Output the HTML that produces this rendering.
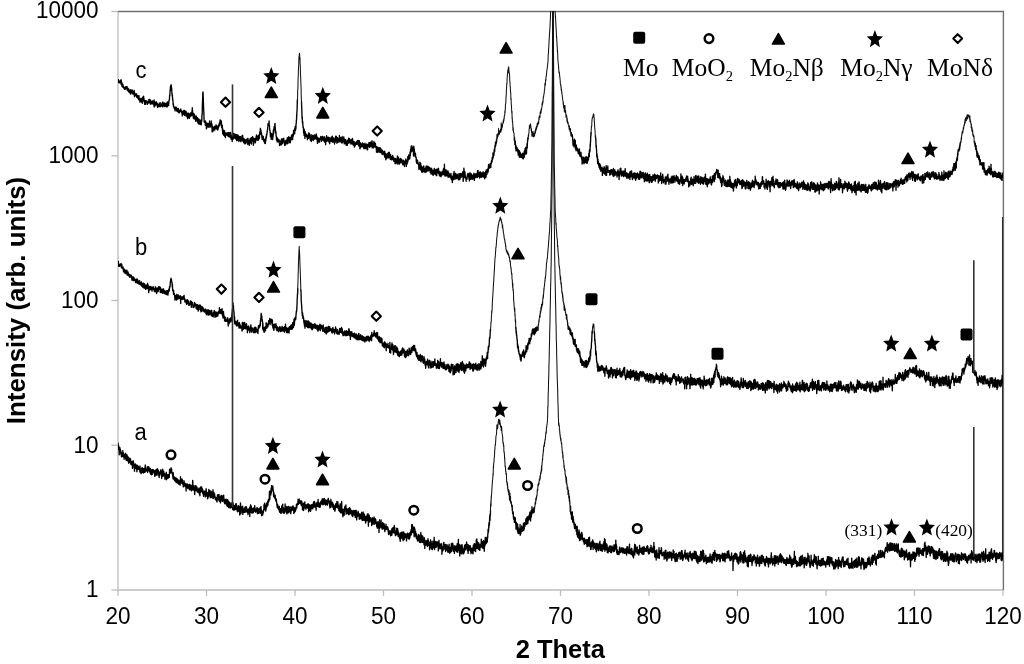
<!DOCTYPE html>
<html><head><meta charset="utf-8"><title>XRD</title>
<style>html,body{margin:0;padding:0;background:#fff;width:1024px;height:664px;overflow:hidden}svg{display:block;will-change:transform;filter:blur(0.3px)}</style>
</head><body>
<svg width="1024" height="664" viewBox="0 0 1024 664">
<rect width="1024" height="664" fill="#fff"/>
<defs><clipPath id="pa"><rect x="118" y="11" width="885" height="579"/></clipPath></defs>
<g stroke="#bdbdbd" stroke-width="1.3" fill="none"><line x1="111.5" y1="11.5" x2="118" y2="11.5"/><line x1="111.5" y1="155.8" x2="118" y2="155.8"/><line x1="111.5" y1="300.5" x2="118" y2="300.5"/><line x1="111.5" y1="445.2" x2="118" y2="445.2"/><line x1="111.5" y1="590.0" x2="118" y2="590.0"/><line x1="118.0" y1="590" x2="118.0" y2="595.8"/><line x1="206.5" y1="590" x2="206.5" y2="595.8"/><line x1="295.0" y1="590" x2="295.0" y2="595.8"/><line x1="383.5" y1="590" x2="383.5" y2="595.8"/><line x1="472.0" y1="590" x2="472.0" y2="595.8"/><line x1="560.5" y1="590" x2="560.5" y2="595.8"/><line x1="649.0" y1="590" x2="649.0" y2="595.8"/><line x1="737.5" y1="590" x2="737.5" y2="595.8"/><line x1="826.0" y1="590" x2="826.0" y2="595.8"/><line x1="914.5" y1="590" x2="914.5" y2="595.8"/><line x1="1003.0" y1="590" x2="1003.0" y2="595.8"/>
<path d="M118 11.5V590H1003.4"/></g>
<path d="M118 11.5H1003.4V590" fill="none" stroke="#707070" stroke-width="1.4"/>
<g clip-path="url(#pa)" fill="none" stroke="#000" stroke-width="1.35" stroke-linejoin="round">
<path d="M118.0 80.9 118.1 81.6 118.3 81.3 118.4 79.7 118.5 82.4 118.7 82.2 118.8 81.3 118.9 82.8 119.1 82.7 119.2 82.6 119.3 82.3 119.5 82.7 119.6 81.1 119.7 81.6 119.9 81.1 120.0 82.3 120.1 81.7 120.3 81.4 120.4 80.5 120.5 81.7 120.7 82.2 120.8 82.1 120.9 84.0 121.1 83.9 121.2 79.8 121.3 80.9 121.5 82.9 121.6 82.8 121.7 83.6 121.8 83.8 122.0 86.2 122.1 82.8 122.2 84.0 122.4 87.0 122.5 85.8 122.6 86.3 122.8 85.3 122.9 84.4 123.0 86.9 123.2 87.1 123.3 85.9 123.4 86.8 123.6 87.7 123.7 86.9 123.8 88.0 124.0 88.4 124.1 88.4 124.2 87.8 124.4 89.1 124.5 89.4 124.6 88.7 124.8 87.4 124.9 89.1 125.0 87.7 125.2 89.3 125.3 87.0 125.4 89.2 125.6 88.1 125.7 86.7 125.8 87.7 126.0 88.1 126.1 88.3 126.2 86.8 126.4 86.7 126.5 88.2 126.6 87.5 126.8 88.4 126.9 89.1 127.0 86.5 127.2 88.8 127.3 90.1 127.4 88.5 127.6 88.1 127.7 90.1 127.8 89.8 128.0 90.8 128.1 89.6 128.2 88.5 128.4 90.3 128.5 90.1 128.6 91.7 128.8 91.1 128.9 89.1 129.0 89.6 129.2 92.1 129.3 92.0 129.4 90.6 129.5 91.5 129.7 92.1 129.8 92.3 129.9 92.9 130.1 92.4 130.2 92.0 130.3 91.9 130.5 94.1 130.6 89.6 130.7 91.8 130.9 92.0 131.0 90.1 131.1 92.0 131.3 90.7 131.4 92.4 131.5 91.2 131.7 92.1 131.8 92.8 131.9 92.0 132.1 90.6 132.2 89.9 132.3 93.9 132.5 91.8 132.6 91.2 132.7 92.2 132.9 91.9 133.0 93.2 133.1 92.3 133.3 92.4 133.4 91.6 133.5 93.1 133.7 91.4 133.8 93.5 133.9 94.7 134.1 91.2 134.2 90.3 134.3 94.5 134.5 96.7 134.6 92.7 134.7 92.7 134.9 95.1 135.0 93.6 135.1 94.2 135.3 94.5 135.4 95.7 135.5 94.6 135.7 95.5 135.8 94.9 135.9 94.1 136.1 94.7 136.2 93.9 136.3 95.1 136.5 93.8 136.6 94.0 136.7 97.3 136.9 95.7 137.0 95.9 137.1 96.8 137.2 95.9 137.4 96.3 137.5 97.2 137.6 97.1 137.8 95.4 137.9 98.4 138.0 96.3 138.2 95.9 138.3 96.2 138.4 97.0 138.6 99.6 138.7 96.4 138.8 98.3 139.0 95.7 139.1 98.6 139.2 99.9 139.4 98.8 139.5 98.5 139.6 99.8 139.8 100.5 139.9 100.6 140.0 102.3 140.2 100.2 140.3 99.3 140.4 99.9 140.6 100.0 140.7 100.3 140.8 100.2 141.0 100.5 141.1 98.3 141.2 101.5 141.4 99.9 141.5 99.2 141.6 101.4 141.8 102.1 141.9 101.0 142.0 100.4 142.2 98.9 142.3 103.3 142.4 100.6 142.6 97.3 142.7 98.2 142.8 99.1 143.0 97.0 143.1 99.1 143.2 98.4 143.4 100.6 143.5 100.4 143.6 96.1 143.8 99.8 143.9 98.1 144.0 101.8 144.2 101.0 144.3 101.8 144.4 100.1 144.6 103.9 144.7 104.4 144.8 100.7 144.9 102.6 145.1 101.3 145.2 102.0 145.3 100.4 145.5 104.2 145.6 100.6 145.7 101.4 145.9 102.3 146.0 100.9 146.1 101.5 146.3 101.2 146.4 101.9 146.5 100.8 146.7 101.9 146.8 102.5 146.9 102.6 147.1 103.3 147.2 103.0 147.3 104.4 147.5 103.1 147.6 103.3 147.7 102.5 147.9 102.5 148.0 101.3 148.1 103.3 148.3 101.0 148.4 101.3 148.5 102.5 148.7 102.5 148.8 101.5 148.9 99.5 149.1 102.5 149.2 102.3 149.3 99.3 149.5 102.8 149.6 100.9 149.7 100.3 149.9 101.8 150.0 101.5 150.1 102.0 150.3 99.8 150.4 104.2 150.5 101.3 150.7 100.2 150.8 103.0 150.9 101.8 151.1 102.8 151.2 102.1 151.3 102.6 151.5 103.1 151.6 101.6 151.7 103.9 151.9 102.6 152.0 102.0 152.1 103.2 152.2 103.8 152.4 102.6 152.5 101.8 152.6 103.7 152.8 100.8 152.9 101.9 153.0 103.4 153.2 101.8 153.3 103.6 153.4 103.5 153.6 104.6 153.7 102.2 153.8 102.5 154.0 103.6 154.1 100.0 154.2 107.0 154.4 102.4 154.5 102.6 154.6 104.9 154.8 104.1 154.9 102.2 155.0 105.4 155.2 105.8 155.3 104.1 155.4 104.3 155.6 105.0 155.7 103.1 155.8 104.5 156.0 104.0 156.1 102.7 156.2 101.7 156.4 103.1 156.5 102.3 156.6 104.8 156.8 104.0 156.9 104.9 157.0 104.4 157.2 104.9 157.3 103.3 157.4 105.9 157.6 107.4 157.7 104.9 157.8 104.5 158.0 105.0 158.1 104.2 158.2 104.1 158.4 105.0 158.5 104.4 158.6 106.5 158.8 104.7 158.9 105.1 159.0 105.9 159.2 104.3 159.3 106.5 159.4 103.8 159.6 103.5 159.7 104.0 159.8 104.3 159.9 102.8 160.1 104.6 160.2 102.7 160.3 106.7 160.5 105.0 160.6 104.5 160.7 104.3 160.9 105.0 161.0 105.2 161.1 104.1 161.3 104.2 161.4 104.9 161.5 104.4 161.7 106.0 161.8 106.2 161.9 104.7 162.1 105.2 162.2 103.0 162.3 105.5 162.5 104.7 162.6 105.4 162.7 106.9 162.9 102.0 163.0 105.1 163.1 103.4 163.3 105.8 163.4 103.0 163.5 104.0 163.7 104.9 163.8 105.9 163.9 104.9 164.1 103.9 164.2 104.3 164.3 106.2 164.5 105.1 164.6 102.9 164.7 106.1 164.9 105.5 165.0 106.6 165.1 104.4 165.3 105.8 165.4 103.4 165.5 105.4 165.7 104.0 165.8 105.4 165.9 105.8 166.1 103.5 166.2 104.4 166.3 104.6 166.5 106.8 166.6 105.5 166.7 103.0 166.9 105.0 167.0 105.3 167.1 106.9 167.3 101.9 167.4 103.2 167.5 106.3 167.6 102.1 167.8 102.3 167.9 104.6 168.0 105.2 168.2 103.2 168.3 104.6 168.4 104.0 168.6 105.5 168.7 103.2 168.8 103.8 169.0 100.2 169.1 100.8 169.2 99.9 169.4 100.2 169.5 98.3 169.6 95.4 169.8 95.7 169.9 94.5 170.0 92.2 170.2 90.7 170.3 89.6 170.4 86.8 170.6 88.0 170.7 87.3 170.8 85.5 171.0 87.1 171.1 84.7 171.2 86.0 171.4 86.8 171.5 90.5 171.6 87.6 171.8 91.3 171.9 93.2 172.0 93.9 172.2 96.3 172.3 95.0 172.4 94.8 172.6 99.7 172.7 98.5 172.8 100.7 173.0 100.6 173.1 104.3 173.2 104.9 173.4 103.7 173.5 106.5 173.6 106.1 173.8 106.3 173.9 107.1 174.0 107.0 174.2 108.4 174.3 108.2 174.4 107.5 174.6 109.3 174.7 107.3 174.8 108.4 174.9 108.6 175.1 110.9 175.2 107.3 175.3 110.2 175.5 108.2 175.6 107.8 175.7 107.3 175.9 109.0 176.0 108.5 176.1 107.1 176.3 107.3 176.4 108.2 176.5 108.2 176.7 110.6 176.8 111.0 176.9 110.9 177.1 109.6 177.2 108.5 177.3 109.0 177.5 110.0 177.6 111.6 177.7 110.0 177.9 108.6 178.0 109.2 178.1 108.4 178.3 108.6 178.4 109.6 178.5 110.3 178.7 112.6 178.8 110.5 178.9 112.3 179.1 112.9 179.2 110.8 179.3 112.8 179.5 111.7 179.6 110.2 179.7 111.1 179.9 110.7 180.0 110.4 180.1 110.4 180.3 110.8 180.4 111.3 180.5 109.6 180.7 110.9 180.8 109.0 180.9 111.5 181.1 112.1 181.2 111.6 181.3 111.9 181.5 112.4 181.6 110.9 181.7 111.7 181.9 112.8 182.0 113.6 182.1 113.0 182.3 115.9 182.4 112.5 182.5 114.0 182.6 114.3 182.8 112.4 182.9 111.5 183.0 111.1 183.2 112.9 183.3 114.3 183.4 113.3 183.6 113.2 183.7 112.6 183.8 113.8 184.0 110.2 184.1 113.2 184.2 112.8 184.4 110.8 184.5 115.4 184.6 110.6 184.8 110.9 184.9 110.8 185.0 113.9 185.2 110.8 185.3 113.6 185.4 114.1 185.6 113.5 185.7 111.7 185.8 112.8 186.0 116.0 186.1 111.4 186.2 113.0 186.4 113.9 186.5 115.4 186.6 114.7 186.8 115.5 186.9 113.3 187.0 116.1 187.2 115.8 187.3 113.1 187.4 117.5 187.6 118.6 187.7 114.7 187.8 115.9 188.0 117.8 188.1 113.9 188.2 113.2 188.4 114.1 188.5 115.0 188.6 115.0 188.8 116.6 188.9 116.1 189.0 113.3 189.2 116.6 189.3 118.4 189.4 117.6 189.6 117.3 189.7 115.9 189.8 117.0 190.0 114.2 190.1 116.2 190.2 114.8 190.3 116.2 190.5 115.1 190.6 112.9 190.7 114.5 190.9 116.0 191.0 112.9 191.1 113.8 191.3 113.6 191.4 112.6 191.5 115.7 191.7 115.6 191.8 114.6 191.9 112.0 192.1 110.2 192.2 109.4 192.3 107.7 192.5 110.3 192.6 111.9 192.7 113.3 192.9 112.8 193.0 114.6 193.1 114.9 193.3 118.0 193.4 116.0 193.5 113.4 193.7 116.6 193.8 118.7 193.9 117.2 194.1 117.6 194.2 116.7 194.3 114.1 194.5 114.5 194.6 115.4 194.7 117.2 194.9 118.2 195.0 119.2 195.1 117.7 195.3 119.8 195.4 118.5 195.5 118.2 195.7 121.3 195.8 118.6 195.9 116.3 196.1 118.7 196.2 120.4 196.3 116.0 196.5 119.7 196.6 119.7 196.7 118.0 196.9 117.8 197.0 119.1 197.1 118.9 197.3 121.4 197.4 120.2 197.5 117.6 197.7 118.8 197.8 121.1 197.9 122.9 198.0 121.0 198.2 121.0 198.3 123.3 198.4 120.7 198.6 120.4 198.7 119.0 198.8 120.4 199.0 124.3 199.1 119.5 199.2 121.7 199.4 120.0 199.5 122.3 199.6 123.4 199.8 121.9 199.9 123.2 200.0 123.1 200.2 122.6 200.3 124.3 200.4 122.9 200.6 121.3 200.7 120.2 200.8 120.3 201.0 122.3 201.1 120.7 201.2 124.8 201.4 123.3 201.5 119.9 201.6 119.4 201.8 121.3 201.9 115.2 202.0 115.2 202.2 114.4 202.3 108.3 202.4 104.6 202.6 100.1 202.7 97.3 202.8 92.9 203.0 92.0 203.1 93.5 203.2 96.2 203.4 102.0 203.5 104.6 203.6 108.1 203.8 111.5 203.9 114.6 204.0 118.3 204.2 122.0 204.3 121.9 204.4 121.5 204.6 121.2 204.7 122.2 204.8 122.5 205.0 122.4 205.1 121.4 205.2 122.9 205.3 125.2 205.5 121.0 205.6 124.1 205.7 121.8 205.9 125.5 206.0 124.5 206.1 123.0 206.3 126.3 206.4 128.9 206.5 126.6 206.7 128.0 206.8 126.1 206.9 122.9 207.1 126.5 207.2 124.7 207.3 123.4 207.5 126.5 207.6 125.9 207.7 124.4 207.9 126.9 208.0 124.5 208.1 126.6 208.3 124.3 208.4 126.3 208.5 123.7 208.7 127.2 208.8 125.2 208.9 126.7 209.1 123.4 209.2 123.9 209.3 125.9 209.5 121.0 209.6 123.6 209.7 126.8 209.9 126.2 210.0 127.1 210.1 125.4 210.3 126.7 210.4 124.8 210.5 123.9 210.7 123.4 210.8 125.0 210.9 125.0 211.1 124.6 211.2 120.9 211.3 123.3 211.5 125.6 211.6 126.9 211.7 125.9 211.9 125.7 212.0 123.9 212.1 131.9 212.3 126.2 212.4 131.7 212.5 130.7 212.7 129.1 212.8 128.0 212.9 129.2 213.0 127.4 213.2 129.4 213.3 129.0 213.4 129.6 213.6 130.0 213.7 130.9 213.8 127.6 214.0 129.5 214.1 126.7 214.2 126.4 214.4 126.8 214.5 126.3 214.6 129.9 214.8 129.3 214.9 129.9 215.0 128.0 215.2 128.5 215.3 127.2 215.4 126.2 215.6 128.3 215.7 127.9 215.8 125.8 216.0 128.2 216.1 124.8 216.2 127.0 216.4 126.4 216.5 126.6 216.6 125.9 216.8 128.9 216.9 128.4 217.0 129.4 217.2 128.0 217.3 126.1 217.4 127.6 217.6 126.5 217.7 128.9 217.8 130.0 218.0 128.6 218.1 127.1 218.2 127.3 218.4 127.9 218.5 125.2 218.6 127.3 218.8 126.9 218.9 125.5 219.0 125.2 219.2 125.6 219.3 123.8 219.4 122.7 219.6 125.0 219.7 123.8 219.8 125.4 220.0 121.3 220.1 119.9 220.2 123.5 220.4 123.5 220.5 121.2 220.6 120.3 220.7 122.6 220.9 120.5 221.0 122.9 221.1 120.7 221.3 123.8 221.4 121.6 221.5 124.7 221.7 127.6 221.8 125.6 221.9 127.7 222.1 125.8 222.2 126.6 222.3 125.2 222.5 130.6 222.6 129.6 222.7 133.7 222.9 129.0 223.0 130.8 223.1 131.6 223.3 133.9 223.4 134.8 223.5 131.5 223.7 131.1 223.8 130.6 223.9 135.4 224.1 133.6 224.2 133.0 224.3 134.2 224.5 130.7 224.6 132.1 224.7 136.2 224.9 135.5 225.0 135.2 225.1 133.5 225.3 135.8 225.4 137.5 225.5 133.0 225.7 134.8 225.8 134.2 225.9 135.3 226.1 134.8 226.2 134.5 226.3 133.3 226.5 134.4 226.6 133.4 226.7 134.0 226.9 134.0 227.0 135.0 227.1 132.7 227.3 133.6 227.4 135.8 227.5 133.9 227.7 133.9 227.8 135.6 227.9 134.8 228.0 134.5 228.2 134.7 228.3 132.6 228.4 135.2 228.6 136.6 228.7 135.5 228.8 132.4 229.0 135.2 229.1 133.4 229.2 134.4 229.4 134.9 229.5 132.8 229.6 136.5 229.8 134.3 229.9 135.6 230.0 135.4 230.2 137.6 230.3 136.6 230.4 132.8 230.6 135.3 230.7 132.4 230.8 135.1 231.0 137.1 231.1 137.6 231.2 139.2 231.4 135.9 231.5 136.9 231.6 136.5 231.8 138.1 231.9 138.5 232.0 135.1 232.2 141.5 232.3 135.7 232.4 135.1 232.6 136.5 232.7 136.8 232.8 136.6 233.0 134.9 233.1 139.2 233.2 136.1 233.4 138.4 233.5 138.3 233.6 133.3 233.8 134.7 233.9 134.7 234.0 136.5 234.2 136.2 234.3 136.4 234.4 134.8 234.6 136.6 234.7 138.1 234.8 133.9 235.0 135.7 235.1 136.3 235.2 135.6 235.4 135.5 235.5 138.4 235.6 137.6 235.7 136.9 235.9 134.5 236.0 139.2 236.1 136.6 236.3 135.5 236.4 136.2 236.5 136.4 236.7 140.7 236.8 138.0 236.9 137.9 237.1 134.6 237.2 139.0 237.3 135.4 237.5 136.0 237.6 138.6 237.7 136.3 237.9 138.9 238.0 140.3 238.1 135.2 238.3 137.9 238.4 135.9 238.5 138.4 238.7 140.0 238.8 136.6 238.9 141.5 239.1 138.4 239.2 137.0 239.3 138.6 239.5 140.6 239.6 136.6 239.7 138.7 239.9 136.5 240.0 140.3 240.1 138.7 240.3 137.8 240.4 140.1 240.5 136.7 240.7 138.2 240.8 141.7 240.9 138.9 241.1 141.2 241.2 139.6 241.3 138.2 241.5 139.0 241.6 139.4 241.7 138.6 241.9 137.9 242.0 137.9 242.1 135.7 242.3 139.3 242.4 139.8 242.5 140.5 242.7 135.3 242.8 141.0 242.9 139.9 243.1 138.0 243.2 140.6 243.3 141.8 243.4 141.5 243.6 142.6 243.7 142.6 243.8 142.8 244.0 141.6 244.1 138.6 244.2 140.7 244.4 142.4 244.5 141.1 244.6 142.7 244.8 142.7 244.9 141.3 245.0 144.0 245.2 139.6 245.3 142.6 245.4 140.5 245.6 140.2 245.7 142.5 245.8 140.8 246.0 143.2 246.1 140.1 246.2 141.9 246.4 140.4 246.5 141.2 246.6 140.8 246.8 139.4 246.9 142.0 247.0 138.9 247.2 139.2 247.3 142.1 247.4 142.3 247.6 141.9 247.7 141.5 247.8 144.6 248.0 138.3 248.1 140.1 248.2 139.8 248.4 142.7 248.5 142.0 248.6 143.1 248.8 142.9 248.9 141.1 249.0 140.4 249.2 140.3 249.3 145.4 249.4 143.7 249.6 143.3 249.7 141.9 249.8 142.1 250.0 141.9 250.1 141.8 250.2 138.4 250.4 141.9 250.5 141.3 250.6 142.2 250.8 142.1 250.9 143.1 251.0 141.8 251.1 143.0 251.3 137.8 251.4 139.9 251.5 144.0 251.7 139.2 251.8 140.3 251.9 141.5 252.1 138.7 252.2 140.9 252.3 137.5 252.5 136.6 252.6 137.5 252.7 136.9 252.9 139.5 253.0 139.0 253.1 139.9 253.3 137.8 253.4 145.2 253.5 139.1 253.7 139.2 253.8 140.0 253.9 138.9 254.1 138.4 254.2 139.6 254.3 141.0 254.5 140.7 254.6 141.2 254.7 139.0 254.9 138.7 255.0 143.0 255.1 139.7 255.3 140.8 255.4 141.3 255.5 142.5 255.7 138.3 255.8 139.7 255.9 139.7 256.1 139.8 256.2 136.3 256.3 139.6 256.5 135.0 256.6 139.6 256.7 139.7 256.9 139.6 257.0 136.7 257.1 140.0 257.3 137.2 257.4 136.7 257.5 137.2 257.7 137.5 257.8 139.2 257.9 140.2 258.1 135.8 258.2 138.1 258.3 140.2 258.4 139.0 258.6 139.5 258.7 135.7 258.8 139.0 259.0 134.7 259.1 136.9 259.2 138.0 259.4 138.2 259.5 135.4 259.6 135.2 259.8 132.2 259.9 131.7 260.0 133.4 260.2 131.0 260.3 130.4 260.4 128.3 260.6 130.6 260.7 131.5 260.8 129.8 261.0 130.8 261.1 134.5 261.2 133.2 261.4 133.2 261.5 132.6 261.6 134.0 261.8 135.1 261.9 138.0 262.0 135.5 262.2 139.5 262.3 135.7 262.4 136.9 262.6 139.0 262.7 137.5 262.8 136.9 263.0 138.2 263.1 139.3 263.2 136.3 263.4 138.8 263.5 139.3 263.6 138.9 263.8 141.3 263.9 139.1 264.0 140.0 264.2 140.8 264.3 141.9 264.4 140.5 264.6 143.1 264.7 139.4 264.8 142.8 265.0 139.5 265.1 140.5 265.2 141.1 265.4 143.5 265.5 141.4 265.6 138.9 265.8 141.0 265.9 138.1 266.0 136.6 266.1 137.8 266.3 136.6 266.4 138.0 266.5 134.5 266.7 135.2 266.8 134.9 266.9 133.7 267.1 132.5 267.2 130.7 267.3 132.0 267.5 129.9 267.6 129.3 267.7 127.0 267.9 126.4 268.0 123.9 268.1 124.6 268.3 124.9 268.4 123.5 268.5 124.4 268.7 123.6 268.8 125.4 268.9 123.6 269.1 121.0 269.2 125.8 269.3 125.8 269.5 125.5 269.6 128.9 269.7 129.4 269.9 130.9 270.0 130.6 270.1 132.7 270.3 133.7 270.4 136.8 270.5 133.2 270.7 135.2 270.8 136.1 270.9 133.2 271.1 133.6 271.2 139.4 271.3 133.6 271.5 137.3 271.6 135.4 271.7 135.7 271.9 134.0 272.0 135.8 272.1 138.4 272.3 134.1 272.4 138.0 272.5 137.3 272.7 139.5 272.8 135.2 272.9 137.2 273.1 135.9 273.2 133.4 273.3 130.5 273.5 134.4 273.6 129.3 273.7 129.7 273.8 130.8 274.0 130.4 274.1 126.8 274.2 127.3 274.4 126.5 274.5 129.1 274.6 130.1 274.8 124.0 274.9 128.3 275.0 123.4 275.2 128.2 275.3 127.4 275.4 132.8 275.6 131.2 275.7 130.9 275.8 132.2 276.0 133.1 276.1 135.3 276.2 135.7 276.4 137.8 276.5 140.0 276.6 139.5 276.8 137.2 276.9 137.2 277.0 138.9 277.2 142.0 277.3 140.1 277.4 139.7 277.6 140.9 277.7 138.5 277.8 138.9 278.0 141.4 278.1 140.1 278.2 139.5 278.4 141.1 278.5 139.8 278.6 139.8 278.8 140.3 278.9 142.2 279.0 141.6 279.2 139.9 279.3 141.6 279.4 143.3 279.6 145.5 279.7 141.0 279.8 143.4 280.0 142.6 280.1 144.2 280.2 143.5 280.4 144.8 280.5 143.1 280.6 141.1 280.8 140.8 280.9 142.0 281.0 141.8 281.1 144.8 281.3 144.9 281.4 139.2 281.5 141.7 281.7 139.2 281.8 138.8 281.9 143.2 282.1 142.3 282.2 139.7 282.3 143.7 282.5 139.4 282.6 138.9 282.7 141.5 282.9 140.7 283.0 140.0 283.1 140.2 283.3 140.9 283.4 140.5 283.5 140.7 283.7 138.2 283.8 139.3 283.9 142.4 284.1 140.5 284.2 142.5 284.3 143.7 284.5 141.3 284.6 142.5 284.7 145.4 284.9 143.5 285.0 145.4 285.1 145.2 285.3 144.7 285.4 142.9 285.5 141.8 285.7 140.5 285.8 143.6 285.9 143.2 286.1 141.9 286.2 143.0 286.3 140.3 286.5 142.6 286.6 140.6 286.7 140.3 286.9 140.2 287.0 139.9 287.1 144.0 287.3 137.8 287.4 140.6 287.5 142.4 287.7 141.7 287.8 140.2 287.9 143.4 288.1 139.1 288.2 137.7 288.3 141.5 288.5 138.3 288.6 136.8 288.7 141.7 288.8 141.5 289.0 141.4 289.1 139.4 289.2 140.4 289.4 138.6 289.5 142.7 289.6 141.3 289.8 141.2 289.9 137.1 290.0 141.3 290.2 142.3 290.3 142.7 290.4 141.5 290.6 139.4 290.7 138.5 290.8 139.6 291.0 138.9 291.1 138.3 291.2 137.1 291.4 139.8 291.5 135.3 291.6 136.8 291.8 135.8 291.9 138.1 292.0 138.6 292.2 138.3 292.3 137.5 292.4 134.3 292.6 139.6 292.7 137.2 292.8 136.2 293.0 136.3 293.1 135.5 293.2 136.3 293.4 135.6 293.5 134.1 293.6 130.3 293.8 133.5 293.9 133.8 294.0 133.5 294.2 132.1 294.3 132.8 294.4 133.4 294.6 131.1 294.7 133.7 294.8 128.5 295.0 129.2 295.1 129.3 295.2 126.5 295.4 128.0 295.5 130.5 295.6 129.7 295.8 127.1 295.9 128.4 296.0 125.2 296.2 122.9 296.3 122.5 296.4 120.4 296.5 119.9 296.7 114.9 296.8 116.1 296.9 111.6 297.1 110.6 297.2 104.4 297.3 102.4 297.5 99.4 M301.5 101.4 301.6 105.3 301.7 107.3 301.9 112.4 302.0 116.5 302.1 118.6 302.3 117.1 302.4 122.9 302.5 121.6 302.7 121.3 302.8 123.5 302.9 125.0 303.1 127.4 303.2 126.8 303.3 126.8 303.5 129.3 303.6 133.0 303.7 129.6 303.9 131.6 304.0 131.4 304.1 135.4 304.2 129.1 304.4 133.8 304.5 130.7 304.6 132.1 304.8 133.2 304.9 138.4 305.0 133.0 305.2 131.6 305.3 136.6 305.4 132.9 305.6 134.6 305.7 135.0 305.8 135.2 306.0 134.8 306.1 135.5 306.2 135.8 306.4 136.6 306.5 134.8 306.6 134.5 306.8 134.3 306.9 137.0 307.0 136.3 307.2 137.5 307.3 137.7 307.4 139.7 307.6 137.6 307.7 138.6 307.8 135.8 308.0 136.1 308.1 137.2 308.2 135.7 308.4 138.4 308.5 135.1 308.6 136.9 308.8 132.8 308.9 134.6 309.0 135.6 309.2 135.6 309.3 133.3 309.4 136.4 309.6 137.9 309.7 137.7 309.8 136.0 310.0 136.4 310.1 135.8 310.2 138.8 310.4 140.2 310.5 137.4 310.6 135.8 310.8 138.8 310.9 139.6 311.0 134.4 311.2 138.6 311.3 141.5 311.4 139.4 311.5 138.8 311.7 138.5 311.8 139.5 311.9 136.5 312.1 136.7 312.2 138.7 312.3 137.1 312.5 138.6 312.6 135.3 312.7 139.9 312.9 139.5 313.0 138.2 313.1 138.3 313.3 140.5 313.4 136.3 313.5 136.5 313.7 136.1 313.8 136.9 313.9 135.8 314.1 137.3 314.2 136.2 314.3 135.0 314.5 134.9 314.6 139.2 314.7 137.4 314.9 137.2 315.0 137.7 315.1 137.6 315.3 138.8 315.4 138.4 315.5 136.5 315.7 135.9 315.8 135.4 315.9 135.0 316.1 139.0 316.2 135.6 316.3 134.0 316.5 136.0 316.6 136.3 316.7 138.3 316.9 136.7 317.0 139.1 317.1 139.2 317.3 140.7 317.4 142.3 317.5 143.4 317.7 141.2 317.8 137.4 317.9 138.2 318.1 139.7 318.2 142.2 318.3 140.6 318.5 140.9 318.6 138.9 318.7 140.1 318.9 140.5 319.0 138.5 319.1 140.9 319.2 141.4 319.4 139.6 319.5 141.3 319.6 142.1 319.8 139.5 319.9 139.2 320.0 138.5 320.2 137.9 320.3 138.9 320.4 138.0 320.6 138.2 320.7 137.6 320.8 136.5 321.0 137.6 321.1 139.6 321.2 137.3 321.4 138.0 321.5 141.3 321.6 140.3 321.8 137.2 321.9 138.9 322.0 136.7 322.2 140.0 322.3 136.5 322.4 137.5 322.6 139.6 322.7 136.5 322.8 140.0 323.0 137.1 323.1 139.1 323.2 138.6 323.4 139.2 323.5 139.8 323.6 139.6 323.8 138.2 323.9 141.1 324.0 140.8 324.2 141.6 324.3 141.8 324.4 136.6 324.6 141.7 324.7 141.8 324.8 139.1 325.0 141.6 325.1 142.4 325.2 139.4 325.4 138.2 325.5 139.9 325.6 144.7 325.8 140.8 325.9 138.6 326.0 140.0 326.2 138.7 326.3 139.4 326.4 140.0 326.6 135.7 326.7 139.9 326.8 141.4 326.9 138.9 327.1 138.6 327.2 141.0 327.3 137.5 327.5 137.6 327.6 137.4 327.7 139.3 327.9 140.0 328.0 139.1 328.1 140.0 328.3 140.3 328.4 139.7 328.5 137.2 328.7 138.7 328.8 142.1 328.9 137.8 329.1 139.1 329.2 139.0 329.3 139.5 329.5 138.2 329.6 137.8 329.7 143.7 329.9 141.2 330.0 138.7 330.1 139.6 330.3 141.3 330.4 139.3 330.5 140.9 330.7 139.2 330.8 139.8 330.9 140.4 331.1 140.0 331.2 137.1 331.3 140.9 331.5 141.5 331.6 141.5 331.7 139.1 331.9 140.9 332.0 140.4 332.1 137.1 332.3 136.2 332.4 140.1 332.5 137.7 332.7 140.6 332.8 142.3 332.9 138.2 333.1 138.2 333.2 139.4 333.3 140.6 333.5 138.0 333.6 141.8 333.7 141.5 333.9 141.2 334.0 139.4 334.1 141.8 334.2 141.9 334.4 138.9 334.5 144.1 334.6 140.6 334.8 141.6 334.9 140.2 335.0 141.4 335.2 142.3 335.3 139.0 335.4 137.3 335.6 138.8 335.7 136.1 335.8 137.7 336.0 138.4 336.1 138.5 336.2 140.6 336.4 136.3 336.5 139.4 336.6 138.2 336.8 141.3 336.9 143.3 337.0 140.1 337.2 142.4 337.3 139.2 337.4 137.7 337.6 138.4 337.7 138.0 337.8 139.1 338.0 140.2 338.1 142.3 338.2 141.5 338.4 141.1 338.5 139.7 338.6 138.6 338.8 140.3 338.9 140.4 339.0 140.5 339.2 140.7 339.3 139.9 339.4 135.5 339.6 138.1 339.7 138.4 339.8 142.1 340.0 138.7 340.1 140.3 340.2 141.4 340.4 139.6 340.5 138.4 340.6 138.6 340.8 137.5 340.9 139.6 341.0 141.0 341.2 140.3 341.3 141.4 341.4 140.8 341.6 142.9 341.7 139.0 341.8 140.3 341.9 141.2 342.1 143.0 342.2 136.5 342.3 139.5 342.5 140.1 342.6 138.1 342.7 142.0 342.9 141.1 343.0 140.3 343.1 138.4 343.3 138.8 343.4 139.2 343.5 141.5 343.7 138.4 343.8 136.9 343.9 137.7 344.1 138.9 344.2 142.5 344.3 143.9 344.5 139.6 344.6 142.1 344.7 143.2 344.9 143.4 345.0 141.5 345.1 140.0 345.3 141.4 345.4 139.5 345.5 142.8 345.7 143.7 345.8 139.7 345.9 142.6 346.1 143.3 346.2 144.9 346.3 145.3 346.5 144.5 346.6 142.3 346.7 142.7 346.9 145.1 347.0 141.7 347.1 142.9 347.3 145.2 347.4 142.8 347.5 140.3 347.7 141.8 347.8 143.1 347.9 141.6 348.1 143.4 348.2 143.2 348.3 139.9 348.5 139.7 348.6 140.0 348.7 138.1 348.9 140.4 349.0 139.4 349.1 140.9 349.3 138.8 349.4 138.5 349.5 142.8 349.6 138.8 349.8 139.4 349.9 139.4 350.0 140.3 350.2 139.7 350.3 141.3 350.4 140.7 350.6 141.6 350.7 143.2 350.8 144.0 351.0 143.9 351.1 142.2 351.2 143.9 351.4 143.0 351.5 142.7 351.6 139.8 351.8 143.1 351.9 141.4 352.0 143.8 352.2 141.8 352.3 138.9 352.4 138.4 352.6 143.3 352.7 139.5 352.8 142.2 353.0 141.0 353.1 145.1 353.2 142.3 353.4 144.8 353.5 144.7 353.6 142.1 353.8 142.4 353.9 145.3 354.0 143.0 354.2 141.7 354.3 144.9 354.4 147.1 354.6 143.0 354.7 146.5 354.8 143.0 355.0 145.5 355.1 143.1 355.2 145.7 355.4 144.6 355.5 143.6 355.6 144.3 355.8 143.1 355.9 142.1 356.0 142.2 356.2 143.6 356.3 141.9 356.4 144.4 356.6 143.9 356.7 143.6 356.8 141.9 357.0 142.5 357.1 142.2 357.2 144.2 357.3 140.7 357.5 141.3 357.6 141.5 357.7 141.6 357.9 140.7 358.0 140.5 358.1 143.6 358.3 141.2 358.4 143.8 358.5 145.8 358.7 144.9 358.8 140.4 358.9 144.7 359.1 144.6 359.2 145.0 359.3 140.6 359.5 145.8 359.6 143.0 359.7 146.9 359.9 146.6 360.0 148.9 360.1 144.4 360.3 142.7 360.4 146.8 360.5 146.6 360.7 144.7 360.8 147.6 360.9 147.2 361.1 143.5 361.2 144.9 361.3 144.7 361.5 145.1 361.6 145.5 361.7 144.1 361.9 145.0 362.0 146.3 362.1 145.4 362.3 145.2 362.4 145.3 362.5 145.7 362.7 142.9 362.8 146.2 362.9 144.3 363.1 146.0 363.2 143.6 363.3 147.4 363.5 146.4 363.6 143.9 363.7 146.5 363.9 144.9 364.0 148.8 364.1 146.5 364.3 144.3 364.4 145.7 364.5 145.1 364.6 146.9 364.8 145.5 364.9 146.2 365.0 143.2 365.2 146.4 365.3 148.6 365.4 146.5 365.6 145.7 365.7 146.3 365.8 144.8 366.0 146.9 366.1 145.2 366.2 147.2 366.4 146.7 366.5 146.1 366.6 148.3 366.8 144.0 366.9 147.3 367.0 145.1 367.2 149.9 367.3 149.9 367.4 148.0 367.6 149.4 367.7 147.2 367.8 147.0 368.0 145.4 368.1 144.5 368.2 146.0 368.4 144.9 368.5 144.9 368.6 146.6 368.8 145.0 368.9 142.6 369.0 144.5 369.2 143.5 369.3 144.1 369.4 142.8 369.6 146.4 369.7 147.5 369.8 142.7 370.0 146.0 370.1 145.3 370.2 142.6 370.4 144.3 370.5 146.2 370.6 145.2 370.8 146.4 370.9 141.9 371.0 142.6 371.2 144.3 371.3 144.6 371.4 144.2 371.6 143.8 371.7 143.9 371.8 143.8 372.0 145.7 372.1 140.8 372.2 147.9 372.3 144.7 372.5 143.4 372.6 146.7 372.7 143.8 372.9 146.7 373.0 145.4 373.1 147.0 373.3 147.8 373.4 147.8 373.5 144.7 373.7 144.8 373.8 145.0 373.9 141.5 374.1 145.6 374.2 144.8 374.3 142.4 374.5 146.4 374.6 146.8 374.7 142.6 374.9 145.8 375.0 147.0 375.1 146.6 375.3 143.9 375.4 143.5 375.5 145.8 375.7 145.5 375.8 146.6 375.9 146.7 376.1 147.9 376.2 146.4 376.3 147.1 376.5 152.2 376.6 147.3 376.7 148.8 376.9 148.3 377.0 148.4 377.1 146.8 377.3 149.3 377.4 148.6 377.5 150.2 377.7 152.3 377.8 149.4 377.9 150.4 378.1 147.5 378.2 149.3 378.3 151.6 378.5 149.0 378.6 148.1 378.7 149.4 378.9 148.8 379.0 148.7 379.1 148.4 379.3 152.3 379.4 147.7 379.5 148.5 379.7 148.3 379.8 151.4 379.9 149.1 380.0 151.9 380.2 150.2 380.3 150.1 380.4 148.0 380.6 152.5 380.7 151.6 380.8 151.5 381.0 150.8 381.1 150.5 381.2 149.2 381.4 153.0 381.5 152.0 381.6 151.0 381.8 150.7 381.9 151.9 382.0 151.7 382.2 154.5 382.3 153.2 382.4 151.0 382.6 150.3 382.7 151.9 382.8 151.0 383.0 152.8 383.1 153.5 383.2 154.1 383.4 153.8 383.5 152.9 383.6 154.3 383.8 151.9 383.9 153.3 384.0 154.9 384.2 154.2 384.3 151.7 384.4 152.0 384.6 151.3 384.7 157.1 384.8 151.6 385.0 154.0 385.1 157.4 385.2 156.2 385.4 156.7 385.5 153.7 385.6 155.8 385.8 159.8 385.9 154.8 386.0 155.8 386.2 154.8 386.3 155.6 386.4 156.6 386.6 158.5 386.7 154.8 386.8 154.0 387.0 156.2 387.1 156.2 387.2 157.9 387.3 156.4 387.5 153.8 387.6 155.6 387.7 156.4 387.9 155.1 388.0 154.3 388.1 156.3 388.3 154.8 388.4 152.5 388.5 157.9 388.7 153.4 388.8 154.9 388.9 154.7 389.1 154.4 389.2 154.4 389.3 152.3 389.5 156.1 389.6 154.9 389.7 155.1 389.9 157.1 390.0 157.5 390.1 158.2 390.3 159.4 390.4 157.4 390.5 154.4 390.7 157.6 390.8 157.6 390.9 157.9 391.1 157.0 391.2 156.6 391.3 159.6 391.5 159.9 391.6 156.5 391.7 159.3 391.9 158.1 392.0 157.8 392.1 159.7 392.3 158.5 392.4 157.8 392.5 158.9 392.7 155.5 392.8 158.0 392.9 158.3 393.1 156.8 393.2 159.5 393.3 159.7 393.5 158.3 393.6 159.1 393.7 160.6 393.9 161.3 394.0 158.2 394.1 160.1 394.3 161.3 394.4 159.6 394.5 158.4 394.7 158.4 394.8 159.0 394.9 158.2 395.0 163.5 395.2 158.7 395.3 161.0 395.4 160.8 395.6 161.7 395.7 160.1 395.8 158.7 396.0 163.8 396.1 160.9 396.2 161.3 396.4 161.3 396.5 162.9 396.6 161.7 396.8 162.1 396.9 161.2 397.0 159.8 397.2 159.8 397.3 158.0 397.4 155.9 397.6 158.9 397.7 157.6 397.8 164.0 398.0 162.4 398.1 161.8 398.2 159.0 398.4 163.5 398.5 157.2 398.6 158.1 398.8 158.9 398.9 158.7 399.0 160.7 399.2 161.0 399.3 164.1 399.4 162.7 399.6 163.3 399.7 162.1 399.8 161.3 400.0 160.5 400.1 159.1 400.2 160.2 400.4 160.9 400.5 162.8 400.6 158.4 400.8 158.9 400.9 161.6 401.0 159.4 401.2 161.9 401.3 160.7 401.4 160.3 401.6 159.5 401.7 161.9 401.8 161.1 402.0 161.5 402.1 161.8 402.2 163.4 402.4 163.6 402.5 160.4 402.6 163.1 402.7 163.9 402.9 164.8 403.0 164.1 403.1 162.8 403.3 160.2 403.4 160.7 403.5 163.6 403.7 160.9 403.8 164.1 403.9 164.7 404.1 160.9 404.2 163.6 404.3 162.8 404.5 166.5 404.6 164.5 404.7 162.1 404.9 163.6 405.0 161.2 405.1 162.4 405.3 162.9 405.4 162.7 405.5 162.8 405.7 160.6 405.8 159.0 405.9 161.3 406.1 160.8 406.2 161.3 406.3 166.4 406.5 164.8 406.6 162.6 406.7 160.4 406.9 160.5 407.0 163.1 407.1 164.0 407.3 161.3 407.4 161.5 407.5 161.3 407.7 162.2 407.8 156.7 407.9 159.7 408.1 159.7 408.2 160.3 408.3 159.0 408.5 156.2 408.6 156.8 408.7 155.0 408.9 157.8 409.0 157.7 409.1 158.1 409.3 155.4 409.4 154.9 409.5 159.1 409.7 156.6 409.8 158.6 409.9 155.9 410.1 152.1 410.2 155.3 410.3 155.4 410.4 152.1 410.6 149.2 410.7 153.0 410.8 151.3 411.0 151.9 411.1 146.6 411.2 151.4 411.4 145.9 411.5 148.6 411.6 151.1 411.8 146.3 411.9 145.9 412.0 147.9 412.2 151.1 412.3 150.9 412.4 147.3 412.6 149.9 412.7 149.3 412.8 149.2 413.0 149.3 413.1 147.8 413.2 150.4 413.4 151.0 413.5 156.1 413.6 151.3 413.8 146.1 413.9 148.5 414.0 151.4 414.2 151.5 414.3 148.8 414.4 152.0 414.6 151.8 414.7 153.0 414.8 153.3 415.0 155.4 415.1 156.8 415.2 156.0 415.4 153.5 415.5 154.5 415.6 155.5 415.8 157.2 415.9 157.2 416.0 158.0 416.2 157.6 416.3 161.4 416.4 161.7 416.6 163.1 416.7 160.8 416.8 162.0 417.0 159.8 417.1 159.8 417.2 160.8 417.4 163.4 417.5 161.8 417.6 160.5 417.7 162.9 417.9 163.9 418.0 163.8 418.1 162.7 418.3 164.4 418.4 163.9 418.5 164.4 418.7 165.2 418.8 167.0 418.9 169.2 419.1 169.0 419.2 167.6 419.3 166.0 419.5 166.3 419.6 166.4 419.7 169.0 419.9 162.1 420.0 167.6 420.1 163.7 420.3 167.3 420.4 169.7 420.5 165.7 420.7 163.3 420.8 169.7 420.9 170.1 421.1 168.4 421.2 170.0 421.3 165.8 421.5 170.3 421.6 171.5 421.7 169.8 421.9 169.3 422.0 172.4 422.1 171.0 422.3 167.0 422.4 171.6 422.5 170.6 422.7 169.7 422.8 171.9 422.9 171.3 423.1 171.1 423.2 168.9 423.3 171.4 423.5 168.1 423.6 170.0 423.7 165.9 423.9 167.6 424.0 171.6 424.1 170.8 424.3 171.1 424.4 172.0 424.5 171.5 424.7 169.0 424.8 170.6 424.9 170.1 425.1 169.1 425.2 169.6 425.3 168.9 425.4 168.2 425.6 168.2 425.7 169.4 425.8 172.6 426.0 166.6 426.1 169.7 426.2 166.2 426.4 171.8 426.5 168.4 426.6 169.2 426.8 171.2 426.9 170.6 427.0 165.9 427.2 169.4 427.3 167.8 427.4 169.2 427.6 168.4 427.7 169.5 427.8 168.9 428.0 168.4 428.1 171.0 428.2 166.4 428.4 168.7 428.5 168.0 428.6 169.7 428.8 169.4 428.9 170.0 429.0 169.4 429.2 169.4 429.3 167.1 429.4 169.8 429.6 170.2 429.7 168.4 429.8 168.1 430.0 168.0 430.1 172.3 430.2 169.7 430.4 170.4 430.5 169.5 430.6 169.5 430.8 169.2 430.9 173.9 431.0 168.2 431.2 171.9 431.3 171.3 431.4 170.9 431.6 168.5 431.7 169.2 431.8 173.4 432.0 170.6 432.1 173.7 432.2 174.2 432.4 173.6 432.5 174.0 432.6 170.5 432.8 171.3 432.9 173.8 433.0 170.1 433.1 175.4 433.3 171.3 433.4 172.2 433.5 170.5 433.7 173.0 433.8 170.9 433.9 171.7 434.1 169.8 434.2 173.9 434.3 168.5 434.5 172.1 434.6 171.6 434.7 171.9 434.9 169.3 435.0 173.4 435.1 174.4 435.3 172.5 435.4 173.2 435.5 172.7 435.7 174.6 435.8 172.2 435.9 174.9 436.1 174.8 436.2 171.5 436.3 169.2 436.5 173.7 436.6 173.4 436.7 175.7 436.9 173.2 437.0 171.8 437.1 169.8 437.3 171.7 437.4 170.4 437.5 169.2 437.7 170.8 437.8 172.9 437.9 171.1 438.1 169.0 438.2 171.6 438.3 169.0 438.5 168.3 438.6 172.2 438.7 170.5 438.9 173.9 439.0 172.8 439.1 171.1 439.3 173.4 439.4 175.8 439.5 173.4 439.7 172.1 439.8 173.0 439.9 172.8 440.1 172.1 440.2 171.9 440.3 174.9 440.4 176.1 440.6 173.2 440.7 175.2 440.8 175.3 441.0 176.7 441.1 173.2 441.2 172.5 441.4 174.2 441.5 173.5 441.6 173.8 441.8 175.6 441.9 172.4 442.0 173.6 442.2 171.4 442.3 172.9 442.4 171.9 442.6 171.7 442.7 172.7 442.8 172.2 443.0 173.6 443.1 174.3 443.2 170.0 443.4 174.6 443.5 168.6 443.6 173.2 443.8 174.1 443.9 171.6 444.0 172.5 444.2 171.5 444.3 174.7 444.4 164.2 444.6 171.2 444.7 169.4 444.8 173.3 445.0 175.4 445.1 176.2 445.2 174.1 445.4 173.2 445.5 171.2 445.6 174.8 445.8 173.5 445.9 169.8 446.0 169.7 446.2 170.9 446.3 174.2 446.4 175.8 446.6 175.6 446.7 171.4 446.8 172.5 447.0 175.9 447.1 173.9 447.2 175.7 447.4 171.2 447.5 173.0 447.6 173.6 447.8 173.1 447.9 172.7 448.0 171.0 448.1 177.3 448.3 174.8 448.4 172.1 448.5 177.0 448.7 175.4 448.8 176.8 448.9 175.2 449.1 174.2 449.2 173.5 449.3 176.1 449.5 176.8 449.6 176.1 449.7 176.2 449.9 177.1 450.0 175.4 450.1 176.8 450.3 177.2 450.4 175.9 450.5 175.5 450.7 175.1 450.8 173.9 450.9 173.4 451.1 178.9 451.2 176.5 451.3 175.6 451.5 179.6 451.6 178.5 451.7 176.9 451.9 178.8 452.0 176.7 452.1 177.9 452.3 182.5 452.4 179.5 452.5 177.0 452.7 178.7 452.8 179.4 452.9 176.6 453.1 175.7 453.2 179.6 453.3 175.3 453.5 173.2 453.6 175.8 453.7 179.8 453.9 176.7 454.0 177.4 454.1 171.5 454.3 174.5 454.4 177.7 454.5 174.7 454.7 177.9 454.8 176.5 454.9 176.5 455.1 179.1 455.2 175.2 455.3 175.4 455.5 176.6 455.6 176.9 455.7 173.3 455.8 178.7 456.0 176.8 456.1 176.0 456.2 177.4 456.4 175.6 456.5 178.6 456.6 176.5 456.8 177.8 456.9 174.7 457.0 175.8 457.2 176.9 457.3 174.3 457.4 174.8 457.6 175.9 457.7 178.1 457.8 177.5 458.0 178.0 458.1 177.0 458.2 178.4 458.4 179.8 458.5 177.6 458.6 178.0 458.8 178.4 458.9 173.6 459.0 177.1 459.2 178.0 459.3 178.6 459.4 176.4 459.6 179.7 459.7 175.4 459.8 176.1 460.0 179.4 460.1 173.6 460.2 176.0 460.4 175.8 460.5 176.0 460.6 175.2 460.8 177.5 460.9 173.4 461.0 173.9 461.2 177.2 461.3 173.9 461.4 176.8 461.6 176.0 461.7 174.6 461.8 175.2 462.0 175.6 462.1 176.5 462.2 174.5 462.4 175.2 462.5 172.8 462.6 174.9 462.8 171.8 462.9 175.3 463.0 174.6 463.2 181.4 463.3 177.9 463.4 175.2 463.5 177.2 463.7 175.8 463.8 172.9 463.9 168.1 464.1 177.8 464.2 175.2 464.3 170.7 464.5 175.6 464.6 176.1 464.7 173.3 464.9 176.3 465.0 171.9 465.1 175.1 465.3 176.1 465.4 178.0 465.5 177.8 465.7 178.0 465.8 179.0 465.9 177.1 466.1 181.3 466.2 177.9 466.3 180.0 466.5 178.3 466.6 177.5 466.7 178.6 466.9 177.9 467.0 179.2 467.1 178.3 467.3 174.9 467.4 176.7 467.5 175.8 467.7 174.1 467.8 173.5 467.9 176.1 468.1 174.8 468.2 173.3 468.3 175.9 468.5 176.7 468.6 176.6 468.7 174.3 468.9 175.6 469.0 179.3 469.1 175.2 469.3 176.0 469.4 180.9 469.5 177.2 469.7 175.6 469.8 173.0 469.9 177.3 470.1 174.1 470.2 176.7 470.3 175.0 470.5 173.2 470.6 179.2 470.7 175.5 470.8 177.1 471.0 176.5 471.1 173.6 471.2 175.1 471.4 174.3 471.5 177.0 471.6 176.3 471.8 175.2 471.9 179.3 472.0 177.5 472.2 177.8 472.3 175.8 472.4 178.4 472.6 175.2 472.7 179.1 472.8 176.7 473.0 178.8 473.1 177.9 473.2 178.6 473.4 178.5 473.5 177.4 473.6 177.0 473.8 174.1 473.9 173.2 474.0 179.0 474.2 177.8 474.3 174.0 474.4 180.4 474.6 175.5 474.7 177.8 474.8 177.6 475.0 177.1 475.1 177.8 475.2 173.9 475.4 176.3 475.5 175.7 475.6 176.2 475.8 175.4 475.9 174.6 476.0 174.3 476.2 177.3 476.3 174.0 476.4 176.2 476.6 176.1 476.7 175.1 476.8 175.9 477.0 175.9 477.1 173.2 477.2 175.3 477.4 177.5 477.5 170.6 477.6 172.7 477.8 171.7 477.9 176.7 478.0 170.4 478.2 173.2 478.3 175.2 478.4 172.2 478.5 173.8 478.7 173.3 478.8 172.5 478.9 175.1 479.1 176.4 479.2 175.0 479.3 176.2 479.5 177.2 479.6 178.1 479.7 173.5 479.9 176.8 480.0 174.3 480.1 171.7 480.3 173.5 480.4 175.9 480.5 175.0 480.7 172.3 480.8 177.2 480.9 175.0 481.1 174.2 481.2 173.4 481.3 175.4 481.5 174.2 481.6 177.3 481.7 176.0 481.9 176.8 482.0 175.2 482.1 173.0 482.3 176.6 482.4 173.6 482.5 175.0 482.7 174.9 482.8 173.3 482.9 176.2 483.1 171.8 483.2 177.1 483.3 173.3 483.5 176.3 483.6 177.0 483.7 173.3 483.9 173.7 484.0 177.1 484.1 175.9 484.3 176.0 484.4 172.6 484.5 173.1 484.7 177.2 484.8 178.9 484.9 174.9 485.1 174.6 485.2 176.4 485.3 176.7 485.5 176.7 485.6 174.6 485.7 171.5 485.9 177.4 486.0 173.4 486.1 176.3 486.2 170.0 486.4 174.0 486.5 172.0 486.6 170.7 486.8 174.2 486.9 174.5 487.0 171.0 487.2 173.1 487.3 169.8 487.4 170.5 487.6 171.0 487.7 170.6 487.8 172.6 488.0 168.3 488.1 171.7 488.2 171.3 488.4 168.8 488.5 165.7 488.6 164.4 488.8 168.4 488.9 167.1 489.0 168.4 489.2 166.1 489.3 167.7 489.4 167.3 489.6 167.1 489.7 167.2 489.8 166.9 490.0 167.8 490.1 163.8 490.2 166.9 490.4 165.8 490.5 164.6 490.6 163.4 490.8 167.4 490.9 165.0 491.0 163.3 491.2 164.0 491.3 163.4 491.4 162.1 491.6 160.2 491.7 162.3 491.8 161.2 492.0 160.5 492.1 162.0 492.2 157.5 492.4 157.5 492.5 158.8 492.6 159.4 492.8 158.5 492.9 158.3 493.0 153.0 493.2 157.0 493.3 156.5 493.4 156.4 493.5 153.7 493.7 155.0 493.8 155.2 493.9 155.4 494.1 152.5 494.2 149.2 494.3 150.6 494.5 150.9 494.6 150.0 494.7 151.5 494.9 147.5 495.0 145.6 495.1 145.5 495.3 146.9 495.4 144.0 495.5 142.2 495.7 142.8 495.8 145.5 495.9 143.5 496.1 142.2 496.2 143.5 496.3 142.7 496.5 139.5 496.6 141.7 M514.4 140.8 514.5 137.7 514.7 140.5 514.8 140.5 514.9 144.4 515.1 142.2 515.2 142.1 515.3 141.2 515.5 145.7 515.6 145.5 515.7 148.4 515.9 145.4 516.0 150.9 516.1 146.1 516.3 148.5 516.4 148.7 516.5 150.2 516.6 148.4 516.8 147.4 516.9 147.4 517.0 150.5 517.2 149.7 517.3 150.2 517.4 148.6 517.6 150.5 517.7 151.1 517.8 152.2 518.0 149.2 518.1 150.7 518.2 155.1 518.4 151.8 518.5 152.5 518.6 151.8 518.8 150.4 518.9 151.3 519.0 153.9 519.2 152.3 519.3 157.1 519.4 151.5 519.6 151.1 519.7 154.0 519.8 152.9 520.0 157.4 520.1 154.5 520.2 156.6 520.4 152.8 520.5 156.2 520.6 156.0 520.8 156.9 520.9 155.2 521.0 155.7 521.2 155.2 521.3 157.3 521.4 154.4 521.6 156.1 521.7 154.4 521.8 156.6 522.0 155.0 522.1 154.5 522.2 154.5 522.4 158.2 522.5 153.2 522.6 153.4 522.8 156.8 522.9 154.0 523.0 154.7 523.2 154.5 523.3 158.9 523.4 153.8 523.6 153.7 523.7 154.1 523.8 155.1 523.9 155.4 524.1 152.0 524.2 154.9 524.3 157.2 524.5 150.7 524.6 154.3 524.7 155.0 524.9 153.1 525.0 152.2 525.1 148.5 525.3 154.1 525.4 151.1 525.5 151.3 525.7 153.4 525.8 147.3 525.9 150.7 526.1 151.5 526.2 151.2 526.3 151.0 526.5 153.9 526.6 148.7 526.7 149.2 526.9 148.6 527.0 143.6 527.1 143.9 527.3 147.6 527.4 143.0 527.5 142.4 527.7 139.6 527.8 140.2 527.9 137.8 528.1 138.0 528.2 138.7 M571.7 134.5 571.9 136.1 572.0 136.5 572.1 134.8 572.3 134.7 572.4 136.4 572.5 136.4 572.7 139.7 572.8 139.9 572.9 142.5 573.1 145.4 573.2 140.9 573.3 141.9 573.5 143.9 573.6 144.0 573.7 142.8 573.9 140.6 574.0 147.0 574.1 143.1 574.3 141.0 574.4 139.1 574.5 145.1 574.7 143.5 574.8 143.2 574.9 141.8 575.1 143.6 575.2 143.5 575.3 140.5 575.5 149.1 575.6 146.0 575.7 145.2 575.9 144.6 576.0 145.6 576.1 150.8 576.3 147.8 576.4 145.3 576.5 149.2 576.7 148.8 576.8 149.2 576.9 148.5 577.0 148.8 577.2 149.8 577.3 149.5 577.4 148.1 577.6 149.2 577.7 151.2 577.8 149.0 578.0 151.7 578.1 151.6 578.2 153.5 578.4 152.6 578.5 151.9 578.6 151.9 578.8 153.1 578.9 153.9 579.0 150.6 579.2 149.9 579.3 151.4 579.4 148.9 579.6 151.7 579.7 154.6 579.8 155.1 580.0 156.2 580.1 153.9 580.2 154.3 580.4 153.2 580.5 153.6 580.6 155.2 580.8 156.6 580.9 156.1 581.0 152.3 581.2 157.0 581.3 156.5 581.4 155.9 581.6 157.5 581.7 159.2 581.8 158.2 582.0 156.9 582.1 164.1 582.2 157.4 582.4 159.3 582.5 160.8 582.6 157.2 582.8 159.8 582.9 157.5 583.0 158.7 583.2 158.1 583.3 162.8 583.4 157.6 583.6 161.2 583.7 160.6 583.8 157.2 584.0 163.8 584.1 159.9 584.2 160.4 584.4 161.1 584.5 159.0 584.6 158.5 584.7 160.3 584.9 158.0 585.0 160.5 585.1 162.6 585.3 158.7 585.4 157.8 585.5 160.4 585.7 161.4 585.8 161.9 585.9 158.7 586.1 156.5 586.2 162.0 586.3 161.7 586.5 163.1 586.6 158.8 586.7 161.5 586.9 162.3 587.0 157.4 587.1 162.4 587.3 163.0 587.4 161.5 587.5 161.3 587.7 161.5 587.8 159.5 587.9 157.2 588.1 157.8 588.2 158.8 588.3 157.2 588.5 159.9 588.6 156.9 588.7 156.8 588.9 153.3 589.0 156.3 589.1 153.7 589.3 156.6 589.4 150.3 589.5 152.8 589.7 150.5 589.8 149.4 589.9 151.4 590.1 148.7 590.2 144.2 590.3 146.1 590.5 141.1 590.6 141.6 590.7 135.8 590.9 136.1 591.0 134.3 591.1 132.3 M595.4 135.6 595.5 137.4 595.6 137.3 595.8 139.4 595.9 141.5 596.0 144.5 596.2 147.8 596.3 145.3 596.4 148.8 596.6 150.4 596.7 156.2 596.8 153.5 597.0 154.2 597.1 157.5 597.2 155.5 597.4 159.2 597.5 156.4 597.6 163.5 597.8 160.6 597.9 160.5 598.0 159.5 598.2 161.9 598.3 162.7 598.4 161.6 598.6 165.3 598.7 163.0 598.8 164.1 599.0 164.9 599.1 167.2 599.2 164.2 599.4 165.8 599.5 166.7 599.6 167.6 599.7 163.7 599.9 169.3 600.0 167.4 600.1 166.6 600.3 168.1 600.4 164.9 600.5 167.2 600.7 169.0 600.8 171.2 600.9 168.6 601.1 169.5 601.2 168.2 601.3 170.2 601.5 167.9 601.6 169.5 601.7 168.1 601.9 167.1 602.0 167.3 602.1 168.1 602.3 171.6 602.4 175.4 602.5 169.4 602.7 168.5 602.8 170.8 602.9 170.7 603.1 168.8 603.2 173.2 603.3 171.2 603.5 171.3 603.6 169.6 603.7 169.7 603.9 171.2 604.0 166.9 604.1 168.0 604.3 169.7 604.4 166.9 604.5 174.1 604.7 168.6 604.8 169.0 604.9 170.5 605.1 172.8 605.2 170.1 605.3 168.9 605.5 168.8 605.6 171.2 605.7 169.9 605.9 175.4 606.0 173.5 606.1 165.6 606.3 169.7 606.4 171.9 606.5 175.4 606.7 167.3 606.8 169.9 606.9 172.6 607.1 168.8 607.2 169.9 607.3 168.7 607.4 170.8 607.6 167.6 607.7 169.7 607.8 165.9 608.0 172.0 608.1 171.6 608.2 170.7 608.4 171.1 608.5 171.3 608.6 170.7 608.8 171.8 608.9 172.2 609.0 171.5 609.2 170.5 609.3 170.9 609.4 170.8 609.6 172.4 609.7 171.9 609.8 175.2 610.0 171.2 610.1 171.7 610.2 170.5 610.4 171.8 610.5 170.9 610.6 170.1 610.8 171.9 610.9 174.4 611.0 169.7 611.2 169.9 611.3 170.8 611.4 171.2 611.6 173.1 611.7 169.7 611.8 170.7 612.0 169.9 612.1 170.1 612.2 171.1 612.4 170.2 612.5 173.4 612.6 174.7 612.8 172.0 612.9 171.8 613.0 175.7 613.2 173.0 613.3 176.3 613.4 168.5 613.6 173.6 613.7 172.2 613.8 173.1 614.0 175.6 614.1 176.0 614.2 173.5 614.4 175.3 614.5 171.3 614.6 173.7 614.8 172.8 614.9 169.8 615.0 175.4 615.1 171.7 615.3 173.7 615.4 171.5 615.5 173.2 615.7 174.0 615.8 172.8 615.9 171.9 616.1 173.9 616.2 173.3 616.3 172.3 616.5 173.3 616.6 173.3 616.7 173.0 616.9 175.4 617.0 177.0 617.1 172.8 617.3 173.3 617.4 171.8 617.5 170.9 617.7 175.4 617.8 172.1 617.9 174.0 618.1 169.8 618.2 172.7 618.3 175.1 618.5 175.4 618.6 175.2 618.7 175.8 618.9 175.5 619.0 176.8 619.1 179.5 619.3 175.5 619.4 173.8 619.5 171.7 619.7 172.1 619.8 171.9 619.9 174.6 620.1 168.7 620.2 169.7 620.3 169.2 620.5 172.7 620.6 170.0 620.7 168.2 620.9 168.3 621.0 173.5 621.1 170.2 621.3 175.7 621.4 176.1 621.5 172.5 621.7 174.3 621.8 175.2 621.9 172.5 622.1 173.0 622.2 174.1 622.3 175.0 622.5 175.5 622.6 171.3 622.7 175.0 622.8 174.1 623.0 173.6 623.1 173.1 623.2 175.7 623.4 176.6 623.5 172.9 623.6 173.5 623.8 171.0 623.9 173.3 624.0 175.5 624.2 174.2 624.3 175.2 624.4 174.5 624.6 175.0 624.7 176.0 624.8 176.1 625.0 170.9 625.1 173.7 625.2 168.6 625.4 173.8 625.5 172.5 625.6 172.2 625.8 176.1 625.9 173.9 626.0 175.4 626.2 174.5 626.3 176.6 626.4 173.0 626.6 173.1 626.7 173.4 626.8 178.2 627.0 172.9 627.1 173.8 627.2 176.5 627.4 175.8 627.5 173.5 627.6 177.9 627.8 175.8 627.9 177.8 628.0 176.4 628.2 176.8 628.3 174.1 628.4 178.1 628.6 174.2 628.7 175.7 628.8 177.4 629.0 174.8 629.1 175.7 629.2 175.5 629.4 175.8 629.5 176.7 629.6 173.0 629.8 174.8 629.9 179.6 630.0 172.0 630.1 174.2 630.3 176.5 630.4 171.3 630.5 172.8 630.7 172.7 630.8 176.9 630.9 172.3 631.1 175.1 631.2 172.4 631.3 174.4 631.5 172.6 631.6 170.9 631.7 174.6 631.9 173.3 632.0 175.9 632.1 176.8 632.3 177.5 632.4 179.6 632.5 179.2 632.7 174.3 632.8 174.6 632.9 178.7 633.1 175.1 633.2 174.2 633.3 176.6 633.5 173.2 633.6 176.0 633.7 173.7 633.9 176.7 634.0 174.1 634.1 176.0 634.3 176.6 634.4 177.8 634.5 173.6 634.7 174.6 634.8 173.0 634.9 172.8 635.1 175.4 635.2 176.9 635.3 179.1 635.5 176.0 635.6 180.3 635.7 176.9 635.9 178.0 636.0 175.6 636.1 173.6 636.3 178.7 636.4 174.8 636.5 177.6 636.7 174.8 636.8 176.6 636.9 175.2 637.1 174.8 637.2 175.1 637.3 176.6 637.5 173.0 637.6 173.5 637.7 177.2 637.8 174.2 638.0 176.2 638.1 173.8 638.2 176.3 638.4 179.1 638.5 177.5 638.6 178.0 638.8 177.0 638.9 178.0 639.0 174.3 639.2 174.5 639.3 178.2 639.4 173.9 639.6 179.4 639.7 178.3 639.8 174.1 640.0 171.9 640.1 171.2 640.2 176.0 640.4 174.9 640.5 177.4 640.6 175.6 640.8 177.5 640.9 176.2 641.0 171.8 641.2 174.2 641.3 173.0 641.4 174.2 641.6 174.0 641.7 174.7 641.8 177.8 642.0 174.3 642.1 173.0 642.2 173.8 642.4 173.8 642.5 173.3 642.6 173.8 642.8 173.1 642.9 175.9 643.0 175.5 643.2 172.5 643.3 176.0 643.4 178.5 643.6 175.1 643.7 174.0 643.8 177.4 644.0 176.5 644.1 177.8 644.2 175.5 644.4 181.7 644.5 177.4 644.6 178.8 644.8 176.6 644.9 177.9 645.0 173.2 645.2 175.0 645.3 172.8 645.4 179.5 645.5 175.2 645.7 175.2 645.8 180.5 645.9 177.8 646.1 178.5 646.2 180.9 646.3 179.7 646.5 179.1 646.6 179.4 646.7 174.2 646.9 180.0 647.0 181.1 647.1 180.7 647.3 173.2 647.4 175.6 647.5 176.2 647.7 180.6 647.8 178.5 647.9 180.8 648.1 178.4 648.2 176.4 648.3 175.2 648.5 176.7 648.6 180.5 648.7 176.4 648.9 174.8 649.0 178.7 649.1 180.8 649.3 182.7 649.4 181.6 649.5 179.8 649.7 174.5 649.8 177.2 649.9 177.2 650.1 178.3 650.2 176.5 650.3 179.9 650.5 180.9 650.6 178.8 650.7 178.1 650.9 179.0 651.0 179.2 651.1 180.7 651.3 176.7 651.4 182.4 651.5 178.3 651.7 177.8 651.8 179.4 651.9 176.8 652.1 179.7 652.2 182.0 652.3 178.7 652.5 178.1 652.6 176.8 652.7 180.5 652.8 179.8 653.0 174.8 653.1 179.6 653.2 176.0 653.4 175.7 653.5 177.8 653.6 176.7 653.8 180.1 653.9 175.4 654.0 175.2 654.2 175.8 654.3 177.2 654.4 178.5 654.6 174.2 654.7 175.9 654.8 174.3 655.0 176.8 655.1 175.2 655.2 181.2 655.4 180.7 655.5 175.2 655.6 177.2 655.8 177.7 655.9 175.8 656.0 176.0 656.2 177.9 656.3 176.1 656.4 175.9 656.6 176.3 656.7 178.5 656.8 175.5 657.0 176.6 657.1 176.4 657.2 177.1 657.4 175.4 657.5 175.1 657.6 175.0 657.8 177.2 657.9 177.5 658.0 177.2 658.2 178.6 658.3 183.0 658.4 180.4 658.6 175.6 658.7 181.6 658.8 179.3 659.0 177.0 659.1 181.2 659.2 178.2 659.4 180.0 659.5 176.7 659.6 179.7 659.8 177.1 659.9 180.3 660.0 179.2 660.2 175.5 660.3 178.5 660.4 178.8 660.5 177.9 660.7 172.9 660.8 178.9 660.9 177.5 661.1 180.5 661.2 176.3 661.3 180.3 661.5 178.8 661.6 183.5 661.7 176.7 661.9 180.4 662.0 177.4 662.1 176.3 662.3 179.9 662.4 178.7 662.5 179.4 662.7 174.3 662.8 175.2 662.9 179.0 663.1 176.8 663.2 181.5 663.3 182.8 663.5 179.9 663.6 180.6 663.7 180.9 663.9 180.4 664.0 180.8 664.1 180.4 664.3 181.5 664.4 179.9 664.5 179.4 664.7 179.8 664.8 179.1 664.9 180.0 665.1 181.2 665.2 184.0 665.3 177.0 665.5 177.5 665.6 180.1 665.7 180.4 665.9 180.3 666.0 184.0 666.1 177.0 666.3 180.1 666.4 177.8 666.5 179.5 666.7 180.9 666.8 177.0 666.9 181.5 667.1 177.7 667.2 177.1 667.3 175.7 667.5 177.4 667.6 176.5 667.7 180.9 667.9 174.1 668.0 179.0 668.1 180.3 668.2 178.4 668.4 180.6 668.5 178.0 668.6 180.4 668.8 179.2 668.9 184.2 669.0 179.7 669.2 179.7 669.3 181.5 669.4 179.4 669.6 180.0 669.7 180.9 669.8 181.9 670.0 178.9 670.1 180.1 670.2 179.5 670.4 181.1 670.5 181.3 670.6 180.5 670.8 180.2 670.9 183.2 671.0 178.1 671.2 182.9 671.3 180.9 671.4 177.0 671.6 180.2 671.7 177.3 671.8 179.8 672.0 176.2 672.1 181.4 672.2 178.4 672.4 182.9 672.5 178.1 672.6 179.3 672.8 176.3 672.9 178.4 673.0 178.5 673.2 179.6 673.3 182.6 673.4 180.9 673.6 179.1 673.7 176.8 673.8 176.8 674.0 176.7 674.1 175.7 674.2 178.8 674.4 177.6 674.5 179.0 674.6 177.8 674.8 179.3 674.9 182.2 675.0 179.7 675.2 180.8 675.3 177.4 675.4 178.6 675.6 178.0 675.7 179.5 675.8 179.0 675.9 177.0 676.1 178.9 676.2 178.5 676.3 175.3 676.5 178.3 676.6 180.8 676.7 177.0 676.9 181.0 677.0 180.5 677.1 179.6 677.3 180.3 677.4 177.9 677.5 181.6 677.7 176.7 677.8 177.3 677.9 180.4 678.1 177.3 678.2 183.3 678.3 180.2 678.5 181.5 678.6 181.8 678.7 179.5 678.9 180.5 679.0 181.7 679.1 181.0 679.3 184.3 679.4 183.4 679.5 182.0 679.7 184.0 679.8 181.8 679.9 182.9 680.1 181.5 680.2 180.4 680.3 178.9 680.5 179.1 680.6 180.4 680.7 181.0 680.9 174.0 681.0 179.2 681.1 181.1 681.3 179.7 681.4 177.9 681.5 178.0 681.7 183.2 681.8 176.9 681.9 179.3 682.1 181.6 682.2 176.2 682.3 181.4 682.5 177.1 682.6 182.1 682.7 185.5 682.9 178.1 683.0 180.7 683.1 181.8 683.2 180.3 683.4 182.8 683.5 180.7 683.6 181.2 683.8 180.8 683.9 182.3 684.0 183.2 684.2 183.9 684.3 181.6 684.4 179.4 684.6 180.1 684.7 179.7 684.8 179.6 685.0 181.3 685.1 179.7 685.2 180.1 685.4 180.0 685.5 179.8 685.6 179.0 685.8 181.3 685.9 179.6 686.0 179.3 686.2 177.2 686.3 177.8 686.4 177.9 686.6 180.8 686.7 175.9 686.8 180.8 687.0 179.9 687.1 178.5 687.2 178.3 687.4 181.5 687.5 180.5 687.6 176.3 687.8 178.8 687.9 178.5 688.0 180.4 688.2 179.7 688.3 182.3 688.4 181.1 688.6 182.2 688.7 186.9 688.8 183.2 689.0 183.3 689.1 184.7 689.2 182.3 689.4 181.8 689.5 184.7 689.6 183.4 689.8 181.5 689.9 185.7 690.0 184.8 690.2 183.5 690.3 181.6 690.4 181.8 690.6 180.6 690.7 183.0 690.8 178.2 690.9 181.2 691.1 180.5 691.2 177.2 691.3 181.7 691.5 179.6 691.6 184.4 691.7 183.3 691.9 181.2 692.0 180.8 692.1 180.3 692.3 180.4 692.4 182.5 692.5 179.2 692.7 183.8 692.8 183.3 692.9 181.5 693.1 183.1 693.2 185.8 693.3 181.8 693.5 184.3 693.6 180.2 693.7 179.4 693.9 182.3 694.0 176.6 694.1 182.1 694.3 180.4 694.4 179.5 694.5 180.8 694.7 181.0 694.8 183.3 694.9 182.6 695.1 181.4 695.2 180.5 695.3 179.0 695.5 181.1 695.6 175.6 695.7 183.2 695.9 180.3 696.0 175.4 696.1 181.3 696.3 178.5 696.4 179.3 696.5 176.8 696.7 178.8 696.8 180.7 696.9 180.2 697.1 181.2 697.2 179.4 697.3 182.0 697.5 178.2 697.6 179.5 697.7 176.1 697.9 180.6 698.0 179.6 698.1 180.8 698.3 182.1 698.4 183.3 698.5 178.1 698.6 179.6 698.8 176.0 698.9 183.0 699.0 181.8 699.2 180.1 699.3 181.6 699.4 181.1 699.6 178.4 699.7 181.2 699.8 182.2 700.0 181.5 700.1 179.7 700.2 179.1 700.4 184.3 700.5 180.1 700.6 180.5 700.8 176.6 700.9 180.6 701.0 179.9 701.2 177.9 701.3 182.3 701.4 180.1 701.6 181.5 701.7 181.4 701.8 178.6 702.0 181.2 702.1 183.4 702.2 177.5 702.4 178.8 702.5 179.1 702.6 182.4 702.8 179.8 702.9 181.8 703.0 183.6 703.2 179.2 703.3 184.2 703.4 181.2 703.6 180.6 703.7 183.6 703.8 181.2 704.0 177.4 704.1 179.5 704.2 178.0 704.4 179.9 704.5 178.5 704.6 178.8 704.8 181.6 704.9 176.7 705.0 180.8 705.2 180.1 705.3 181.4 705.4 174.1 705.6 179.2 705.7 180.3 705.8 184.3 705.9 178.7 706.1 179.0 706.2 180.9 706.3 182.0 706.5 180.3 706.6 181.8 706.7 178.5 706.9 185.0 707.0 181.1 707.1 181.9 707.3 186.8 707.4 180.3 707.5 178.8 707.7 179.1 707.8 184.0 707.9 180.3 708.1 179.1 708.2 180.5 708.3 180.7 708.5 183.9 708.6 182.6 708.7 182.6 708.9 182.6 709.0 180.3 709.1 179.5 709.3 182.7 709.4 182.8 709.5 182.0 709.7 182.0 709.8 182.5 709.9 178.8 710.1 180.2 710.2 179.0 710.3 176.9 710.5 181.5 710.6 180.0 710.7 181.4 710.9 182.6 711.0 179.3 711.1 184.2 711.3 182.1 711.4 184.5 711.5 184.9 711.7 180.6 711.8 180.1 711.9 181.3 712.1 182.7 712.2 182.5 712.3 176.2 712.5 182.5 712.6 178.7 712.7 180.3 712.9 176.7 713.0 177.4 713.1 179.6 713.3 175.4 713.4 180.2 713.5 177.4 713.6 178.8 713.8 178.4 713.9 176.8 714.0 180.1 714.2 181.7 714.3 178.2 714.4 173.4 714.6 176.5 714.7 175.6 714.8 177.4 715.0 175.6 715.1 179.2 715.2 176.2 715.4 175.8 715.5 173.7 715.6 172.4 715.8 173.5 715.9 173.7 716.0 174.2 716.2 172.9 716.3 171.6 716.4 171.8 716.6 170.6 716.7 169.3 716.8 169.3 717.0 171.6 717.1 172.0 717.2 170.3 717.4 170.6 717.5 172.0 717.6 171.1 717.8 177.5 717.9 172.5 718.0 172.0 718.2 170.2 718.3 174.5 718.4 177.4 718.6 174.9 718.7 177.7 718.8 174.5 719.0 175.6 719.1 175.7 719.2 174.8 719.4 173.7 719.5 175.0 719.6 173.5 719.8 178.8 719.9 177.3 720.0 177.7 720.2 177.1 720.3 180.2 720.4 177.0 720.6 182.1 720.7 181.3 720.8 178.2 721.0 179.5 721.1 182.2 721.2 183.2 721.3 179.6 721.5 180.5 721.6 186.6 721.7 183.7 721.9 183.7 722.0 185.6 722.1 182.5 722.3 180.5 722.4 177.7 722.5 182.3 722.7 178.0 722.8 181.1 722.9 175.7 723.1 178.4 723.2 179.3 723.3 177.0 723.5 178.7 723.6 178.4 723.7 180.7 723.9 178.4 724.0 180.7 724.1 184.1 724.3 184.4 724.4 185.5 724.5 182.7 724.7 181.2 724.8 182.6 724.9 183.4 725.1 182.6 725.2 185.0 725.3 181.2 725.5 182.4 725.6 180.2 725.7 182.8 725.9 186.3 726.0 184.3 726.1 185.9 726.3 185.3 726.4 186.4 726.5 182.8 726.7 185.8 726.8 185.5 726.9 186.3 727.1 186.6 727.2 182.8 727.3 181.0 727.5 182.5 727.6 186.4 727.7 181.9 727.9 179.9 728.0 181.5 728.1 181.5 728.3 185.4 728.4 182.5 728.5 182.7 728.7 186.1 728.8 185.5 728.9 185.3 729.0 181.9 729.2 179.9 729.3 183.8 729.4 186.4 729.6 182.1 729.7 182.2 729.8 176.3 730.0 185.9 730.1 181.9 730.2 179.1 730.4 182.4 730.5 181.5 730.6 184.0 730.8 187.1 730.9 181.6 731.0 183.7 731.2 182.9 731.3 182.6 731.4 185.1 731.6 187.5 731.7 185.6 731.8 184.1 732.0 186.1 732.1 185.6 732.2 186.8 732.4 183.5 732.5 185.3 732.6 188.2 732.8 185.0 732.9 186.8 733.0 185.0 733.2 185.3 733.3 183.8 733.4 191.0 733.6 187.9 733.7 188.0 733.8 187.9 734.0 183.6 734.1 184.0 734.2 184.8 734.4 181.9 734.5 183.1 734.6 186.2 734.8 180.1 734.9 182.2 735.0 183.5 735.2 183.4 735.3 183.5 735.4 182.1 735.6 185.6 735.7 179.4 735.8 185.0 736.0 181.5 736.1 183.2 736.2 184.7 736.3 188.0 736.5 183.2 736.6 182.1 736.7 186.8 736.9 184.4 737.0 184.4 737.1 185.1 737.3 185.5 737.4 183.3 737.5 178.4 737.7 181.6 737.8 181.7 737.9 179.2 738.1 179.4 738.2 182.6 738.3 181.9 738.5 179.7 738.6 182.6 738.7 181.8 738.9 179.1 739.0 181.2 739.1 179.4 739.3 180.5 739.4 183.1 739.5 180.5 739.7 180.7 739.8 184.5 739.9 181.6 740.1 183.1 740.2 183.1 740.3 183.2 740.5 184.1 740.6 182.2 740.7 181.3 740.9 181.6 741.0 184.6 741.1 183.9 741.3 181.9 741.4 184.5 741.5 183.6 741.7 180.4 741.8 185.7 741.9 188.5 742.1 184.0 742.2 180.3 742.3 188.0 742.5 184.8 742.6 183.5 742.7 179.7 742.9 183.6 743.0 183.3 743.1 183.4 743.3 183.3 743.4 186.2 743.5 183.7 743.7 185.5 743.8 181.0 743.9 181.8 744.0 184.7 744.2 182.8 744.3 184.5 744.4 184.3 744.6 184.7 744.7 183.8 744.8 185.9 745.0 182.2 745.1 184.5 745.2 188.6 745.4 185.0 745.5 189.0 745.6 186.7 745.8 185.5 745.9 185.9 746.0 188.5 746.2 184.3 746.3 182.3 746.4 185.1 746.6 185.2 746.7 185.2 746.8 180.4 747.0 184.1 747.1 183.6 747.2 183.1 747.4 182.8 747.5 184.8 747.6 184.0 747.8 184.2 747.9 188.3 748.0 184.6 748.2 182.3 748.3 182.8 748.4 183.2 748.6 181.6 748.7 187.0 748.8 188.7 749.0 184.0 749.1 187.2 749.2 184.2 749.4 184.4 749.5 182.4 749.6 185.8 749.8 188.2 749.9 188.1 750.0 186.5 750.2 184.8 750.3 188.7 750.4 190.2 750.6 183.5 750.7 185.6 750.8 185.1 751.0 184.1 751.1 183.2 751.2 184.0 751.4 185.9 751.5 186.2 751.6 185.8 751.7 187.8 751.9 183.6 752.0 182.0 752.1 181.8 752.3 184.5 752.4 182.4 752.5 180.1 752.7 185.2 752.8 186.3 752.9 184.1 753.1 185.2 753.2 181.5 753.3 181.6 753.5 184.9 753.6 185.1 753.7 184.3 753.9 184.3 754.0 183.6 754.1 187.6 754.3 182.8 754.4 183.9 754.5 185.7 754.7 181.1 754.8 182.8 754.9 181.7 755.1 182.6 755.2 176.2 755.3 180.2 755.5 179.0 755.6 182.7 755.7 180.5 755.9 179.7 756.0 182.8 756.1 182.6 756.3 184.6 756.4 184.1 756.5 183.8 756.7 181.5 756.8 183.6 756.9 183.9 757.1 184.4 757.2 184.6 757.3 184.3 757.5 183.5 757.6 184.2 757.7 182.6 757.9 182.8 758.0 186.1 758.1 184.3 758.3 185.3 758.4 184.3 758.5 182.4 758.7 185.0 758.8 189.1 758.9 185.9 759.0 185.0 759.2 187.8 759.3 185.7 759.4 185.7 759.6 184.1 759.7 183.9 759.8 188.2 760.0 187.7 760.1 187.4 760.2 188.5 760.4 185.9 760.5 186.4 760.6 183.3 760.8 183.7 760.9 183.4 761.0 186.3 761.2 185.5 761.3 181.9 761.4 182.8 761.6 183.8 761.7 181.9 761.8 184.6 762.0 181.4 762.1 182.0 762.2 181.6 762.4 176.6 762.5 176.6 762.6 179.9 762.8 183.9 762.9 182.9 763.0 182.9 763.2 181.1 763.3 181.8 763.4 183.1 763.6 183.9 763.7 180.8 763.8 182.7 764.0 182.9 764.1 187.2 764.2 183.9 764.4 183.5 764.5 186.9 764.6 184.6 764.8 187.3 764.9 183.6 765.0 189.0 765.2 184.9 765.3 185.0 765.4 183.9 765.6 183.9 765.7 183.7 765.8 182.9 766.0 185.9 766.1 179.2 766.2 181.4 766.4 183.4 766.5 184.2 766.6 187.5 766.7 186.0 766.9 185.0 767.0 183.4 767.1 188.7 767.3 186.3 767.4 189.4 767.5 181.2 767.7 187.3 767.8 183.6 767.9 181.9 768.1 183.8 768.2 183.7 768.3 182.9 768.5 180.8 768.6 183.1 768.7 181.5 768.9 184.4 769.0 181.8 769.1 185.1 769.3 184.0 769.4 186.7 769.5 183.2 769.7 181.9 769.8 181.7 769.9 184.7 770.1 191.7 770.2 181.2 770.3 182.5 770.5 186.6 770.6 184.9 770.7 186.1 770.9 184.5 771.0 185.1 771.1 183.9 771.3 181.6 771.4 184.2 771.5 181.7 771.7 184.6 771.8 177.8 771.9 178.7 772.1 182.0 772.2 182.1 772.3 185.1 772.5 179.6 772.6 182.2 772.7 177.4 772.9 185.7 773.0 176.3 773.1 184.8 773.3 181.7 773.4 179.5 773.5 182.6 773.7 186.1 773.8 184.4 773.9 183.8 774.1 186.1 774.2 185.9 774.3 187.7 774.4 187.1 774.6 184.5 774.7 183.5 774.8 184.7 775.0 183.9 775.1 184.4 775.2 181.3 775.4 183.3 775.5 181.1 775.6 183.6 775.8 182.8 775.9 181.7 776.0 179.0 776.2 184.2 776.3 180.3 776.4 181.1 776.6 181.9 776.7 183.0 776.8 181.2 777.0 181.4 777.1 179.9 777.2 184.9 777.4 182.2 777.5 182.5 777.6 179.7 777.8 183.0 777.9 186.2 778.0 186.8 778.2 183.0 778.3 185.3 778.4 186.6 778.6 182.7 778.7 184.9 778.8 187.0 779.0 187.7 779.1 182.7 779.2 183.2 779.4 187.5 779.5 184.2 779.6 185.5 779.8 182.4 779.9 186.8 780.0 185.3 780.2 187.4 780.3 182.9 780.4 183.9 780.6 182.9 780.7 183.0 780.8 182.9 781.0 185.8 781.1 183.5 781.2 185.0 781.4 183.4 781.5 185.1 781.6 185.8 781.8 185.6 781.9 185.7 782.0 183.8 782.1 185.6 782.3 184.0 782.4 183.2 782.5 182.7 782.7 185.3 782.8 186.1 782.9 188.9 783.1 184.7 783.2 188.4 783.3 182.1 783.5 184.4 783.6 189.0 783.7 183.4 783.9 182.0 784.0 181.6 784.1 188.0 784.3 186.2 784.4 183.0 784.5 183.6 784.7 180.1 784.8 185.1 784.9 189.0 785.1 182.7 785.2 189.0 785.3 188.3 785.5 190.3 785.6 186.0 785.7 187.6 785.9 189.2 786.0 187.2 786.1 187.2 786.3 184.8 786.4 184.7 786.5 183.7 786.7 184.8 786.8 184.5 786.9 183.4 787.1 179.9 787.2 181.1 787.3 183.6 787.5 185.9 787.6 181.7 787.7 182.3 787.9 183.2 788.0 185.2 788.1 186.5 788.3 183.8 788.4 183.3 788.5 181.7 788.7 184.0 788.8 182.6 788.9 183.4 789.1 181.3 789.2 185.3 789.3 182.4 789.4 180.3 789.6 183.3 789.7 181.3 789.8 184.6 790.0 186.3 790.1 184.9 790.2 183.6 790.4 182.4 790.5 183.3 790.6 188.6 790.8 186.7 790.9 182.7 791.0 182.9 791.2 185.4 791.3 184.7 791.4 184.4 791.6 185.1 791.7 181.5 791.8 180.9 792.0 185.0 792.1 183.5 792.2 182.3 792.4 182.6 792.5 184.0 792.6 183.4 792.8 181.5 792.9 180.6 793.0 184.6 793.2 180.8 793.3 187.5 793.4 181.5 793.6 182.2 793.7 186.4 793.8 187.4 794.0 184.8 794.1 179.5 794.2 184.5 794.4 180.6 794.5 183.7 794.6 186.3 794.8 186.1 794.9 184.7 795.0 184.9 795.2 185.7 795.3 183.7 795.4 183.4 795.6 186.9 795.7 186.0 795.8 187.0 796.0 185.5 796.1 185.8 796.2 186.3 796.4 186.1 796.5 188.1 796.6 185.9 796.8 183.9 796.9 184.1 797.0 183.2 797.1 185.8 797.3 184.1 797.4 181.8 797.5 187.1 797.7 188.8 797.8 182.7 797.9 187.8 798.1 186.4 798.2 184.0 798.3 184.7 798.5 185.7 798.6 190.7 798.7 186.6 798.9 189.2 799.0 184.8 799.1 188.0 799.3 187.5 799.4 184.5 799.5 184.7 799.7 186.9 799.8 182.9 799.9 186.1 800.1 183.7 800.2 186.3 800.3 187.1 800.5 187.7 800.6 187.0 800.7 185.8 800.9 185.0 801.0 184.2 801.1 184.6 801.3 184.9 801.4 184.6 801.5 185.9 801.7 184.1 801.8 182.3 801.9 186.7 802.1 183.9 802.2 182.2 802.3 183.7 802.5 184.9 802.6 185.2 802.7 186.0 802.9 189.4 803.0 183.0 803.1 188.7 803.3 185.8 803.4 184.8 803.5 180.8 803.7 184.7 803.8 186.5 803.9 183.1 804.1 182.3 804.2 182.8 804.3 186.0 804.5 185.9 804.6 189.3 804.7 185.4 804.8 188.1 805.0 184.3 805.1 186.4 805.2 189.1 805.4 186.4 805.5 188.0 805.6 184.5 805.8 185.2 805.9 186.0 806.0 184.9 806.2 186.1 806.3 189.9 806.4 186.4 806.6 187.2 806.7 189.7 806.8 186.5 807.0 186.0 807.1 185.3 807.2 188.4 807.4 188.9 807.5 190.2 807.6 190.2 807.8 183.0 807.9 187.4 808.0 190.0 808.2 186.4 808.3 186.1 808.4 183.7 808.6 188.5 808.7 184.5 808.8 187.2 809.0 186.6 809.1 188.4 809.2 186.9 809.4 187.0 809.5 190.0 809.6 188.0 809.8 189.9 809.9 186.8 810.0 191.1 810.2 189.2 810.3 190.6 810.4 189.6 810.6 184.7 810.7 182.5 810.8 189.5 811.0 186.1 811.1 186.0 811.2 184.8 811.4 185.2 811.5 187.0 811.6 187.8 811.8 185.5 811.9 181.8 812.0 187.4 812.1 187.0 812.3 185.4 812.4 184.1 812.5 184.2 812.7 189.4 812.8 185.6 812.9 189.2 813.1 186.2 813.2 188.3 813.3 184.6 813.5 183.8 813.6 185.8 813.7 182.8 813.9 183.6 814.0 187.3 814.1 189.5 814.3 186.9 814.4 183.4 814.5 184.8 814.7 187.3 814.8 186.8 814.9 192.0 815.1 191.2 815.2 187.0 815.3 192.0 815.5 185.1 815.6 186.2 815.7 190.9 815.9 184.8 816.0 186.7 816.1 190.8 816.3 186.7 816.4 190.2 816.5 188.8 816.7 186.6 816.8 188.8 816.9 191.0 817.1 189.4 817.2 186.0 817.3 189.6 817.5 182.9 817.6 186.9 817.7 187.5 817.9 189.2 818.0 190.0 818.1 184.5 818.3 186.1 818.4 187.0 818.5 186.4 818.7 188.6 818.8 188.9 818.9 189.1 819.1 187.0 819.2 194.1 819.3 185.2 819.5 186.9 819.6 190.1 819.7 188.3 819.8 187.9 820.0 188.6 820.1 185.4 820.2 185.9 820.4 187.8 820.5 188.8 820.6 181.8 820.8 184.3 820.9 186.1 821.0 188.2 821.2 184.1 821.3 188.7 821.4 185.5 821.6 188.4 821.7 187.6 821.8 189.7 822.0 184.5 822.1 187.6 822.2 185.9 822.4 185.1 822.5 188.4 822.6 184.7 822.8 189.0 822.9 184.7 823.0 184.4 823.2 188.0 823.3 190.8 823.4 187.2 823.6 184.2 823.7 186.6 823.8 184.9 824.0 184.4 824.1 186.3 824.2 187.0 824.4 187.8 824.5 184.3 824.6 189.8 824.8 186.0 824.9 183.4 825.0 184.9 825.2 186.6 825.3 184.5 825.4 186.3 825.6 183.9 825.7 187.5 825.8 185.7 826.0 184.5 826.1 187.3 826.2 183.5 826.4 185.1 826.5 186.7 826.6 186.3 826.8 185.7 826.9 187.4 827.0 184.8 827.2 185.9 827.3 184.4 827.4 186.3 827.5 183.2 827.7 184.6 827.8 187.0 827.9 185.1 828.1 188.7 828.2 189.0 828.3 187.9 828.5 187.8 828.6 186.8 828.7 182.2 828.9 181.4 829.0 184.9 829.1 181.8 829.3 182.6 829.4 184.0 829.5 185.1 829.7 181.8 829.8 185.4 829.9 187.5 830.1 186.9 830.2 189.3 830.3 185.4 830.5 190.0 830.6 192.5 830.7 187.3 830.9 187.6 831.0 187.4 831.1 178.7 831.3 183.7 831.4 187.2 831.5 182.6 831.7 185.8 831.8 186.5 831.9 188.1 832.1 185.4 832.2 187.6 832.3 185.9 832.5 190.7 832.6 184.7 832.7 184.9 832.9 186.7 833.0 189.2 833.1 186.6 833.3 185.9 833.4 184.8 833.5 188.3 833.7 185.1 833.8 186.3 833.9 186.4 834.1 190.3 834.2 185.3 834.3 185.2 834.5 187.1 834.6 186.5 834.7 183.2 834.9 184.2 835.0 184.5 835.1 185.8 835.2 184.0 835.4 189.5 835.5 186.1 835.6 187.9 835.8 186.0 835.9 185.7 836.0 186.6 836.2 184.3 836.3 181.4 836.4 185.9 836.6 183.7 836.7 188.1 836.8 184.0 837.0 186.4 837.1 186.5 837.2 185.6 837.4 186.1 837.5 186.6 837.6 187.3 837.8 187.4 837.9 187.0 838.0 186.8 838.2 182.3 838.3 189.4 838.4 188.0 838.6 184.1 838.7 185.0 838.8 182.4 839.0 177.8 839.1 185.8 839.2 190.0 839.4 187.1 839.5 187.2 839.6 186.9 839.8 187.9 839.9 186.5 840.0 184.7 840.2 184.9 840.3 187.1 840.4 184.7 840.6 179.5 840.7 186.0 840.8 185.3 841.0 187.5 841.1 185.1 841.2 185.1 841.4 185.0 841.5 183.8 841.6 186.1 841.8 184.6 841.9 183.7 842.0 185.6 842.2 186.1 842.3 186.8 842.4 187.5 842.5 192.8 842.7 185.8 842.8 190.4 842.9 186.5 843.1 186.7 843.2 188.1 843.3 184.9 843.5 186.5 843.6 188.1 843.7 183.9 843.9 184.9 844.0 185.8 844.1 186.6 844.3 188.0 844.4 183.6 844.5 188.7 844.7 187.0 844.8 186.5 844.9 181.2 845.1 185.5 845.2 183.2 845.3 187.0 845.5 184.7 845.6 184.2 845.7 183.5 845.9 185.2 846.0 187.3 846.1 183.0 846.3 185.0 846.4 186.3 846.5 186.6 846.7 186.3 846.8 187.8 846.9 187.8 847.1 183.6 847.2 189.9 847.3 185.0 847.5 191.2 847.6 189.1 847.7 183.8 847.9 187.3 848.0 189.3 848.1 189.0 848.3 186.2 848.4 183.9 848.5 188.8 848.7 182.0 848.8 181.9 848.9 186.5 849.1 182.7 849.2 186.4 849.3 183.4 849.5 184.5 849.6 188.3 849.7 186.0 849.9 187.6 850.0 186.1 850.1 185.7 850.2 184.6 850.4 184.9 850.5 187.5 850.6 187.6 850.8 189.9 850.9 187.2 851.0 186.1 851.2 188.2 851.3 189.7 851.4 184.0 851.6 190.4 851.7 185.6 851.8 185.8 852.0 192.7 852.1 189.9 852.2 186.8 852.4 189.8 852.5 190.9 852.6 190.3 852.8 190.5 852.9 189.0 853.0 189.3 853.2 186.0 853.3 186.3 853.4 188.8 853.6 185.8 853.7 189.8 853.8 188.3 854.0 190.8 854.1 190.0 854.2 187.1 854.4 182.1 854.5 184.2 854.6 186.7 854.8 192.4 854.9 186.2 855.0 187.3 855.2 186.2 855.3 181.3 855.4 188.3 855.6 187.1 855.7 185.2 855.8 190.0 856.0 188.8 856.1 194.9 856.2 184.7 856.4 187.4 856.5 188.9 856.6 187.9 856.8 189.8 856.9 190.2 857.0 189.3 857.2 188.4 857.3 186.8 857.4 188.5 857.6 189.7 857.7 187.9 857.8 183.2 857.9 190.4 858.1 185.8 858.2 188.4 858.3 185.6 858.5 188.7 858.6 186.1 858.7 189.9 858.9 189.8 859.0 186.1 859.1 181.8 859.3 188.5 859.4 185.9 859.5 189.9 859.7 188.7 859.8 187.2 859.9 186.0 860.1 186.2 860.2 190.9 860.3 189.9 860.5 187.7 860.6 188.9 860.7 190.2 860.9 188.1 861.0 185.0 861.1 191.9 861.3 187.9 861.4 187.1 861.5 188.2 861.7 186.1 861.8 184.5 861.9 187.9 862.1 185.8 862.2 187.8 862.3 187.5 862.5 190.3 862.6 185.6 862.7 186.1 862.9 184.7 863.0 188.2 863.1 186.9 863.3 186.9 863.4 190.3 863.5 187.5 863.7 187.8 863.8 185.0 863.9 184.5 864.1 187.3 864.2 188.8 864.3 186.6 864.5 186.9 864.6 190.4 864.7 187.6 864.9 186.9 865.0 187.7 865.1 186.0 865.2 189.8 865.4 192.3 865.5 190.1 865.6 191.2 865.8 184.3 865.9 190.3 866.0 188.4 866.2 191.5 866.3 187.6 866.4 190.5 866.6 192.3 866.7 190.6 866.8 188.9 867.0 188.4 867.1 189.9 867.2 188.7 867.4 187.0 867.5 190.9 867.6 193.2 867.8 190.8 867.9 192.2 868.0 192.3 868.2 189.7 868.3 189.0 868.4 186.9 868.6 188.4 868.7 188.3 868.8 185.0 869.0 185.9 869.1 188.4 869.2 184.8 869.4 187.7 869.5 187.0 869.6 185.8 869.8 188.3 869.9 187.8 870.0 186.5 870.2 186.8 870.3 187.4 870.4 187.7 870.6 188.1 870.7 188.3 870.8 186.1 871.0 190.3 871.1 187.5 871.2 187.6 871.4 190.9 871.5 190.4 871.6 184.8 871.8 188.4 871.9 189.8 872.0 189.2 872.2 184.5 872.3 186.2 872.4 185.8 872.6 188.3 872.7 188.7 872.8 187.6 872.9 186.8 873.1 185.2 873.2 189.0 873.3 182.6 873.5 188.1 873.6 188.2 873.7 187.5 873.9 186.9 874.0 187.1 874.1 188.2 874.3 185.6 874.4 188.4 874.5 187.1 874.7 187.4 874.8 181.9 874.9 184.6 875.1 186.7 875.2 185.7 875.3 188.7 875.5 183.6 875.6 188.8 875.7 187.7 875.9 186.3 876.0 184.8 876.1 182.3 876.3 183.3 876.4 184.5 876.5 186.1 876.7 187.8 876.8 188.3 876.9 189.4 877.1 189.6 877.2 185.7 877.3 186.8 877.5 190.0 877.6 186.3 877.7 189.8 877.9 187.8 878.0 184.8 878.1 188.4 878.3 187.8 878.4 185.7 878.5 180.1 878.7 187.7 878.8 188.0 878.9 188.8 879.1 188.1 879.2 185.9 879.3 184.0 879.5 187.1 879.6 189.3 879.7 187.1 879.9 184.8 880.0 183.8 880.1 181.7 880.3 187.2 880.4 187.7 880.5 180.5 880.6 185.9 880.8 190.2 880.9 183.6 881.0 191.3 881.2 191.1 881.3 191.0 881.4 190.6 881.6 190.8 881.7 191.0 881.8 192.8 882.0 187.0 882.1 185.1 882.2 183.9 882.4 187.5 882.5 188.3 882.6 184.1 882.8 185.7 882.9 184.9 883.0 186.5 883.2 185.6 883.3 185.1 883.4 183.1 883.6 183.9 883.7 186.8 883.8 185.7 884.0 188.3 884.1 184.7 884.2 188.1 884.4 186.0 884.5 187.4 884.6 181.6 884.8 188.1 884.9 185.1 885.0 189.3 885.2 188.6 885.3 185.6 885.4 189.6 885.6 189.4 885.7 189.6 885.8 188.3 886.0 184.9 886.1 188.4 886.2 183.0 886.4 185.0 886.5 186.5 886.6 182.9 886.8 189.9 886.9 187.7 887.0 186.4 887.2 182.6 887.3 185.6 887.4 188.5 887.6 188.2 887.7 185.1 887.8 184.2 888.0 186.7 888.1 184.2 888.2 183.2 888.3 189.2 888.5 186.4 888.6 187.2 888.7 186.1 888.9 188.6 889.0 188.7 889.1 186.4 889.3 185.8 889.4 185.7 889.5 188.0 889.7 186.3 889.8 183.4 889.9 188.1 890.1 185.2 890.2 185.9 890.3 187.4 890.5 185.4 890.6 185.7 890.7 183.8 890.9 185.0 891.0 185.6 891.1 184.7 891.3 184.0 891.4 184.0 891.5 184.2 891.7 185.5 891.8 184.3 891.9 186.5 892.1 184.6 892.2 187.5 892.3 185.8 892.5 184.2 892.6 186.7 892.7 183.1 892.9 190.9 893.0 183.5 893.1 184.3 893.3 187.1 893.4 182.5 893.5 182.1 893.7 181.8 893.8 185.8 893.9 181.4 894.1 186.9 894.2 184.9 894.3 183.5 894.5 186.0 894.6 183.8 894.7 183.3 894.9 181.3 895.0 180.9 895.1 184.2 895.3 179.7 895.4 180.6 895.5 180.5 895.6 183.3 895.8 180.6 895.9 182.6 896.0 190.3 896.2 182.8 896.3 186.0 896.4 182.7 896.6 180.2 896.7 181.3 896.8 181.2 897.0 183.4 897.1 184.0 897.2 183.2 897.4 182.1 897.5 181.3 897.6 182.0 897.8 180.9 897.9 180.9 898.0 187.2 898.2 184.0 898.3 180.3 898.4 182.5 898.6 183.6 898.7 182.7 898.8 181.8 899.0 184.0 899.1 183.7 899.2 184.5 899.4 185.7 899.5 182.4 899.6 183.7 899.8 182.1 899.9 181.1 900.0 181.4 900.2 182.6 900.3 180.6 900.4 179.6 900.6 179.8 900.7 181.3 900.8 183.8 901.0 183.6 901.1 178.2 901.2 180.9 901.4 182.8 901.5 181.1 901.6 181.8 901.8 180.5 901.9 182.6 902.0 182.1 902.2 180.7 902.3 183.4 902.4 184.3 902.6 183.1 902.7 179.9 902.8 182.5 903.0 184.1 903.1 183.9 903.2 184.1 903.3 183.7 903.5 181.6 903.6 182.9 903.7 183.3 903.9 182.0 904.0 182.2 904.1 179.3 904.3 181.5 904.4 179.7 904.5 180.0 904.7 183.4 904.8 180.5 904.9 180.7 905.1 178.9 905.2 177.4 905.3 177.9 905.5 179.2 905.6 179.6 905.7 176.4 905.9 177.6 906.0 179.2 906.1 176.5 906.3 177.8 906.4 178.4 906.5 180.2 906.7 178.4 906.8 181.9 906.9 175.0 907.1 180.0 907.2 177.1 907.3 180.0 907.5 180.6 907.6 178.4 907.7 177.0 907.9 180.3 908.0 174.8 908.1 177.4 908.3 176.1 908.4 176.1 908.5 173.7 908.7 176.0 908.8 176.1 908.9 175.4 909.1 176.1 909.2 173.0 909.3 177.3 909.5 175.2 909.6 176.2 909.7 174.6 909.9 175.2 910.0 174.7 910.1 179.4 910.3 174.4 910.4 174.4 910.5 175.4 910.7 173.2 910.8 173.4 910.9 175.4 911.0 175.3 911.2 176.0 911.3 175.4 911.4 173.1 911.6 172.9 911.7 177.0 911.8 171.4 912.0 176.0 912.1 177.3 912.2 178.5 912.4 179.1 912.5 178.7 912.6 180.3 912.8 173.5 912.9 176.1 913.0 177.0 913.2 172.0 913.3 174.4 913.4 177.6 913.6 174.0 913.7 176.9 913.8 176.2 914.0 177.3 914.1 176.8 914.2 176.5 914.4 177.1 914.5 174.5 914.6 181.0 914.8 175.9 914.9 175.3 915.0 177.7 915.2 174.4 915.3 180.8 915.4 181.4 915.6 179.2 915.7 175.2 915.8 177.7 916.0 177.3 916.1 175.8 916.2 176.3 916.4 178.2 916.5 176.1 916.6 177.1 916.8 177.4 916.9 174.9 917.0 176.6 917.2 176.3 917.3 179.9 917.4 177.0 917.6 177.4 917.7 177.1 917.8 176.8 918.0 177.1 918.1 177.0 918.2 173.7 918.3 178.1 918.5 177.2 918.6 178.1 918.7 176.3 918.9 177.3 919.0 179.1 919.1 178.3 919.3 179.2 919.4 179.5 919.5 179.0 919.7 179.2 919.8 177.4 919.9 178.6 920.1 180.3 920.2 178.8 920.3 180.2 920.5 179.2 920.6 180.8 920.7 176.7 920.9 178.7 921.0 179.4 921.1 176.0 921.3 177.5 921.4 177.8 921.5 176.9 921.7 179.0 921.8 178.0 921.9 177.1 922.1 179.3 922.2 179.0 922.3 183.2 922.5 175.0 922.6 178.3 922.7 177.9 922.9 178.1 923.0 174.5 923.1 178.7 923.3 177.8 923.4 181.2 923.5 177.4 923.7 182.9 923.8 179.7 923.9 179.0 924.1 180.4 924.2 176.9 924.3 177.3 924.5 180.0 924.6 177.6 924.7 178.3 924.9 173.4 925.0 174.6 925.1 173.6 925.3 179.4 925.4 175.7 925.5 178.1 925.7 175.1 925.8 177.5 925.9 174.6 926.0 175.0 926.2 175.8 926.3 176.5 926.4 172.7 926.6 176.4 926.7 174.5 926.8 174.7 927.0 174.7 927.1 174.3 927.2 174.4 927.4 176.1 927.5 175.9 927.6 176.9 927.8 171.8 927.9 173.6 928.0 173.6 928.2 173.6 928.3 175.9 928.4 176.5 928.6 175.1 928.7 175.7 928.8 177.7 929.0 174.9 929.1 177.0 929.2 174.7 929.4 175.2 929.5 179.2 929.6 173.0 929.8 174.6 929.9 176.3 930.0 174.4 930.2 176.9 930.3 179.4 930.4 177.6 930.6 175.2 930.7 174.1 930.8 176.1 931.0 174.8 931.1 174.5 931.2 177.1 931.4 176.8 931.5 172.3 931.6 174.1 931.8 172.9 931.9 175.7 932.0 174.9 932.2 175.7 932.3 173.9 932.4 174.9 932.6 175.3 932.7 174.1 932.8 176.1 933.0 171.5 933.1 177.0 933.2 173.0 933.4 175.2 933.5 176.5 933.6 176.5 933.7 173.8 933.9 176.4 934.0 172.3 934.1 175.8 934.3 175.3 934.4 178.9 934.5 175.6 934.7 174.7 934.8 174.8 934.9 174.5 935.1 175.9 935.2 176.2 935.3 178.6 935.5 173.1 935.6 176.3 935.7 172.6 935.9 174.5 936.0 177.2 936.1 177.5 936.3 177.0 936.4 174.7 936.5 177.9 936.7 179.2 936.8 174.3 936.9 176.1 937.1 177.6 937.2 178.1 937.3 178.5 937.5 177.6 937.6 176.8 937.7 178.9 937.9 176.4 938.0 177.2 938.1 178.0 938.3 177.5 938.4 178.7 938.5 177.5 938.7 176.7 938.8 177.9 938.9 172.4 939.1 175.1 939.2 175.1 939.3 174.4 939.5 175.0 939.6 176.0 939.7 175.1 939.9 179.9 940.0 180.2 940.1 176.0 940.3 179.1 940.4 179.0 940.5 178.1 940.7 177.4 940.8 178.8 940.9 178.3 941.1 177.0 941.2 179.6 941.3 178.3 941.4 180.0 941.6 175.5 941.7 176.4 941.8 172.2 942.0 177.3 942.1 176.0 942.2 179.4 942.4 180.2 942.5 178.5 942.6 179.8 942.8 176.6 942.9 175.2 943.0 179.6 943.2 178.5 943.3 177.7 943.4 175.4 943.6 177.8 943.7 176.9 943.8 180.6 944.0 170.8 944.1 173.5 944.2 177.3 944.4 177.1 944.5 176.4 944.6 175.4 944.8 174.5 944.9 178.7 945.0 177.7 945.2 176.2 945.3 176.3 945.4 178.6 945.6 172.6 945.7 173.1 945.8 174.9 946.0 172.3 946.1 176.8 946.2 176.7 946.4 177.0 946.5 175.5 946.6 175.2 946.8 177.4 946.9 173.1 947.0 174.3 947.2 175.5 947.3 174.8 947.4 177.3 947.6 175.1 947.7 178.2 947.8 176.6 948.0 173.5 948.1 171.8 948.2 179.4 948.4 176.3 948.5 176.2 948.6 174.2 948.7 173.0 948.9 176.9 949.0 170.9 949.1 173.2 949.3 173.8 949.4 172.1 949.5 172.7 949.7 172.8 949.8 173.0 949.9 176.8 950.1 174.1 950.2 175.9 950.3 172.5 950.5 173.1 950.6 173.0 950.7 171.2 950.9 174.0 951.0 171.3 951.1 171.6 951.3 173.5 951.4 173.8 951.5 171.6 951.7 173.0 951.8 174.5 951.9 174.6 952.1 173.3 952.2 170.7 952.3 173.1 952.5 169.9 952.6 169.5 952.7 171.3 952.9 169.9 953.0 169.7 953.1 166.9 953.3 167.6 953.4 168.3 953.5 168.4 953.7 168.2 953.8 163.7 953.9 170.6 954.1 167.8 954.2 164.7 954.3 168.1 954.5 165.7 954.6 165.2 954.7 168.6 954.9 163.7 955.0 163.6 955.1 163.6 955.3 163.9 955.4 170.2 955.5 163.2 955.7 162.4 955.8 164.3 955.9 165.1 956.1 165.8 956.2 161.1 956.3 167.9 956.4 162.6 956.6 160.0 956.7 159.3 956.8 160.6 957.0 158.8 957.1 157.1 957.2 157.2 957.4 160.1 957.5 157.8 957.6 153.9 957.8 153.0 957.9 155.3 958.0 151.5 958.2 149.8 958.3 150.9 958.4 150.0 958.6 149.4 958.7 151.1 958.8 149.8 959.0 150.1 959.1 150.8 959.2 148.9 959.4 146.9 959.5 147.2 959.6 149.4 959.8 145.5 959.9 144.7 960.0 146.4 960.2 143.5 960.3 142.7 960.4 143.9 M974.6 141.6 974.8 143.9 974.9 144.0 975.0 146.3 975.2 144.4 975.3 143.5 975.4 145.4 975.6 147.7 975.7 145.9 975.8 149.4 976.0 145.4 976.1 147.0 976.2 148.6 976.4 148.9 976.5 151.4 976.6 151.3 976.8 152.6 976.9 155.9 977.0 151.0 977.2 153.0 977.3 157.3 977.4 153.8 977.6 152.9 977.7 153.5 977.8 153.2 978.0 155.1 978.1 156.0 978.2 156.4 978.4 157.4 978.5 156.3 978.6 158.3 978.8 159.3 978.9 155.4 979.0 156.5 979.1 159.4 979.3 157.0 979.4 161.2 979.5 158.7 979.7 159.0 979.8 160.7 979.9 164.9 980.1 159.4 980.2 161.7 980.3 160.2 980.5 163.6 980.6 162.6 980.7 163.0 980.9 164.1 981.0 163.0 981.1 163.6 981.3 164.6 981.4 163.8 981.5 163.6 981.7 162.8 981.8 165.3 981.9 165.1 982.1 164.8 982.2 164.2 982.3 164.6 982.5 163.8 982.6 168.8 982.7 166.8 982.9 169.2 983.0 162.6 983.1 162.9 983.3 166.3 983.4 165.6 983.5 165.4 983.7 165.5 983.8 166.4 983.9 162.6 984.1 172.0 984.2 167.3 984.3 167.7 984.5 170.1 984.6 168.4 984.7 169.7 984.9 170.8 985.0 171.5 985.1 171.6 985.3 174.3 985.4 173.9 985.5 172.7 985.7 173.8 985.8 172.2 985.9 174.8 986.1 171.0 986.2 170.7 986.3 170.9 986.5 173.6 986.6 171.2 986.7 171.3 986.8 173.8 987.0 174.3 987.1 175.1 987.2 173.2 987.4 172.5 987.5 172.3 987.6 169.4 987.8 171.9 987.9 171.1 988.0 173.1 988.2 172.0 988.3 169.0 988.4 169.9 988.6 171.2 988.7 170.3 988.8 168.7 989.0 172.2 989.1 166.3 989.2 171.0 989.4 168.7 989.5 167.9 989.6 170.5 989.8 173.7 989.9 169.3 990.0 172.3 990.2 172.9 990.3 171.8 990.4 172.2 990.6 172.5 990.7 172.8 990.8 174.8 991.0 164.3 991.1 172.2 991.2 173.3 991.4 168.5 991.5 173.0 991.6 173.9 991.8 171.7 991.9 173.3 992.0 172.1 992.2 171.4 992.3 173.0 992.4 173.1 992.6 176.4 992.7 173.7 992.8 176.2 993.0 176.6 993.1 177.0 993.2 174.8 993.4 175.4 993.5 172.8 993.6 172.1 993.8 176.7 993.9 175.6 994.0 171.5 994.2 171.7 994.3 176.4 994.4 173.7 994.5 175.3 994.7 175.9 994.8 173.0 994.9 175.0 995.1 171.3 995.2 173.6 995.3 175.3 995.5 176.6 995.6 174.4 995.7 175.6 995.9 173.3 996.0 176.7 996.1 172.8 996.3 174.8 996.4 175.3 996.5 173.2 996.7 174.7 996.8 175.2 996.9 177.5 997.1 176.9 997.2 176.2 997.3 176.2 997.5 176.2 997.6 173.7 997.7 174.8 997.9 175.0 998.0 177.4 998.1 176.0 998.3 175.9 998.4 172.4 998.5 177.3 998.7 172.9 998.8 172.1 998.9 174.0 999.1 174.7 999.2 173.7 999.3 177.0 999.5 173.6 999.6 174.1 999.7 172.9 999.9 178.1 1000.0 175.3 1000.1 175.5 1000.3 173.0 1000.4 174.9 1000.5 175.6 1000.7 177.3 1000.8 178.4 1000.9 178.8 1001.1 175.4 1001.2 177.2 1001.3 179.6 1001.5 177.8 1001.6 178.0 1001.7 178.6 1001.8 177.0 1002.0 176.0 1002.1 180.4 1002.2 172.9 1002.4 176.1 1002.5 177.0 1002.6 176.1 1002.8 176.1 1002.9 175.5"/>
<path d="M118.0 263.1 118.1 262.7 118.3 263.1 118.4 261.3 118.5 266.2 118.7 265.8 118.8 264.5 118.9 265.9 119.1 265.5 119.2 264.7 119.3 266.4 119.5 265.1 119.6 265.1 119.7 264.5 119.9 265.8 120.0 265.1 120.1 265.7 120.3 264.3 120.4 265.0 120.5 263.8 120.7 265.7 120.8 265.1 120.9 265.2 121.1 265.4 121.2 264.0 121.3 266.2 121.5 267.8 121.6 264.0 121.7 264.2 121.8 264.7 122.0 267.4 122.1 266.8 122.2 268.0 122.4 267.7 122.5 267.3 122.6 267.6 122.8 267.3 122.9 268.7 123.0 266.9 123.2 268.0 123.3 269.2 123.4 271.3 123.6 268.9 123.7 268.9 123.8 269.9 124.0 271.8 124.1 270.7 124.2 272.6 124.4 269.1 124.5 272.4 124.6 272.2 124.8 269.4 124.9 271.0 125.0 272.2 125.2 270.9 125.3 272.0 125.4 273.6 125.6 271.4 125.7 271.0 125.8 270.6 126.0 272.3 126.1 271.5 126.2 271.7 126.4 271.9 126.5 273.0 126.6 270.6 126.8 270.9 126.9 270.1 127.0 274.4 127.2 273.3 127.3 275.1 127.4 273.5 127.6 272.7 127.7 274.0 127.8 273.4 128.0 272.0 128.1 272.4 128.2 275.5 128.4 274.0 128.5 274.4 128.6 273.9 128.8 273.8 128.9 276.0 129.0 275.2 129.2 274.7 129.3 275.5 129.4 274.3 129.5 276.1 129.7 277.1 129.8 274.8 129.9 277.4 130.1 275.0 130.2 275.9 130.3 274.9 130.5 275.8 130.6 276.3 130.7 275.9 130.9 275.8 131.0 275.9 131.1 275.9 131.3 275.1 131.4 276.6 131.5 277.6 131.7 278.0 131.8 277.8 131.9 280.1 132.1 277.8 132.2 277.1 132.3 280.1 132.5 277.0 132.6 279.6 132.7 277.6 132.9 279.3 133.0 276.7 133.1 280.6 133.3 278.8 133.4 277.6 133.5 280.6 133.7 279.3 133.8 278.3 133.9 277.4 134.1 278.3 134.2 278.4 134.3 279.7 134.5 280.2 134.6 278.9 134.7 279.4 134.9 279.8 135.0 279.1 135.1 280.1 135.3 280.8 135.4 281.7 135.5 282.4 135.7 279.8 135.8 281.2 135.9 279.9 136.1 282.8 136.2 280.2 136.3 280.8 136.5 279.1 136.6 279.3 136.7 280.6 136.9 280.0 137.0 281.1 137.1 278.9 137.2 281.8 137.4 279.5 137.5 283.3 137.6 281.0 137.8 282.8 137.9 280.0 138.0 282.3 138.2 280.9 138.3 281.5 138.4 282.3 138.6 282.1 138.7 283.0 138.8 283.8 139.0 284.2 139.1 283.0 139.2 281.5 139.4 282.2 139.5 282.9 139.6 280.6 139.8 284.0 139.9 282.8 140.0 282.9 140.2 284.4 140.3 284.2 140.4 283.8 140.6 282.4 140.7 284.1 140.8 284.3 141.0 282.9 141.1 285.4 141.2 284.8 141.4 282.0 141.5 284.7 141.6 283.2 141.8 286.2 141.9 286.0 142.0 283.8 142.2 284.1 142.3 285.3 142.4 285.0 142.6 287.1 142.7 286.2 142.8 285.0 143.0 286.1 143.1 282.9 143.2 285.8 143.4 286.5 143.5 285.3 143.6 284.7 143.8 286.3 143.9 288.0 144.0 285.9 144.2 284.4 144.3 287.6 144.4 283.6 144.6 286.7 144.7 285.5 144.8 287.6 144.9 285.6 145.1 288.5 145.2 287.6 145.3 285.1 145.5 285.0 145.6 287.2 145.7 289.4 145.9 288.0 146.0 288.0 146.1 287.5 146.3 288.6 146.4 287.9 146.5 287.5 146.7 285.1 146.8 288.0 146.9 287.9 147.1 284.4 147.2 288.6 147.3 286.5 147.5 285.0 147.6 283.3 147.7 286.7 147.9 286.9 148.0 285.9 148.1 284.9 148.3 289.0 148.4 287.5 148.5 288.1 148.7 292.6 148.8 292.0 148.9 290.7 149.1 289.0 149.2 290.3 149.3 286.5 149.5 289.3 149.6 288.1 149.7 287.3 149.9 286.9 150.0 289.4 150.1 288.8 150.3 288.9 150.4 289.7 150.5 287.7 150.7 286.4 150.8 286.5 150.9 288.3 151.1 289.7 151.2 288.6 151.3 289.6 151.5 287.4 151.6 288.2 151.7 287.8 151.9 287.2 152.0 291.1 152.1 289.8 152.2 287.9 152.4 287.9 152.5 288.8 152.6 287.1 152.8 289.4 152.9 287.3 153.0 288.4 153.2 287.6 153.3 288.2 153.4 287.2 153.6 286.9 153.7 287.7 153.8 288.1 154.0 288.7 154.1 289.3 154.2 291.2 154.4 291.0 154.5 289.2 154.6 290.6 154.8 288.9 154.9 291.7 155.0 290.7 155.2 288.4 155.3 291.1 155.4 291.7 155.6 286.8 155.7 289.2 155.8 289.2 156.0 287.7 156.1 288.7 156.2 288.9 156.4 290.7 156.5 290.6 156.6 293.6 156.8 290.0 156.9 292.0 157.0 290.8 157.2 291.1 157.3 289.2 157.4 288.2 157.6 289.4 157.7 291.0 157.8 291.7 158.0 290.1 158.1 289.6 158.2 287.6 158.4 291.3 158.5 289.8 158.6 286.9 158.8 287.7 158.9 286.4 159.0 289.4 159.2 288.1 159.3 287.6 159.4 288.4 159.6 288.7 159.7 287.6 159.8 287.1 159.9 287.4 160.1 287.1 160.2 290.1 160.3 292.5 160.5 287.7 160.6 290.2 160.7 290.9 160.9 289.0 161.0 290.6 161.1 289.1 161.3 292.2 161.4 290.1 161.5 291.2 161.7 292.1 161.8 290.9 161.9 289.3 162.1 290.9 162.2 293.0 162.3 291.4 162.5 291.7 162.6 289.2 162.7 291.3 162.9 291.9 163.0 290.9 163.1 293.2 163.3 290.5 163.4 289.4 163.5 288.8 163.7 292.4 163.8 290.9 163.9 292.4 164.1 291.8 164.2 293.3 164.3 293.0 164.5 291.0 164.6 292.0 164.7 293.2 164.9 290.5 165.0 294.1 165.1 294.1 165.3 294.0 165.4 292.7 165.5 293.5 165.7 291.8 165.8 293.4 165.9 292.5 166.1 293.3 166.2 292.5 166.3 293.4 166.5 294.5 166.6 291.3 166.7 294.2 166.9 290.6 167.0 290.5 167.1 293.2 167.3 293.6 167.4 294.3 167.5 290.6 167.6 293.7 167.8 293.8 167.9 295.1 168.0 293.1 168.2 293.5 168.3 291.2 168.4 291.8 168.6 290.9 168.7 291.9 168.8 289.2 169.0 288.9 169.1 290.1 169.2 291.0 169.4 288.7 169.5 288.0 169.6 286.5 169.8 287.6 169.9 286.2 170.0 286.8 170.2 284.3 170.3 282.0 170.4 281.6 170.6 280.3 170.7 279.3 170.8 281.7 171.0 280.8 171.1 278.2 171.2 281.9 171.4 280.4 171.5 279.6 171.6 281.9 171.8 282.3 171.9 282.4 172.0 282.1 172.2 285.5 172.3 286.9 172.4 284.4 172.6 289.2 172.7 290.5 172.8 289.5 173.0 290.8 173.1 290.8 173.2 290.6 173.4 291.6 173.5 294.3 173.6 290.3 173.8 293.8 173.9 294.3 174.0 293.6 174.2 294.4 174.3 293.5 174.4 294.4 174.6 295.8 174.7 296.3 174.8 294.9 174.9 300.1 175.1 295.6 175.2 296.7 175.3 296.4 175.5 296.3 175.6 298.7 175.7 296.4 175.9 298.8 176.0 298.5 176.1 295.5 176.3 298.1 176.4 295.8 176.5 300.1 176.7 296.0 176.8 295.4 176.9 294.3 177.1 295.2 177.2 296.4 177.3 296.0 177.5 295.8 177.6 296.6 177.7 297.2 177.9 299.3 178.0 295.1 178.1 296.4 178.3 295.8 178.4 295.0 178.5 295.3 178.7 295.8 178.8 298.0 178.9 297.0 179.1 296.7 179.2 298.3 179.3 297.9 179.5 297.3 179.6 298.0 179.7 296.3 179.9 298.2 180.0 298.2 180.1 296.7 180.3 295.7 180.4 299.4 180.5 297.6 180.7 303.5 180.8 296.8 180.9 298.8 181.1 297.2 181.2 298.1 181.3 298.9 181.5 296.8 181.6 297.7 181.7 298.1 181.9 298.1 182.0 298.8 182.1 299.5 182.3 299.4 182.4 298.7 182.5 297.9 182.6 296.9 182.8 297.4 182.9 297.6 183.0 299.1 183.2 297.7 183.3 296.5 183.4 298.9 183.6 297.1 183.7 297.2 183.8 298.0 184.0 299.0 184.1 295.3 184.2 297.2 184.4 299.2 184.5 298.8 184.6 298.4 184.8 299.1 184.9 301.9 185.0 299.7 185.2 301.5 185.3 301.8 185.4 300.3 185.6 302.0 185.7 300.7 185.8 300.7 186.0 300.2 186.1 303.0 186.2 301.5 186.4 301.3 186.5 300.6 186.6 304.4 186.8 303.0 186.9 301.7 187.0 300.9 187.2 299.8 187.3 302.2 187.4 302.2 187.6 300.0 187.7 303.5 187.8 303.1 188.0 300.9 188.1 301.6 188.2 301.9 188.4 302.9 188.5 302.6 188.6 300.9 188.8 305.3 188.9 303.9 189.0 305.2 189.2 305.3 189.3 303.3 189.4 304.3 189.6 304.6 189.7 304.7 189.8 303.5 190.0 302.9 190.1 303.8 190.2 302.7 190.3 303.0 190.5 301.0 190.6 303.9 190.7 302.3 190.9 302.8 191.0 303.4 191.1 303.9 191.3 307.3 191.4 303.7 191.5 301.5 191.7 303.5 191.8 302.6 191.9 304.0 192.1 302.8 192.2 303.0 192.3 303.6 192.5 303.8 192.6 302.5 192.7 304.4 192.9 305.6 193.0 307.4 193.1 305.4 193.3 305.3 193.4 306.5 193.5 306.3 193.7 307.5 193.8 306.0 193.9 305.1 194.1 306.8 194.2 307.0 194.3 304.2 194.5 305.0 194.6 302.4 194.7 304.1 194.9 303.3 195.0 304.2 195.1 303.8 195.3 304.3 195.4 304.6 195.5 305.9 195.7 305.5 195.8 304.8 195.9 304.1 196.1 307.9 196.2 308.5 196.3 306.1 196.5 307.7 196.6 305.0 196.7 305.0 196.9 306.8 197.0 309.2 197.1 305.8 197.3 306.0 197.4 309.4 197.5 304.6 197.7 308.2 197.8 308.0 197.9 307.1 198.0 307.8 198.2 311.1 198.3 306.0 198.4 307.1 198.6 307.2 198.7 306.6 198.8 305.7 199.0 309.7 199.1 307.8 199.2 305.0 199.4 306.4 199.5 307.9 199.6 307.9 199.8 305.4 199.9 307.2 200.0 307.8 200.2 308.0 200.3 308.1 200.4 305.1 200.6 310.2 200.7 308.0 200.8 310.3 201.0 311.8 201.1 307.7 201.2 306.4 201.4 310.1 201.5 308.2 201.6 307.9 201.8 307.3 201.9 311.2 202.0 308.3 202.2 307.0 202.3 308.3 202.4 307.3 202.6 309.0 202.7 308.1 202.8 307.2 203.0 309.5 203.1 307.9 203.2 309.9 203.4 310.9 203.5 309.0 203.6 308.9 203.8 310.4 203.9 311.6 204.0 310.6 204.2 310.9 204.3 310.7 204.4 311.2 204.6 312.0 204.7 309.6 204.8 309.7 205.0 310.3 205.1 309.2 205.2 310.3 205.3 310.9 205.5 310.2 205.6 309.1 205.7 309.6 205.9 313.4 206.0 312.5 206.1 310.0 206.3 310.7 206.4 314.7 206.5 314.4 206.7 312.6 206.8 314.1 206.9 310.5 207.1 312.6 207.2 313.6 207.3 309.9 207.5 311.4 207.6 313.5 207.7 313.9 207.9 311.3 208.0 312.5 208.1 315.3 208.3 311.2 208.4 309.8 208.5 311.5 208.7 310.9 208.8 313.2 208.9 311.6 209.1 310.3 209.2 314.9 209.3 311.0 209.5 312.7 209.6 313.2 209.7 313.6 209.9 313.0 210.0 313.8 210.1 312.9 210.3 311.0 210.4 312.7 210.5 312.7 210.7 312.7 210.8 313.2 210.9 312.1 211.1 315.0 211.2 315.5 211.3 310.3 211.5 313.7 211.6 312.9 211.7 310.5 211.9 315.0 212.0 313.8 212.1 314.3 212.3 314.0 212.4 316.5 212.5 316.6 212.7 315.2 212.8 315.6 212.9 314.2 213.0 314.4 213.2 312.9 213.3 313.7 213.4 312.4 213.6 313.8 213.7 314.4 213.8 313.6 214.0 314.9 214.1 317.2 214.2 310.5 214.4 313.7 214.5 313.1 214.6 313.4 214.8 311.4 214.9 314.5 215.0 314.3 215.2 314.0 215.3 314.7 215.4 314.4 215.6 312.1 215.7 317.1 215.8 315.2 216.0 314.2 216.1 315.9 216.2 314.4 216.4 312.1 216.5 316.2 216.6 312.4 216.8 314.3 216.9 314.6 217.0 316.2 217.2 315.9 217.3 314.4 217.4 312.9 217.6 313.3 217.7 315.3 217.8 316.0 218.0 314.0 218.1 312.0 218.2 314.1 218.4 311.8 218.5 311.6 218.6 311.5 218.8 312.6 218.9 312.0 219.0 312.9 219.2 313.1 219.3 311.9 219.4 307.7 219.6 308.4 219.7 311.0 219.8 310.5 220.0 313.5 220.1 310.4 220.2 310.3 220.4 312.0 220.5 312.3 220.6 310.6 220.7 311.8 220.9 309.8 221.0 310.2 221.1 313.3 221.3 309.7 221.4 313.1 221.5 313.0 221.7 313.3 221.8 313.8 221.9 313.6 222.1 308.7 222.2 312.2 222.3 313.2 222.5 315.7 222.6 313.0 222.7 313.8 222.9 314.5 223.0 318.0 223.1 312.2 223.3 313.5 223.4 316.7 223.5 311.5 223.7 316.9 223.8 316.1 223.9 314.9 224.1 316.9 224.2 316.4 224.3 318.4 224.5 319.0 224.6 320.9 224.7 319.0 224.9 319.4 225.0 318.6 225.1 319.6 225.3 321.3 225.4 317.1 225.5 321.0 225.7 318.9 225.8 320.2 225.9 320.6 226.1 321.4 226.2 320.5 226.3 319.5 226.5 320.5 226.6 320.0 226.7 319.6 226.9 320.2 227.0 321.1 227.1 320.1 227.3 320.2 227.4 318.2 227.5 320.0 227.7 317.7 227.8 321.8 227.9 319.6 228.0 323.2 228.2 326.0 228.3 321.2 228.4 324.0 228.6 323.0 228.7 321.4 228.8 320.9 229.0 322.8 229.1 323.8 229.2 321.9 229.4 318.8 229.5 319.2 229.6 320.1 229.8 322.2 229.9 320.5 230.0 320.5 230.2 321.9 230.3 319.9 230.4 320.2 230.6 320.2 230.7 317.9 230.8 321.6 231.0 321.1 231.1 321.7 231.2 318.2 231.4 318.3 231.5 320.2 231.6 318.5 231.8 319.0 231.9 313.9 232.0 314.7 232.2 311.9 232.3 311.7 232.4 309.1 232.6 309.0 232.7 308.4 232.8 306.9 233.0 303.0 233.1 307.3 233.2 306.5 233.4 305.4 233.5 306.9 233.6 309.6 233.8 312.0 233.9 312.1 234.0 311.9 234.2 316.0 234.3 317.1 234.4 321.5 234.6 317.0 234.7 323.4 234.8 323.0 235.0 321.5 235.1 324.1 235.2 322.3 235.4 324.0 235.5 321.8 235.6 323.3 235.7 321.9 235.9 321.2 236.0 323.3 236.1 322.9 236.3 324.8 236.4 325.9 236.5 323.8 236.7 324.3 236.8 324.6 236.9 321.9 237.1 325.1 237.2 324.8 237.3 324.8 237.5 322.4 237.6 320.3 237.7 324.0 237.9 324.8 238.0 326.0 238.1 325.4 238.3 325.7 238.4 323.9 238.5 325.1 238.7 323.1 238.8 324.5 238.9 325.2 239.1 328.1 239.2 324.6 239.3 322.5 239.5 326.8 239.6 323.7 239.7 325.0 239.9 324.9 240.0 324.2 240.1 327.9 240.3 327.1 240.4 325.6 240.5 326.9 240.7 326.3 240.8 328.1 240.9 326.7 241.1 326.2 241.2 326.5 241.3 326.9 241.5 328.0 241.6 326.2 241.7 327.5 241.9 328.2 242.0 331.1 242.1 328.7 242.3 322.8 242.4 326.5 242.5 326.6 242.7 328.0 242.8 329.8 242.9 328.6 243.1 322.3 243.2 328.1 243.3 327.7 243.4 328.1 243.6 329.2 243.7 325.1 243.8 328.0 244.0 323.2 244.1 325.4 244.2 325.6 244.4 328.4 244.5 323.8 244.6 322.5 244.8 326.4 244.9 324.7 245.0 328.4 245.2 325.3 245.3 325.2 245.4 328.6 245.6 326.8 245.7 328.1 245.8 324.3 246.0 328.9 246.1 325.3 246.2 327.4 246.4 324.5 246.5 323.7 246.6 325.7 246.8 326.6 246.9 329.0 247.0 327.5 247.2 328.4 247.3 328.6 247.4 332.7 247.6 326.8 247.7 330.0 247.8 327.8 248.0 328.4 248.1 327.1 248.2 329.7 248.4 326.0 248.5 326.0 248.6 328.0 248.8 326.8 248.9 329.9 249.0 330.5 249.2 328.2 249.3 330.8 249.4 328.2 249.6 329.7 249.7 329.8 249.8 332.6 250.0 329.6 250.1 328.0 250.2 327.8 250.4 330.9 250.5 326.2 250.6 328.0 250.8 328.0 250.9 324.8 251.0 327.9 251.1 330.2 251.3 329.1 251.4 327.4 251.5 330.0 251.7 329.8 251.8 332.3 251.9 327.7 252.1 329.1 252.2 330.0 252.3 330.0 252.5 330.6 252.6 330.5 252.7 329.8 252.9 328.5 253.0 330.2 253.1 329.0 253.3 329.6 253.4 330.5 253.5 332.1 253.7 332.7 253.8 329.7 253.9 331.7 254.1 332.4 254.2 330.9 254.3 328.3 254.5 327.4 254.6 332.0 254.7 332.1 254.9 331.0 255.0 328.9 255.1 332.8 255.3 332.4 255.4 330.4 255.5 330.1 255.7 327.3 255.8 331.4 255.9 327.5 256.1 330.9 256.2 330.8 256.3 329.6 256.5 331.9 256.6 328.9 256.7 330.5 256.9 331.0 257.0 330.4 257.1 329.5 257.3 332.3 257.4 331.1 257.5 330.2 257.7 330.2 257.8 330.4 257.9 333.6 258.1 329.9 258.2 329.0 258.3 326.6 258.4 326.9 258.6 325.6 258.7 328.7 258.8 328.1 259.0 326.3 259.1 325.4 259.2 327.0 259.4 326.5 259.5 325.0 259.6 327.2 259.8 326.5 259.9 325.6 260.0 326.2 260.2 323.2 260.3 325.2 260.4 320.5 260.6 321.6 260.7 320.5 260.8 317.9 261.0 317.7 261.1 314.3 261.2 313.3 261.4 314.8 261.5 314.1 261.6 316.5 261.8 316.4 261.9 318.3 262.0 318.9 262.2 319.9 262.3 321.0 262.4 321.5 262.6 322.5 262.7 329.0 262.8 322.8 263.0 326.1 263.1 328.8 263.2 328.7 263.4 330.8 263.5 330.0 263.6 327.6 263.8 329.4 263.9 327.9 264.0 331.6 264.2 332.3 264.3 329.3 264.4 331.1 264.6 329.1 264.7 327.4 264.8 328.8 265.0 327.0 265.1 328.5 265.2 329.6 265.4 330.2 265.5 330.9 265.6 328.0 265.8 328.5 265.9 328.5 266.0 328.3 266.1 322.7 266.3 325.7 266.4 328.1 266.5 325.1 266.7 327.2 266.8 328.2 266.9 324.0 267.1 326.6 267.2 327.2 267.3 326.7 267.5 324.2 267.6 326.8 267.7 325.2 267.9 326.9 268.0 326.0 268.1 324.1 268.3 324.7 268.4 322.9 268.5 322.4 268.7 320.7 268.8 322.3 268.9 323.5 269.1 322.2 269.2 321.7 269.3 320.6 269.5 320.5 269.6 322.1 269.7 318.5 269.9 323.4 270.0 320.1 270.1 324.7 270.3 321.6 270.4 319.3 270.5 321.0 270.7 320.4 270.8 320.8 270.9 321.5 271.1 319.2 271.2 319.9 271.3 320.5 271.5 319.5 271.6 321.5 271.7 322.7 271.9 323.2 272.0 323.6 272.1 323.2 272.3 325.4 272.4 320.0 272.5 324.5 272.7 325.1 272.8 327.4 272.9 327.4 273.1 328.0 273.2 327.2 273.3 328.8 273.5 326.0 273.6 327.8 273.7 324.4 273.8 330.3 274.0 330.1 274.1 326.6 274.2 326.2 274.4 324.2 274.5 325.0 274.6 327.4 274.8 326.8 274.9 324.6 275.0 325.9 275.2 325.4 275.3 327.0 275.4 327.3 275.6 325.9 275.7 326.5 275.8 326.4 276.0 323.6 276.1 327.5 276.2 327.5 276.4 329.6 276.5 325.4 276.6 329.7 276.8 327.6 276.9 329.2 277.0 330.7 277.2 326.6 277.3 326.9 277.4 330.5 277.6 327.2 277.7 327.4 277.8 329.8 278.0 328.5 278.1 329.9 278.2 329.1 278.4 328.4 278.5 329.9 278.6 331.7 278.8 328.0 278.9 330.6 279.0 330.1 279.2 328.5 279.3 329.0 279.4 326.9 279.6 327.4 279.7 328.8 279.8 328.4 280.0 330.7 280.1 326.8 280.2 328.6 280.4 328.3 280.5 329.2 280.6 331.5 280.8 327.9 280.9 331.1 281.0 328.9 281.1 329.2 281.3 331.2 281.4 328.7 281.5 330.4 281.7 329.4 281.8 328.8 281.9 328.5 282.1 326.3 282.2 327.9 282.3 329.3 282.5 329.5 282.6 327.0 282.7 331.1 282.9 330.6 283.0 328.0 283.1 328.6 283.3 331.1 283.4 327.7 283.5 329.2 283.7 330.1 283.8 329.8 283.9 329.7 284.1 330.2 284.2 328.1 284.3 328.4 284.5 332.2 284.6 326.8 284.7 328.1 284.9 328.9 285.0 327.6 285.1 330.4 285.3 328.5 285.4 329.4 285.5 324.1 285.7 330.0 285.8 330.0 285.9 327.3 286.1 330.7 286.2 329.4 286.3 330.8 286.5 332.5 286.6 330.2 286.7 328.0 286.9 330.7 287.0 328.9 287.1 329.8 287.3 329.9 287.4 329.9 287.5 332.7 287.7 332.1 287.8 329.3 287.9 332.4 288.1 328.0 288.2 329.5 288.3 330.4 288.5 332.4 288.6 331.7 288.7 331.2 288.8 332.4 289.0 331.3 289.1 333.0 289.2 328.4 289.4 326.6 289.5 327.8 289.6 329.7 289.8 328.4 289.9 329.1 290.0 328.6 290.2 328.5 290.3 328.5 290.4 326.2 290.6 329.0 290.7 325.8 290.8 327.2 291.0 325.2 291.1 328.1 291.2 324.9 291.4 329.3 291.5 325.0 291.6 327.5 291.8 326.8 291.9 325.7 292.0 328.9 292.2 326.3 292.3 329.0 292.4 325.0 292.6 325.0 292.7 322.7 292.8 326.2 293.0 326.3 293.1 324.9 293.2 324.1 293.4 322.7 293.5 327.5 293.6 325.0 293.8 320.9 293.9 323.0 294.0 319.3 294.2 325.2 294.3 325.3 294.4 324.1 294.6 321.2 294.7 319.8 294.8 318.1 295.0 320.4 295.1 318.0 295.2 318.1 295.4 317.2 295.5 317.3 295.6 318.6 295.8 319.2 295.9 316.4 296.0 315.5 296.2 313.0 296.3 311.8 296.4 310.9 296.5 312.3 296.7 309.9 296.8 309.2 296.9 306.5 297.1 303.2 297.2 298.7 297.3 297.9 297.5 293.4 297.6 294.3 297.7 288.3 M300.8 289.7 300.9 290.5 301.1 293.8 301.2 300.2 301.3 301.3 301.5 304.3 301.6 304.5 301.7 306.6 301.9 309.8 302.0 311.4 302.1 312.5 302.3 315.6 302.4 314.4 302.5 312.7 302.7 314.2 302.8 315.9 302.9 318.4 303.1 315.9 303.2 316.9 303.3 317.9 303.5 317.5 303.6 318.1 303.7 319.7 303.9 322.5 304.0 322.6 304.1 322.3 304.2 324.2 304.4 321.3 304.5 326.3 304.6 326.2 304.8 325.7 304.9 322.8 305.0 328.2 305.2 320.5 305.3 323.1 305.4 323.0 305.6 325.2 305.7 321.6 305.8 324.1 306.0 323.5 306.1 323.2 306.2 325.0 306.4 326.0 306.5 324.5 306.6 323.6 306.8 320.6 306.9 326.4 307.0 323.7 307.2 321.4 307.3 324.4 307.4 327.4 307.6 324.0 307.7 322.4 307.8 327.6 308.0 325.1 308.1 324.7 308.2 325.8 308.4 320.9 308.5 324.1 308.6 323.9 308.8 327.6 308.9 322.8 309.0 323.3 309.2 322.0 309.3 322.9 309.4 323.9 309.6 324.7 309.7 324.0 309.8 327.5 310.0 325.2 310.1 325.6 310.2 326.9 310.4 325.9 310.5 324.3 310.6 323.0 310.8 326.2 310.9 324.7 311.0 328.3 311.2 325.4 311.3 323.5 311.4 327.2 311.5 328.9 311.7 327.0 311.8 327.6 311.9 327.5 312.1 329.8 312.2 327.5 312.3 326.9 312.5 325.9 312.6 324.3 312.7 329.0 312.9 328.6 313.0 325.4 313.1 327.9 313.3 327.4 313.4 326.2 313.5 325.9 313.7 327.7 313.8 324.4 313.9 325.2 314.1 325.6 314.2 325.5 314.3 325.0 314.5 325.5 314.6 326.0 314.7 323.8 314.9 325.5 315.0 324.9 315.1 328.4 315.3 324.2 315.4 326.4 315.5 328.2 315.7 327.0 315.8 327.1 315.9 326.9 316.1 328.2 316.2 325.9 316.3 327.5 316.5 327.4 316.6 325.2 316.7 328.0 316.9 326.9 317.0 328.2 317.1 329.8 317.3 328.6 317.4 325.4 317.5 328.8 317.7 325.9 317.8 327.3 317.9 331.1 318.1 328.4 318.2 330.8 318.3 328.1 318.5 328.3 318.6 325.6 318.7 329.6 318.9 327.7 319.0 328.9 319.1 328.5 319.2 328.6 319.4 328.1 319.5 327.5 319.6 327.5 319.8 326.4 319.9 324.1 320.0 328.1 320.2 330.5 320.3 328.9 320.4 330.7 320.6 327.8 320.7 325.4 320.8 325.3 321.0 327.9 321.1 327.2 321.2 326.4 321.4 327.8 321.5 325.3 321.6 327.5 321.8 326.2 321.9 326.9 322.0 328.6 322.2 326.6 322.3 329.1 322.4 329.3 322.6 326.2 322.7 331.2 322.8 325.9 323.0 327.9 323.1 329.4 323.2 324.9 323.4 331.1 323.5 330.6 323.6 328.8 323.8 329.6 323.9 329.7 324.0 329.2 324.2 331.4 324.3 329.4 324.4 330.1 324.6 331.0 324.7 331.9 324.8 332.4 325.0 328.4 325.1 327.5 325.2 330.4 325.4 330.4 325.5 328.6 325.6 330.6 325.8 330.9 325.9 330.4 326.0 333.6 326.2 327.2 326.3 329.5 326.4 334.0 326.6 330.4 326.7 327.5 326.8 329.5 326.9 331.0 327.1 332.5 327.2 330.4 327.3 331.3 327.5 327.9 327.6 329.4 327.7 331.8 327.9 328.4 328.0 329.7 328.1 326.7 328.3 331.8 328.4 328.9 328.5 329.8 328.7 326.3 328.8 326.5 328.9 331.4 329.1 328.2 329.2 328.0 329.3 329.9 329.5 330.3 329.6 326.6 329.7 328.4 329.9 330.1 330.0 330.2 330.1 330.7 330.3 329.5 330.4 329.8 330.5 330.6 330.7 329.2 330.8 328.4 330.9 329.6 331.1 330.6 331.2 330.6 331.3 330.3 331.5 330.9 331.6 331.5 331.7 332.2 331.9 332.4 332.0 329.7 332.1 333.1 332.3 328.8 332.4 331.8 332.5 329.6 332.7 331.4 332.8 332.0 332.9 327.4 333.1 331.3 333.2 331.2 333.3 329.9 333.5 331.4 333.6 330.2 333.7 331.3 333.9 329.4 334.0 332.3 334.1 332.0 334.2 332.2 334.4 329.9 334.5 333.8 334.6 334.0 334.8 330.6 334.9 330.0 335.0 329.6 335.2 332.0 335.3 331.9 335.4 329.0 335.6 326.9 335.7 330.7 335.8 330.0 336.0 330.4 336.1 331.1 336.2 328.7 336.4 330.8 336.5 330.5 336.6 331.8 336.8 333.4 336.9 331.7 337.0 330.5 337.2 333.9 337.3 333.2 337.4 331.9 337.6 329.5 337.7 331.1 337.8 332.9 338.0 334.1 338.1 332.1 338.2 333.7 338.4 332.1 338.5 332.5 338.6 334.0 338.8 332.7 338.9 333.2 339.0 334.1 339.2 334.3 339.3 331.3 339.4 331.6 339.6 329.7 339.7 328.5 339.8 332.0 340.0 330.7 340.1 328.6 340.2 332.4 340.4 329.5 340.5 331.1 340.6 332.2 340.8 332.2 340.9 331.4 341.0 328.3 341.2 332.2 341.3 330.3 341.4 328.9 341.6 327.5 341.7 333.0 341.8 331.1 341.9 331.0 342.1 331.8 342.2 330.8 342.3 328.8 342.5 332.4 342.6 333.2 342.7 332.8 342.9 334.8 343.0 335.7 343.1 331.6 343.3 332.4 343.4 334.7 343.5 333.7 343.7 333.9 343.8 335.2 343.9 335.0 344.1 333.3 344.2 334.3 344.3 333.1 344.5 333.9 344.6 331.5 344.7 330.9 344.9 333.1 345.0 332.7 345.1 334.9 345.3 335.7 345.4 333.0 345.5 333.5 345.7 331.6 345.8 331.1 345.9 332.0 346.1 332.0 346.2 333.0 346.3 332.9 346.5 335.5 346.6 332.7 346.7 330.6 346.9 333.6 347.0 332.5 347.1 333.9 347.3 335.4 347.4 332.5 347.5 333.3 347.7 334.2 347.8 331.7 347.9 333.5 348.1 333.9 348.2 334.3 348.3 334.7 348.5 333.8 348.6 333.5 348.7 330.6 348.9 328.6 349.0 331.4 349.1 335.3 349.3 333.5 349.4 329.9 349.5 333.1 349.6 334.6 349.8 331.3 349.9 335.8 350.0 332.7 350.2 336.3 350.3 334.6 350.4 339.4 350.6 332.2 350.7 334.7 350.8 331.9 351.0 336.1 351.1 334.5 351.2 335.9 351.4 334.7 351.5 332.8 351.6 333.6 351.8 331.7 351.9 332.9 352.0 334.7 352.2 336.2 352.3 335.8 352.4 335.4 352.6 333.8 352.7 335.7 352.8 333.8 353.0 335.7 353.1 336.9 353.2 335.4 353.4 334.7 353.5 335.2 353.6 336.8 353.8 335.3 353.9 333.4 354.0 334.9 354.2 333.8 354.3 337.9 354.4 335.5 354.6 333.1 354.7 335.8 354.8 336.5 355.0 335.9 355.1 334.6 355.2 335.3 355.4 335.4 355.5 337.4 355.6 335.6 355.8 338.9 355.9 335.1 356.0 338.3 356.2 336.2 356.3 333.9 356.4 335.1 356.6 334.3 356.7 334.7 356.8 339.6 357.0 336.7 357.1 338.8 357.2 336.3 357.3 337.7 357.5 335.8 357.6 338.7 357.7 336.7 357.9 336.1 358.0 336.3 358.1 339.9 358.3 337.2 358.4 337.4 358.5 334.0 358.7 335.0 358.8 336.7 358.9 333.5 359.1 339.0 359.2 337.6 359.3 337.4 359.5 337.3 359.6 337.3 359.7 336.4 359.9 339.8 360.0 338.5 360.1 339.1 360.3 336.4 360.4 335.3 360.5 338.9 360.7 334.7 360.8 335.9 360.9 338.3 361.1 339.3 361.2 335.8 361.3 337.9 361.5 338.7 361.6 338.7 361.7 337.7 361.9 340.3 362.0 338.5 362.1 339.0 362.3 335.8 362.4 339.4 362.5 336.4 362.7 340.6 362.8 340.1 362.9 338.1 363.1 338.8 363.2 338.3 363.3 337.6 363.5 338.2 363.6 337.3 363.7 336.9 363.9 336.7 364.0 341.2 364.1 339.2 364.3 339.4 364.4 341.0 364.5 339.5 364.6 339.6 364.8 341.4 364.9 342.0 365.0 341.4 365.2 337.8 365.3 340.1 365.4 339.9 365.6 340.5 365.7 338.2 365.8 337.7 366.0 339.1 366.1 336.9 366.2 337.2 366.4 338.7 366.5 340.9 366.6 338.7 366.8 340.1 366.9 336.5 367.0 339.1 367.2 337.8 367.3 336.4 367.4 337.1 367.6 336.4 367.7 337.5 367.8 336.7 368.0 340.2 368.1 337.7 368.2 336.2 368.4 338.3 368.5 339.5 368.6 338.4 368.8 340.4 368.9 336.8 369.0 337.6 369.2 341.5 369.3 338.8 369.4 339.5 369.6 339.3 369.7 339.3 369.8 338.4 370.0 337.9 370.1 339.9 370.2 337.3 370.4 338.3 370.5 339.1 370.6 337.4 370.8 335.5 370.9 338.7 371.0 339.7 371.2 338.4 371.3 335.2 371.4 338.8 371.6 340.7 371.7 334.7 371.8 332.5 372.0 336.0 372.1 336.1 372.2 336.9 372.3 336.7 372.5 335.4 372.6 335.9 372.7 335.6 372.9 335.2 373.0 334.9 373.1 334.8 373.3 336.0 373.4 335.4 373.5 333.9 373.7 336.0 373.8 332.9 373.9 333.5 374.1 333.9 374.2 330.7 374.3 333.2 374.5 335.3 374.6 335.6 374.7 332.8 374.9 333.8 375.0 333.8 375.1 335.5 375.3 336.0 375.4 333.8 375.5 336.9 375.7 336.5 375.8 336.2 375.9 335.1 376.1 335.7 376.2 332.9 376.3 335.8 376.5 335.6 376.6 334.9 376.7 333.2 376.9 338.1 377.0 337.0 377.1 332.5 377.3 336.4 377.4 336.4 377.5 332.6 377.7 337.9 377.8 339.1 377.9 339.1 378.1 338.5 378.2 337.5 378.3 338.0 378.5 339.8 378.6 341.1 378.7 338.2 378.9 339.2 379.0 340.9 379.1 336.5 379.3 340.8 379.4 339.9 379.5 336.8 379.7 341.6 379.8 338.9 379.9 341.7 380.0 342.7 380.2 338.6 380.3 338.7 380.4 340.8 380.6 338.0 380.7 342.1 380.8 341.2 381.0 342.5 381.1 338.0 381.2 341.3 381.4 341.8 381.5 338.2 381.6 342.8 381.8 339.3 381.9 342.1 382.0 338.9 382.2 343.8 382.3 345.6 382.4 343.4 382.6 343.7 382.7 346.0 382.8 343.3 383.0 344.3 383.1 345.5 383.2 344.8 383.4 346.6 383.5 345.9 383.6 347.0 383.8 343.8 383.9 346.6 384.0 342.5 384.2 345.4 384.3 346.8 384.4 347.8 384.6 341.8 384.7 343.4 384.8 344.8 385.0 342.1 385.1 344.5 385.2 344.6 385.4 343.2 385.5 343.5 385.6 343.3 385.8 345.7 385.9 347.7 386.0 346.4 386.2 350.7 386.3 343.8 386.4 345.3 386.6 347.4 386.7 344.4 386.8 346.9 387.0 347.6 387.1 346.5 387.2 345.7 387.3 347.4 387.5 346.3 387.6 346.6 387.7 346.7 387.9 344.0 388.0 343.3 388.1 344.4 388.3 345.7 388.4 345.4 388.5 347.5 388.7 346.6 388.8 348.0 388.9 346.8 389.1 345.6 389.2 348.4 389.3 347.9 389.5 345.9 389.6 346.5 389.7 352.4 389.9 342.3 390.0 350.2 390.1 348.6 390.3 348.7 390.4 348.5 390.5 348.2 390.7 353.0 390.8 348.0 390.9 347.9 391.1 349.4 391.2 348.3 391.3 347.0 391.5 346.5 391.6 344.6 391.7 348.7 391.9 345.2 392.0 343.0 392.1 349.2 392.3 348.9 392.4 348.4 392.5 347.1 392.7 350.2 392.8 346.4 392.9 344.7 393.1 348.9 393.2 350.1 393.3 350.6 393.5 354.6 393.6 350.8 393.7 349.1 393.9 349.3 394.0 351.9 394.1 349.5 394.3 349.3 394.4 346.3 394.5 348.7 394.7 345.8 394.8 349.4 394.9 349.2 395.0 350.1 395.2 351.9 395.3 348.4 395.4 351.2 395.6 345.8 395.7 349.1 395.8 351.4 396.0 352.4 396.1 347.2 396.2 348.7 396.4 349.7 396.5 349.5 396.6 348.2 396.8 347.2 396.9 348.1 397.0 350.3 397.2 348.4 397.3 354.1 397.4 353.6 397.6 348.5 397.7 351.4 397.8 355.0 398.0 355.5 398.1 355.2 398.2 350.9 398.4 352.9 398.5 355.9 398.6 353.9 398.8 352.9 398.9 354.6 399.0 355.5 399.2 354.0 399.3 354.2 399.4 356.6 399.6 352.7 399.7 352.1 399.8 355.0 400.0 351.6 400.1 354.5 400.2 352.3 400.4 355.1 400.5 351.4 400.6 355.4 400.8 354.0 400.9 352.6 401.0 350.8 401.2 352.7 401.3 351.3 401.4 350.8 401.6 354.8 401.7 354.5 401.8 355.0 402.0 350.3 402.1 349.0 402.2 349.4 402.4 353.0 402.5 353.0 402.6 348.0 402.7 352.9 402.9 350.3 403.0 349.1 403.1 351.3 403.3 352.7 403.4 351.6 403.5 352.0 403.7 351.0 403.8 348.9 403.9 352.2 404.1 350.1 404.2 354.1 404.3 351.6 404.5 356.8 404.6 350.5 404.7 356.0 404.9 351.2 405.0 351.3 405.1 354.4 405.3 355.6 405.4 353.9 405.5 353.4 405.7 357.6 405.8 354.8 405.9 351.6 406.1 353.1 406.2 356.3 406.3 353.6 406.5 354.3 406.6 356.2 406.7 351.3 406.9 352.8 407.0 350.9 407.1 352.0 407.3 353.0 407.4 349.8 407.5 352.8 407.7 353.1 407.8 355.1 407.9 352.7 408.1 351.9 408.2 355.2 408.3 352.8 408.5 355.2 408.6 355.7 408.7 352.9 408.9 353.9 409.0 351.8 409.1 348.1 409.3 350.2 409.4 348.8 409.5 352.4 409.7 350.4 409.8 352.0 409.9 352.1 410.1 354.1 410.2 351.5 410.3 351.2 410.4 353.1 410.6 354.4 410.7 351.1 410.8 351.6 411.0 350.2 411.1 349.3 411.2 347.6 411.4 349.9 411.5 349.2 411.6 348.9 411.8 352.5 411.9 348.1 412.0 348.9 412.2 347.4 412.3 349.8 412.4 346.8 412.6 350.6 412.7 346.8 412.8 348.4 413.0 348.7 413.1 346.4 413.2 348.1 413.4 346.8 413.5 345.4 413.6 345.7 413.8 347.7 413.9 350.5 414.0 346.9 414.2 349.0 414.3 346.9 414.4 349.1 414.6 345.5 414.7 347.7 414.8 349.3 415.0 348.3 415.1 349.3 415.2 351.8 415.4 350.0 415.5 349.4 415.6 348.9 415.8 350.6 415.9 354.1 416.0 352.4 416.2 352.8 416.3 354.9 416.4 355.5 416.6 356.2 416.7 354.1 416.8 353.4 417.0 352.3 417.1 354.4 417.2 355.3 417.4 357.6 417.5 357.2 417.6 356.0 417.7 358.9 417.9 355.2 418.0 355.8 418.1 355.6 418.3 355.7 418.4 357.2 418.5 356.2 418.7 356.4 418.8 360.4 418.9 355.5 419.1 356.6 419.2 358.3 419.3 359.7 419.5 359.9 419.6 358.6 419.7 358.4 419.9 358.5 420.0 360.2 420.1 357.1 420.3 354.4 420.4 359.0 420.5 356.5 420.7 358.5 420.8 361.1 420.9 358.7 421.1 361.9 421.2 355.6 421.3 359.0 421.5 359.3 421.6 360.1 421.7 357.3 421.9 358.9 422.0 358.9 422.1 358.9 422.3 356.3 422.4 355.9 422.5 360.3 422.7 360.3 422.8 360.1 422.9 361.5 423.1 362.5 423.2 358.5 423.3 362.1 423.5 363.2 423.6 362.1 423.7 361.0 423.9 360.9 424.0 356.6 424.1 358.1 424.3 360.9 424.4 361.8 424.5 360.1 424.7 358.8 424.8 360.0 424.9 362.4 425.1 365.3 425.2 363.6 425.3 361.8 425.4 364.4 425.6 364.8 425.7 368.3 425.8 365.1 426.0 364.1 426.1 363.9 426.2 361.6 426.4 361.7 426.5 362.5 426.6 361.5 426.8 363.0 426.9 362.5 427.0 363.9 427.2 364.8 427.3 362.4 427.4 361.9 427.6 359.2 427.7 363.7 427.8 364.6 428.0 362.3 428.1 363.2 428.2 362.8 428.4 367.1 428.5 365.1 428.6 366.0 428.8 361.2 428.9 368.1 429.0 361.2 429.2 360.5 429.3 362.4 429.4 360.7 429.6 365.0 429.7 360.8 429.8 360.5 430.0 363.9 430.1 364.8 430.2 361.5 430.4 362.8 430.5 363.5 430.6 364.2 430.8 368.0 430.9 367.3 431.0 366.9 431.2 367.1 431.3 364.6 431.4 366.1 431.6 364.2 431.7 362.9 431.8 367.6 432.0 361.3 432.1 364.9 432.2 363.5 432.4 362.2 432.5 364.8 432.6 365.7 432.8 366.5 432.9 364.1 433.0 367.0 433.1 366.1 433.3 366.9 433.4 361.6 433.5 364.2 433.7 363.7 433.8 365.8 433.9 363.1 434.1 363.3 434.2 361.9 434.3 361.6 434.5 361.9 434.6 365.4 434.7 361.5 434.9 358.9 435.0 364.4 435.1 362.5 435.3 365.0 435.4 365.2 435.5 363.8 435.7 363.9 435.8 363.9 435.9 365.2 436.1 364.0 436.2 366.0 436.3 368.3 436.5 364.4 436.6 364.4 436.7 364.2 436.9 366.3 437.0 366.0 437.1 367.2 437.3 365.6 437.4 364.3 437.5 364.9 437.7 360.3 437.8 365.2 437.9 364.7 438.1 368.4 438.2 367.3 438.3 363.3 438.5 364.0 438.6 367.0 438.7 361.6 438.9 364.1 439.0 366.8 439.1 367.5 439.3 366.7 439.4 368.6 439.5 365.7 439.7 366.1 439.8 365.1 439.9 362.9 440.1 364.6 440.2 363.1 440.3 363.9 440.4 358.6 440.6 363.8 440.7 362.6 440.8 362.6 441.0 364.1 441.1 363.4 441.2 366.3 441.4 367.1 441.5 366.6 441.6 366.8 441.8 365.7 441.9 365.1 442.0 362.5 442.2 364.2 442.3 367.1 442.4 366.3 442.6 363.9 442.7 365.1 442.8 367.0 443.0 364.8 443.1 368.4 443.2 363.3 443.4 367.1 443.5 367.1 443.6 366.3 443.8 366.7 443.9 367.3 444.0 362.0 444.2 367.3 444.3 368.6 444.4 367.2 444.6 368.5 444.7 364.1 444.8 366.3 445.0 367.2 445.1 366.2 445.2 369.2 445.4 368.1 445.5 366.4 445.6 369.9 445.8 369.2 445.9 366.8 446.0 368.7 446.2 368.1 446.3 368.0 446.4 364.8 446.6 369.5 446.7 368.3 446.8 366.9 447.0 367.5 447.1 367.4 447.2 366.0 447.4 365.4 447.5 366.6 447.6 365.2 447.8 365.3 447.9 364.1 448.0 365.8 448.1 368.4 448.3 367.0 448.4 367.0 448.5 366.5 448.7 366.6 448.8 364.9 448.9 371.3 449.1 367.1 449.2 365.9 449.3 369.8 449.5 369.8 449.6 368.4 449.7 366.7 449.9 367.0 450.0 372.6 450.1 369.3 450.3 368.2 450.4 372.8 450.5 368.0 450.7 367.0 450.8 369.6 450.9 369.0 451.1 371.0 451.2 364.8 451.3 368.4 451.5 364.1 451.6 368.0 451.7 365.6 451.9 365.6 452.0 364.8 452.1 367.6 452.3 369.0 452.4 365.7 452.5 365.6 452.7 365.4 452.8 367.9 452.9 364.5 453.1 374.9 453.2 368.2 453.3 372.5 453.5 369.9 453.6 367.3 453.7 367.2 453.9 369.5 454.0 368.9 454.1 369.8 454.3 367.8 454.4 374.3 454.5 373.6 454.7 365.8 454.8 370.0 454.9 372.4 455.1 368.2 455.2 368.4 455.3 371.0 455.5 370.1 455.6 366.8 455.7 371.5 455.8 368.2 456.0 372.6 456.1 367.1 456.2 364.3 456.4 368.7 456.5 370.6 456.6 369.0 456.8 368.1 456.9 365.7 457.0 369.1 457.2 363.6 457.3 368.5 457.4 364.6 457.6 365.7 457.7 364.3 457.8 365.2 458.0 371.4 458.1 365.0 458.2 367.9 458.4 365.4 458.5 369.9 458.6 364.1 458.8 368.2 458.9 369.9 459.0 372.5 459.2 365.7 459.3 366.1 459.4 367.6 459.6 370.4 459.7 365.4 459.8 368.9 460.0 366.0 460.1 365.2 460.2 364.1 460.4 367.4 460.5 369.0 460.6 366.7 460.8 362.7 460.9 365.6 461.0 368.4 461.2 368.0 461.3 366.7 461.4 370.3 461.6 363.5 461.7 363.6 461.8 370.6 462.0 367.3 462.1 365.7 462.2 365.3 462.4 361.4 462.5 368.2 462.6 362.7 462.8 363.0 462.9 366.8 463.0 369.9 463.2 366.2 463.3 367.7 463.4 366.2 463.5 367.9 463.7 364.1 463.8 371.8 463.9 366.2 464.1 369.6 464.2 364.8 464.3 372.6 464.5 370.1 464.6 373.2 464.7 367.8 464.9 370.9 465.0 368.2 465.1 368.1 465.3 370.4 465.4 365.8 465.5 368.8 465.7 370.9 465.8 370.3 465.9 368.8 466.1 367.0 466.2 364.1 466.3 368.5 466.5 364.0 466.6 367.4 466.7 364.2 466.9 364.8 467.0 364.9 467.1 366.3 467.3 364.6 467.4 366.2 467.5 364.7 467.7 367.6 467.8 367.4 467.9 367.8 468.1 365.3 468.2 367.4 468.3 366.7 468.5 367.4 468.6 366.1 468.7 363.9 468.9 367.1 469.0 364.3 469.1 366.3 469.3 361.8 469.4 367.1 469.5 367.6 469.7 364.7 469.8 367.7 469.9 366.0 470.1 369.4 470.2 368.0 470.3 364.2 470.5 366.2 470.6 363.1 470.7 365.6 470.8 367.6 471.0 368.2 471.1 366.4 471.2 366.1 471.4 366.9 471.5 365.4 471.6 367.0 471.8 368.4 471.9 366.5 472.0 367.6 472.2 364.4 472.3 364.9 472.4 366.7 472.6 370.2 472.7 368.6 472.8 370.3 473.0 367.4 473.1 371.2 473.2 364.6 473.4 368.9 473.5 363.8 473.6 370.1 473.8 368.4 473.9 369.4 474.0 367.5 474.2 365.4 474.3 364.6 474.4 366.2 474.6 368.5 474.7 366.8 474.8 364.5 475.0 364.6 475.1 364.4 475.2 365.3 475.4 365.8 475.5 365.2 475.6 366.2 475.8 363.2 475.9 369.2 476.0 366.7 476.2 369.1 476.3 366.8 476.4 365.9 476.6 366.5 476.7 366.9 476.8 365.3 477.0 365.6 477.1 370.5 477.2 369.6 477.4 365.9 477.5 367.9 477.6 365.1 477.8 369.3 477.9 364.5 478.0 367.9 478.2 366.1 478.3 365.9 478.4 364.1 478.5 365.1 478.7 364.0 478.8 363.8 478.9 366.3 479.1 370.3 479.2 364.8 479.3 367.5 479.5 365.5 479.6 364.2 479.7 368.1 479.9 367.4 480.0 368.8 480.1 365.8 480.3 365.9 480.4 364.2 480.5 365.3 480.7 369.0 480.8 361.4 480.9 366.4 481.1 368.1 481.2 366.5 481.3 366.2 481.5 363.6 481.6 365.8 481.7 365.5 481.9 363.0 482.0 366.1 482.1 362.0 482.3 355.8 482.4 362.8 482.5 362.5 482.7 361.1 482.8 361.7 482.9 361.4 483.1 358.8 483.2 364.4 483.3 362.0 483.5 367.0 483.6 361.9 483.7 362.6 483.9 358.9 484.0 363.6 484.1 359.5 484.3 362.4 484.4 363.1 484.5 362.7 484.7 359.1 484.8 360.1 484.9 363.3 485.1 364.5 485.2 365.3 485.3 362.9 485.5 362.9 485.6 366.3 485.7 361.7 485.9 363.7 486.0 361.1 486.1 358.3 486.2 358.1 486.4 360.2 486.5 359.2 486.6 358.8 486.8 356.6 486.9 355.7 487.0 356.6 487.2 355.2 487.3 352.1 487.4 353.7 487.6 358.5 487.7 352.0 487.8 353.7 488.0 351.9 488.1 352.6 488.2 349.0 488.4 346.3 488.5 349.5 488.6 346.7 488.8 346.9 488.9 345.5 489.0 346.6 489.2 344.4 489.3 343.0 489.4 339.1 489.6 337.5 489.7 337.3 489.8 338.5 490.0 336.8 490.1 335.1 490.2 331.9 490.4 329.4 490.5 331.3 M515.7 327.0 515.9 328.7 516.0 329.6 516.1 332.0 516.3 333.4 516.4 331.2 516.5 334.9 516.6 336.0 516.8 335.6 516.9 338.6 517.0 338.4 517.2 340.6 517.3 340.3 517.4 344.6 517.6 347.7 517.7 344.0 517.8 346.1 518.0 347.2 518.1 348.9 518.2 348.9 518.4 346.3 518.5 351.7 518.6 351.6 518.8 350.7 518.9 352.8 519.0 352.7 519.2 354.3 519.3 353.6 519.4 353.9 519.6 354.7 519.7 355.2 519.8 355.0 520.0 357.3 520.1 356.0 520.2 354.5 520.4 359.5 520.5 357.0 520.6 360.0 520.8 355.6 520.9 358.8 521.0 361.1 521.2 360.3 521.3 358.0 521.4 356.6 521.6 356.2 521.7 356.6 521.8 354.7 522.0 354.7 522.1 354.0 522.2 353.7 522.4 355.7 522.5 351.9 522.6 355.2 522.8 356.0 522.9 352.9 523.0 352.7 523.2 354.1 523.3 353.7 523.4 355.3 523.6 349.9 523.7 353.2 523.8 355.9 523.9 353.6 524.1 356.8 524.2 357.7 524.3 352.9 524.5 356.7 524.6 354.9 524.7 353.9 524.9 353.3 525.0 353.2 525.1 351.7 525.3 352.6 525.4 354.0 525.5 354.1 525.7 350.6 525.8 351.7 525.9 351.1 526.1 345.7 526.2 351.3 526.3 347.0 526.5 346.9 526.6 350.3 526.7 351.7 526.9 346.9 527.0 347.1 527.1 346.8 527.3 347.2 527.4 346.7 527.5 345.8 527.7 343.9 527.8 349.0 527.9 344.4 528.1 343.3 528.2 345.3 528.3 342.5 528.5 344.3 528.6 343.2 528.7 343.2 528.9 340.6 529.0 342.2 529.1 338.5 529.3 338.9 529.4 341.4 529.5 340.9 529.7 343.7 529.8 341.1 529.9 338.5 530.1 341.3 530.2 340.5 530.3 340.8 530.5 338.1 530.6 338.2 530.7 338.9 530.9 339.4 531.0 338.2 531.1 338.1 531.3 333.9 531.4 335.3 531.5 335.3 531.6 335.9 531.8 334.2 531.9 332.9 532.0 332.6 532.2 332.3 532.3 329.9 532.4 332.1 532.6 333.2 532.7 333.0 532.8 329.0 533.0 332.1 533.1 329.7 533.2 333.9 533.4 333.0 533.5 333.2 533.6 331.0 533.8 328.9 533.9 330.3 534.0 331.4 534.2 329.6 534.3 330.4 534.4 334.8 534.6 329.9 534.7 332.8 534.8 328.8 535.0 331.9 535.1 333.2 535.2 331.5 535.4 332.3 535.5 332.9 535.6 327.6 535.8 329.8 535.9 329.9 536.0 329.6 536.2 331.2 536.3 329.0 536.4 330.3 536.6 331.0 536.7 328.4 536.8 328.9 537.0 326.8 537.1 328.4 537.2 328.2 537.4 327.6 537.5 327.1 537.6 329.2 537.8 327.3 537.9 330.5 M568.2 328.4 568.3 329.1 568.4 327.4 568.6 329.3 568.7 328.2 568.8 326.3 569.0 329.1 569.1 329.3 569.2 328.6 569.4 329.4 569.5 328.7 569.6 330.2 569.7 329.7 569.9 328.1 570.0 330.5 570.1 333.8 570.3 332.9 570.4 334.3 570.5 332.2 570.7 331.8 570.8 330.2 570.9 333.2 571.1 334.9 571.2 334.9 571.3 335.1 571.5 333.3 571.6 334.7 571.7 333.4 571.9 336.3 572.0 336.2 572.1 334.6 572.3 336.3 572.4 332.8 572.5 338.2 572.7 336.2 572.8 337.4 572.9 339.5 573.1 340.0 573.2 338.1 573.3 342.2 573.5 343.4 573.6 344.2 573.7 343.0 573.9 341.2 574.0 343.7 574.1 340.0 574.3 339.7 574.4 341.9 574.5 342.1 574.7 340.4 574.8 345.1 574.9 339.9 575.1 339.3 575.2 342.2 575.3 346.4 575.5 345.3 575.6 345.0 575.7 345.1 575.9 346.3 576.0 346.4 576.1 346.7 576.3 346.9 576.4 345.0 576.5 350.0 576.7 348.1 576.8 349.8 576.9 350.3 577.0 351.5 577.2 348.5 577.3 352.3 577.4 351.7 577.6 350.2 577.7 350.5 577.8 351.1 578.0 349.2 578.1 350.3 578.2 349.3 578.4 353.5 578.5 350.2 578.6 348.9 578.8 352.3 578.9 353.2 579.0 351.9 579.2 351.2 579.3 354.0 579.4 355.1 579.6 351.1 579.7 356.2 579.8 352.0 580.0 356.9 580.1 355.5 580.2 356.4 580.4 358.7 580.5 360.7 580.6 362.5 580.8 361.8 580.9 361.1 581.0 357.9 581.2 360.0 581.3 361.4 581.4 360.3 581.6 362.7 581.7 361.3 581.8 365.2 582.0 361.7 582.1 359.8 582.2 361.3 582.4 361.1 582.5 363.9 582.6 365.4 582.8 364.8 582.9 365.0 583.0 361.9 583.2 361.3 583.3 361.9 583.4 363.6 583.6 363.0 583.7 364.3 583.8 365.8 584.0 364.1 584.1 367.2 584.2 362.5 584.4 365.2 584.5 363.9 584.6 365.9 584.7 363.8 584.9 362.7 585.0 363.2 585.1 361.5 585.3 360.8 585.4 364.1 585.5 361.2 585.7 364.6 585.8 367.2 585.9 361.9 586.1 364.7 586.2 363.3 586.3 360.4 586.5 364.3 586.6 367.6 586.7 362.9 586.9 365.1 587.0 365.1 587.1 362.6 587.3 366.1 587.4 364.6 587.5 365.7 587.7 364.3 587.8 361.2 587.9 363.8 588.1 364.5 588.2 362.5 588.3 363.8 588.5 363.5 588.6 358.2 588.7 363.1 588.9 357.9 589.0 359.0 589.1 360.8 589.3 358.7 589.4 358.5 589.5 361.4 589.7 356.5 589.8 359.8 589.9 360.0 590.1 358.3 590.2 352.8 590.3 351.2 590.5 353.2 590.6 355.9 590.7 350.8 590.9 349.1 591.0 348.6 591.1 348.7 591.3 347.9 591.4 344.2 591.5 342.3 591.7 341.5 591.8 338.9 591.9 336.3 592.1 332.4 592.2 333.6 592.3 330.8 M594.2 331.4 594.3 332.4 594.4 332.4 594.6 334.8 594.7 340.2 594.8 340.5 595.0 339.6 595.1 343.2 595.2 343.7 595.4 345.2 595.5 345.7 595.6 350.6 595.8 354.7 595.9 353.6 596.0 351.0 596.2 355.6 596.3 353.2 596.4 357.5 596.6 360.3 596.7 362.3 596.8 361.0 597.0 362.8 597.1 363.0 597.2 363.7 597.4 367.8 597.5 363.8 597.6 363.3 597.8 370.1 597.9 371.5 598.0 364.5 598.2 370.4 598.3 369.4 598.4 366.7 598.6 366.1 598.7 368.2 598.8 367.2 599.0 369.3 599.1 366.5 599.2 370.0 599.4 366.6 599.5 371.0 599.6 369.7 599.7 370.3 599.9 367.5 600.0 367.9 600.1 368.3 600.3 370.8 600.4 367.3 600.5 367.1 600.7 368.2 600.8 369.6 600.9 368.4 601.1 368.3 601.2 365.8 601.3 367.0 601.5 366.0 601.6 370.0 601.7 367.8 601.9 369.2 602.0 365.4 602.1 368.0 602.3 369.0 602.4 366.4 602.5 367.4 602.7 367.9 602.8 369.4 602.9 369.9 603.1 366.9 603.2 370.5 603.3 370.4 603.5 370.6 603.6 368.5 603.7 370.0 603.9 372.7 604.0 372.4 604.1 369.0 604.3 373.3 604.4 369.3 604.5 368.3 604.7 372.1 604.8 370.4 604.9 376.2 605.1 368.9 605.2 369.4 605.3 370.4 605.5 369.3 605.6 367.9 605.7 368.7 605.9 368.6 606.0 368.6 606.1 368.7 606.3 365.8 606.4 370.6 606.5 367.8 606.7 368.7 606.8 368.0 606.9 369.5 607.1 372.4 607.2 373.5 607.3 372.3 607.4 372.6 607.6 371.6 607.7 372.4 607.8 373.5 608.0 372.6 608.1 370.8 608.2 372.6 608.4 370.2 608.5 378.1 608.6 372.5 608.8 370.7 608.9 372.8 609.0 370.4 609.2 371.5 609.3 375.1 609.4 374.7 609.6 369.9 609.7 370.2 609.8 371.4 610.0 376.9 610.1 372.5 610.2 372.8 610.4 370.6 610.5 374.5 610.6 373.6 610.8 368.0 610.9 369.5 611.0 367.3 611.2 367.3 611.3 369.0 611.4 368.0 611.6 369.5 611.7 372.4 611.8 373.6 612.0 372.1 612.1 373.7 612.2 370.0 612.4 376.0 612.5 377.9 612.6 373.1 612.8 374.8 612.9 374.7 613.0 369.3 613.2 375.5 613.3 374.3 613.4 370.1 613.6 372.4 613.7 375.5 613.8 374.3 614.0 370.4 614.1 371.9 614.2 371.5 614.4 373.0 614.5 371.2 614.6 372.5 614.8 372.0 614.9 369.4 615.0 373.2 615.1 373.0 615.3 370.6 615.4 374.3 615.5 377.6 615.7 370.2 615.8 373.9 615.9 375.2 616.1 373.7 616.2 372.5 616.3 377.9 616.5 371.9 616.6 372.9 616.7 371.6 616.9 375.1 617.0 368.2 617.1 370.5 617.3 371.3 617.4 372.8 617.5 373.0 617.7 375.3 617.8 372.1 617.9 371.2 618.1 372.7 618.2 371.2 618.3 371.9 618.5 372.0 618.6 373.4 618.7 374.3 618.9 370.2 619.0 371.0 619.1 371.8 619.3 371.6 619.4 371.0 619.5 372.6 619.7 371.2 619.8 368.4 619.9 375.0 620.1 370.4 620.2 376.8 620.3 374.6 620.5 375.2 620.6 372.0 620.7 375.6 620.9 374.6 621.0 373.3 621.1 375.8 621.3 376.1 621.4 376.8 621.5 371.9 621.7 372.7 621.8 377.0 621.9 375.3 622.1 375.8 622.2 373.0 622.3 374.5 622.5 375.2 622.6 370.9 622.7 371.6 622.8 373.1 623.0 375.1 623.1 371.2 623.2 373.2 623.4 369.1 623.5 369.0 623.6 372.4 623.8 367.9 623.9 370.7 624.0 369.4 624.2 371.5 624.3 368.2 624.4 368.3 624.6 367.4 624.7 371.9 624.8 375.5 625.0 375.3 625.1 374.8 625.2 374.8 625.4 378.1 625.5 376.0 625.6 378.7 625.8 379.7 625.9 378.5 626.0 377.9 626.2 377.7 626.3 376.4 626.4 376.6 626.6 373.7 626.7 373.1 626.8 377.2 627.0 373.4 627.1 369.9 627.2 375.7 627.4 375.6 627.5 373.9 627.6 370.8 627.8 377.3 627.9 375.9 628.0 376.5 628.2 373.9 628.3 375.4 628.4 374.2 628.6 374.3 628.7 371.4 628.8 373.2 629.0 373.7 629.1 374.8 629.2 377.7 629.4 375.9 629.5 371.2 629.6 377.8 629.8 371.8 629.9 375.6 630.0 374.2 630.1 374.7 630.3 373.5 630.4 372.3 630.5 379.2 630.7 369.7 630.8 372.8 630.9 377.4 631.1 374.9 631.2 375.2 631.3 373.6 631.5 373.2 631.6 376.7 631.7 375.1 631.9 375.9 632.0 377.2 632.1 371.2 632.3 372.1 632.4 372.5 632.5 373.9 632.7 375.2 632.8 371.0 632.9 372.5 633.1 372.8 633.2 373.0 633.3 376.6 633.5 372.4 633.6 374.6 633.7 370.1 633.9 374.8 634.0 375.6 634.1 377.0 634.3 374.7 634.4 374.7 634.5 373.4 634.7 374.8 634.8 380.5 634.9 372.3 635.1 372.3 635.2 375.8 635.3 373.6 635.5 377.9 635.6 372.3 635.7 378.6 635.9 374.4 636.0 372.0 636.1 370.9 636.3 373.4 636.4 373.8 636.5 375.5 636.7 371.9 636.8 380.4 636.9 375.7 637.1 373.6 637.2 373.0 637.3 379.7 637.5 373.1 637.6 376.6 637.7 378.4 637.8 373.8 638.0 377.1 638.1 375.0 638.2 378.9 638.4 379.0 638.5 377.2 638.6 376.4 638.8 373.6 638.9 381.0 639.0 379.2 639.2 378.3 639.3 379.2 639.4 376.1 639.6 372.5 639.7 377.6 639.8 372.5 640.0 374.0 640.1 376.3 640.2 371.5 640.4 374.6 640.5 373.9 640.6 372.1 640.8 372.1 640.9 374.2 641.0 374.1 641.2 375.1 641.3 371.8 641.4 375.2 641.6 372.4 641.7 373.3 641.8 376.9 642.0 373.5 642.1 373.8 642.2 373.1 642.4 374.6 642.5 376.2 642.6 373.7 642.8 375.6 642.9 371.5 643.0 374.9 643.2 373.6 643.3 374.0 643.4 371.9 643.6 372.6 643.7 374.7 643.8 372.2 644.0 376.7 644.1 374.4 644.2 377.3 644.4 374.6 644.5 373.9 644.6 378.7 644.8 378.8 644.9 377.2 645.0 378.4 645.2 376.8 645.3 377.9 645.4 376.8 645.5 374.4 645.7 378.7 645.8 374.6 645.9 381.2 646.1 376.5 646.2 375.1 646.3 376.7 646.5 377.4 646.6 377.7 646.7 378.7 646.9 376.5 647.0 373.6 647.1 376.0 647.3 378.6 647.4 379.9 647.5 373.6 647.7 377.8 647.8 379.9 647.9 374.8 648.1 381.2 648.2 376.4 648.3 377.9 648.5 377.3 648.6 382.1 648.7 380.5 648.9 379.0 649.0 378.0 649.1 375.2 649.3 377.8 649.4 376.9 649.5 377.6 649.7 373.7 649.8 379.9 649.9 379.0 650.1 380.3 650.2 375.9 650.3 377.0 650.5 374.6 650.6 379.1 650.7 377.0 650.9 382.8 651.0 379.4 651.1 379.7 651.3 379.4 651.4 375.3 651.5 379.7 651.7 374.7 651.8 378.3 651.9 378.5 652.1 374.6 652.2 375.5 652.3 376.3 652.5 377.2 652.6 377.4 652.7 377.1 652.8 375.5 653.0 378.1 653.1 382.9 653.2 376.8 653.4 381.4 653.5 375.9 653.6 377.2 653.8 381.5 653.9 380.7 654.0 382.4 654.2 380.5 654.3 378.0 654.4 379.4 654.6 378.1 654.7 381.9 654.8 379.6 655.0 380.5 655.1 376.1 655.2 376.6 655.4 376.0 655.5 375.9 655.6 376.1 655.8 378.9 655.9 376.6 656.0 378.7 656.2 376.8 656.3 372.8 656.4 373.7 656.6 376.4 656.7 379.4 656.8 377.3 657.0 374.5 657.1 378.0 657.2 377.4 657.4 379.1 657.5 379.6 657.6 378.7 657.8 376.4 657.9 375.5 658.0 376.8 658.2 377.3 658.3 378.2 658.4 376.5 658.6 376.3 658.7 378.7 658.8 379.6 659.0 378.8 659.1 376.4 659.2 378.1 659.4 383.4 659.5 377.0 659.6 378.5 659.8 381.2 659.9 377.3 660.0 378.1 660.2 381.5 660.3 380.5 660.4 374.4 660.5 378.8 660.7 376.4 660.8 373.7 660.9 378.3 661.1 374.8 661.2 375.7 661.3 374.1 661.5 377.6 661.6 378.1 661.7 378.2 661.9 381.8 662.0 379.0 662.1 376.6 662.3 378.4 662.4 378.0 662.5 378.9 662.7 372.6 662.8 379.3 662.9 384.0 663.1 379.8 663.2 376.9 663.3 382.8 663.5 380.2 663.6 383.0 663.7 381.0 663.9 378.5 664.0 375.8 664.1 379.5 664.3 380.4 664.4 378.5 664.5 376.5 664.7 380.9 664.8 377.5 664.9 381.9 665.1 377.7 665.2 379.5 665.3 378.0 665.5 379.3 665.6 379.4 665.7 373.9 665.9 376.3 666.0 376.9 666.1 376.9 666.3 378.0 666.4 380.6 666.5 376.4 666.7 379.7 666.8 377.8 666.9 377.3 667.1 375.7 667.2 377.1 667.3 376.5 667.5 379.6 667.6 381.9 667.7 380.0 667.9 380.6 668.0 377.6 668.1 380.8 668.2 377.8 668.4 377.8 668.5 380.3 668.6 378.5 668.8 381.2 668.9 380.4 669.0 379.7 669.2 379.2 669.3 381.0 669.4 381.3 669.6 381.1 669.7 383.4 669.8 379.7 670.0 377.4 670.1 378.8 670.2 379.6 670.4 379.7 670.5 381.2 670.6 384.7 670.8 379.1 670.9 379.2 671.0 379.6 671.2 378.4 671.3 378.6 671.4 381.4 671.6 382.3 671.7 378.1 671.8 379.2 672.0 381.1 672.1 379.6 672.2 378.4 672.4 379.2 672.5 377.9 672.6 376.5 672.8 378.6 672.9 375.5 673.0 376.0 673.2 377.3 673.3 374.1 673.4 377.6 673.6 374.5 673.7 373.7 673.8 376.7 674.0 376.8 674.1 377.5 674.2 378.4 674.4 374.0 674.5 375.8 674.6 374.6 674.8 375.7 674.9 379.3 675.0 378.5 675.2 378.6 675.3 379.1 675.4 377.6 675.6 381.1 675.7 376.7 675.8 380.1 675.9 377.6 676.1 376.9 676.2 384.9 676.3 377.9 676.5 380.0 676.6 376.9 676.7 376.9 676.9 380.7 677.0 379.5 677.1 378.2 677.3 378.9 677.4 379.1 677.5 379.6 677.7 379.0 677.8 379.6 677.9 379.1 678.1 379.0 678.2 381.1 678.3 374.6 678.5 380.7 678.6 379.1 678.7 379.4 678.9 378.4 679.0 376.9 679.1 380.2 679.3 376.7 679.4 377.3 679.5 377.6 679.7 383.3 679.8 380.4 679.9 380.7 680.1 378.1 680.2 381.1 680.3 382.6 680.5 378.4 680.6 380.3 680.7 380.1 680.9 380.4 681.0 380.7 681.1 382.3 681.3 378.1 681.4 378.1 681.5 376.8 681.7 380.2 681.8 378.4 681.9 379.8 682.1 380.6 682.2 379.2 682.3 379.3 682.5 380.2 682.6 380.3 682.7 380.1 682.9 379.7 683.0 379.9 683.1 382.4 683.2 379.0 683.4 380.6 683.5 380.9 683.6 383.5 683.8 380.8 683.9 381.8 684.0 381.5 684.2 384.3 684.3 384.0 684.4 383.5 684.6 382.6 684.7 388.8 684.8 382.6 685.0 377.5 685.1 378.2 685.2 378.2 685.4 380.0 685.5 377.9 685.6 381.1 685.8 377.1 685.9 381.7 686.0 380.9 686.2 383.6 686.3 383.2 686.4 381.2 686.6 388.7 686.7 381.0 686.8 382.1 687.0 380.1 687.1 384.6 687.2 384.2 687.4 381.7 687.5 376.6 687.6 382.8 687.8 384.5 687.9 379.0 688.0 381.7 688.2 382.5 688.3 380.9 688.4 378.6 688.6 380.5 688.7 379.9 688.8 382.5 689.0 378.0 689.1 383.3 689.2 382.1 689.4 379.0 689.5 380.4 689.6 384.3 689.8 385.4 689.9 384.6 690.0 388.7 690.2 383.0 690.3 380.0 690.4 382.2 690.6 380.4 690.7 374.3 690.8 383.6 690.9 379.3 691.1 378.3 691.2 384.8 691.3 379.8 691.5 379.4 691.6 382.9 691.7 384.9 691.9 377.4 692.0 379.1 692.1 379.4 692.3 383.0 692.4 382.0 692.5 383.9 692.7 378.8 692.8 381.6 692.9 385.0 693.1 378.4 693.2 384.4 693.3 380.5 693.5 382.7 693.6 379.8 693.7 383.0 693.9 383.1 694.0 380.9 694.1 384.3 694.3 378.7 694.4 382.7 694.5 378.3 694.7 383.7 694.8 382.7 694.9 379.7 695.1 384.7 695.2 381.5 695.3 379.1 695.5 381.4 695.6 384.1 695.7 382.4 695.9 384.2 696.0 385.2 696.1 383.8 696.3 383.1 696.4 382.2 696.5 382.5 696.7 384.3 696.8 379.9 696.9 380.5 697.1 382.4 697.2 378.5 697.3 382.4 697.5 380.2 697.6 381.1 697.7 378.8 697.9 379.7 698.0 382.9 698.1 378.5 698.3 383.2 698.4 383.9 698.5 382.2 698.6 378.3 698.8 380.2 698.9 383.3 699.0 384.6 699.2 379.5 699.3 382.9 699.4 382.5 699.6 378.8 699.7 382.2 699.8 380.4 700.0 377.6 700.1 386.2 700.2 381.4 700.4 380.5 700.5 379.5 700.6 388.1 700.8 386.4 700.9 385.6 701.0 382.7 701.2 385.0 701.3 384.0 701.4 385.1 701.6 380.2 701.7 384.4 701.8 384.7 702.0 380.7 702.1 380.6 702.2 382.4 702.4 380.1 702.5 382.6 702.6 383.0 702.8 386.8 702.9 382.2 703.0 383.6 703.2 388.9 703.3 381.3 703.4 386.9 703.6 383.7 703.7 385.6 703.8 384.0 704.0 384.9 704.1 376.2 704.2 381.2 704.4 377.8 704.5 381.3 704.6 380.2 704.8 381.5 704.9 384.6 705.0 382.1 705.2 381.7 705.3 382.2 705.4 380.4 705.6 385.7 705.7 382.6 705.8 381.6 705.9 384.4 706.1 381.4 706.2 381.4 706.3 380.8 706.5 379.9 706.6 380.4 706.7 385.3 706.9 381.9 707.0 382.6 707.1 384.8 707.3 382.0 707.4 380.1 707.5 380.2 707.7 380.8 707.8 383.6 707.9 380.1 708.1 379.8 708.2 382.3 708.3 380.6 708.5 380.5 708.6 380.8 708.7 383.8 708.9 379.4 709.0 379.7 709.1 384.8 709.3 379.7 709.4 378.5 709.5 384.5 709.7 382.2 709.8 383.7 709.9 384.3 710.1 382.0 710.2 385.6 710.3 382.2 710.5 386.4 710.6 388.0 710.7 382.8 710.9 386.2 711.0 384.0 711.1 387.0 711.3 382.9 711.4 378.8 711.5 378.5 711.7 384.0 711.8 381.3 711.9 383.1 712.1 380.2 712.2 381.5 712.3 378.2 712.5 383.7 712.6 384.5 712.7 381.1 712.9 383.9 713.0 380.5 713.1 382.2 713.3 380.0 713.4 378.6 713.5 380.7 713.6 375.5 713.8 382.5 713.9 375.1 714.0 373.9 714.2 377.9 714.3 374.7 714.4 377.5 714.6 371.4 714.7 377.9 714.8 376.8 715.0 371.4 715.1 376.7 715.2 371.1 715.4 371.1 715.5 369.1 715.6 370.0 715.8 369.5 715.9 367.7 716.0 368.0 716.2 367.2 716.3 367.7 716.4 364.3 716.6 366.3 716.7 365.4 716.8 368.2 717.0 369.0 717.1 369.3 717.2 369.4 717.4 375.1 717.5 370.3 717.6 373.8 717.8 372.4 717.9 376.7 718.0 376.5 718.2 375.4 718.3 376.3 718.4 373.6 718.6 372.6 718.7 377.8 718.8 376.7 719.0 373.9 719.1 377.2 719.2 375.3 719.4 375.5 719.5 378.8 719.6 379.5 719.8 379.2 719.9 379.4 720.0 378.7 720.2 380.8 720.3 381.3 720.4 380.7 720.6 386.7 720.7 381.3 720.8 382.3 721.0 380.5 721.1 381.8 721.2 382.4 721.3 384.1 721.5 376.2 721.6 384.6 721.7 383.5 721.9 382.8 722.0 380.0 722.1 378.4 722.3 379.7 722.4 383.5 722.5 383.5 722.7 382.3 722.8 384.0 722.9 380.6 723.1 380.3 723.2 385.2 723.3 384.8 723.5 383.9 723.6 384.3 723.7 381.7 723.9 376.8 724.0 380.8 724.1 383.5 724.3 380.5 724.4 382.4 724.5 382.2 724.7 378.9 724.8 381.9 724.9 381.0 725.1 377.9 725.2 383.3 725.3 379.1 725.5 382.5 725.6 382.9 725.7 380.4 725.9 380.3 726.0 383.2 726.1 382.8 726.3 384.9 726.4 382.7 726.5 383.3 726.7 382.5 726.8 384.0 726.9 379.8 727.1 377.8 727.2 382.5 727.3 380.9 727.5 379.9 727.6 384.7 727.7 376.8 727.9 380.7 728.0 383.3 728.1 381.1 728.3 380.7 728.4 382.3 728.5 380.8 728.7 378.0 728.8 378.6 728.9 382.7 729.0 382.5 729.2 377.4 729.3 381.5 729.4 382.2 729.6 382.1 729.7 383.6 729.8 383.6 730.0 380.4 730.1 380.0 730.2 382.1 730.4 378.6 730.5 378.0 730.6 383.6 730.8 384.7 730.9 384.0 731.0 383.8 731.2 380.1 731.3 379.1 731.4 382.2 731.6 386.8 731.7 382.6 731.8 383.4 732.0 381.2 732.1 385.5 732.2 378.8 732.4 386.1 732.5 382.8 732.6 377.4 732.8 383.3 732.9 384.5 733.0 384.6 733.2 384.5 733.3 382.7 733.4 383.1 733.6 384.0 733.7 381.9 733.8 387.3 734.0 381.2 734.1 383.9 734.2 382.8 734.4 380.2 734.5 386.0 734.6 383.6 734.8 381.6 734.9 381.3 735.0 382.8 735.2 386.9 735.3 384.5 735.4 382.5 735.6 385.1 735.7 383.6 735.8 386.5 736.0 386.4 736.1 387.1 736.2 386.1 736.3 385.4 736.5 382.2 736.6 385.1 736.7 386.6 736.9 380.9 737.0 385.6 737.1 382.3 737.3 382.1 737.4 382.2 737.5 385.0 737.7 383.7 737.8 384.1 737.9 380.7 738.1 387.1 738.2 381.9 738.3 386.7 738.5 386.6 738.6 385.6 738.7 381.6 738.9 384.4 739.0 382.8 739.1 387.8 739.3 385.2 739.4 385.6 739.5 385.3 739.7 385.8 739.8 387.1 739.9 389.4 740.1 386.5 740.2 387.5 740.3 386.2 740.5 385.6 740.6 382.1 740.7 383.6 740.9 382.9 741.0 385.3 741.1 377.9 741.3 379.4 741.4 383.0 741.5 384.9 741.7 383.4 741.8 383.9 741.9 385.5 742.1 386.9 742.2 387.4 742.3 385.1 742.5 386.2 742.6 383.3 742.7 382.3 742.9 385.6 743.0 387.6 743.1 385.5 743.3 378.4 743.4 386.1 743.5 387.6 743.7 384.9 743.8 382.6 743.9 381.3 744.0 380.7 744.2 386.2 744.3 382.7 744.4 383.0 744.6 383.3 744.7 383.6 744.8 384.8 745.0 383.3 745.1 384.9 745.2 383.1 745.4 382.5 745.5 380.4 745.6 384.3 745.8 386.7 745.9 385.3 746.0 386.5 746.2 383.6 746.3 383.1 746.4 383.4 746.6 383.0 746.7 387.3 746.8 388.4 747.0 384.5 747.1 387.0 747.2 383.1 747.4 386.6 747.5 387.5 747.6 384.0 747.8 388.2 747.9 384.5 748.0 385.8 748.2 388.5 748.3 381.6 748.4 385.6 748.6 383.8 748.7 387.1 748.8 383.8 749.0 383.3 749.1 384.6 749.2 387.3 749.4 382.5 749.5 381.9 749.6 382.4 749.8 386.2 749.9 380.7 750.0 382.2 750.2 383.4 750.3 383.1 750.4 384.8 750.6 383.9 750.7 381.4 750.8 390.6 751.0 388.2 751.1 385.7 751.2 385.0 751.4 384.7 751.5 382.2 751.6 383.7 751.7 386.5 751.9 386.8 752.0 389.3 752.1 386.4 752.3 385.2 752.4 388.4 752.5 387.7 752.7 383.6 752.8 384.6 752.9 387.8 753.1 384.1 753.2 385.7 753.3 383.2 753.5 387.3 753.6 389.1 753.7 380.2 753.9 382.0 754.0 385.3 754.1 384.1 754.3 383.1 754.4 380.4 754.5 379.3 754.7 382.1 754.8 385.1 754.9 385.3 755.1 388.4 755.2 380.0 755.3 384.3 755.5 384.7 755.6 388.5 755.7 383.3 755.9 388.0 756.0 382.0 756.1 387.8 756.3 383.7 756.4 383.5 756.5 386.4 756.7 384.4 756.8 385.7 756.9 384.7 757.1 383.1 757.2 386.5 757.3 384.4 757.5 383.8 757.6 384.1 757.7 382.0 757.9 383.7 758.0 387.5 758.1 387.5 758.3 386.9 758.4 389.9 758.5 387.0 758.7 386.9 758.8 387.7 758.9 386.9 759.0 388.4 759.2 384.6 759.3 385.8 759.4 385.5 759.6 384.8 759.7 385.5 759.8 387.8 760.0 389.2 760.1 386.3 760.2 386.3 760.4 387.1 760.5 388.4 760.6 387.1 760.8 388.9 760.9 389.1 761.0 387.2 761.2 383.4 761.3 383.7 761.4 383.8 761.6 383.8 761.7 387.3 761.8 384.1 762.0 386.9 762.1 385.1 762.2 384.3 762.4 388.7 762.5 383.0 762.6 390.4 762.8 382.9 762.9 386.8 763.0 386.2 763.2 386.1 763.3 385.3 763.4 383.4 763.6 384.8 763.7 388.2 763.8 387.4 764.0 390.2 764.1 388.0 764.2 387.0 764.4 386.3 764.5 385.6 764.6 388.8 764.8 385.2 764.9 385.3 765.0 384.6 765.2 387.2 765.3 392.9 765.4 385.6 765.6 382.8 765.7 385.0 765.8 388.6 766.0 386.2 766.1 386.1 766.2 388.8 766.4 387.2 766.5 385.5 766.6 388.7 766.7 384.9 766.9 386.5 767.0 390.4 767.1 381.3 767.3 389.2 767.4 381.5 767.5 385.7 767.7 380.4 767.8 384.1 767.9 382.9 768.1 383.0 768.2 382.5 768.3 387.5 768.5 386.4 768.6 381.0 768.7 380.7 768.9 384.2 769.0 381.6 769.1 388.9 769.3 387.8 769.4 386.2 769.5 381.2 769.7 382.8 769.8 387.2 769.9 383.2 770.1 386.8 770.2 385.5 770.3 387.5 770.5 385.5 770.6 385.6 770.7 381.7 770.9 385.6 771.0 384.2 771.1 387.7 771.3 383.2 771.4 388.2 771.5 388.6 771.7 388.6 771.8 383.2 771.9 383.7 772.1 386.7 772.2 386.5 772.3 385.2 772.5 385.5 772.6 383.6 772.7 383.7 772.9 383.6 773.0 384.8 773.1 385.9 773.3 385.6 773.4 384.5 773.5 388.9 773.7 387.2 773.8 384.7 773.9 392.5 774.1 381.3 774.2 387.9 774.3 387.1 774.4 385.0 774.6 384.0 774.7 386.0 774.8 388.5 775.0 389.2 775.1 388.1 775.2 387.1 775.4 386.9 775.5 388.8 775.6 387.2 775.8 387.4 775.9 389.8 776.0 385.7 776.2 387.4 776.3 386.4 776.4 384.7 776.6 391.0 776.7 384.3 776.8 385.6 777.0 384.6 777.1 387.6 777.2 388.2 777.4 390.8 777.5 391.1 777.6 393.1 777.8 389.2 777.9 390.3 778.0 387.5 778.2 385.6 778.3 390.0 778.4 385.2 778.6 387.9 778.7 389.3 778.8 385.8 779.0 388.6 779.1 385.7 779.2 385.5 779.4 387.2 779.5 391.9 779.6 383.6 779.8 387.1 779.9 384.6 780.0 387.7 780.2 388.5 780.3 384.7 780.4 385.6 780.6 389.9 780.7 388.9 780.8 386.6 781.0 387.9 781.1 390.7 781.2 389.4 781.4 383.0 781.5 386.2 781.6 390.9 781.8 386.5 781.9 386.3 782.0 387.5 782.1 387.8 782.3 387.4 782.4 387.5 782.5 384.8 782.7 387.3 782.8 388.0 782.9 386.6 783.1 386.1 783.2 385.1 783.3 387.0 783.5 384.0 783.6 385.5 783.7 385.9 783.9 381.3 784.0 386.4 784.1 382.4 784.3 382.7 784.4 383.5 784.5 384.5 784.7 384.8 784.8 386.5 784.9 383.1 785.1 384.7 785.2 386.6 785.3 384.8 785.5 384.7 785.6 387.2 785.7 388.2 785.9 388.2 786.0 384.5 786.1 387.8 786.3 387.5 786.4 391.3 786.5 387.7 786.7 387.3 786.8 390.8 786.9 386.3 787.1 390.3 787.2 390.1 787.3 387.0 787.5 387.3 787.6 387.5 787.7 390.1 787.9 385.3 788.0 383.3 788.1 385.0 788.3 383.4 788.4 381.2 788.5 382.8 788.7 383.7 788.8 385.6 788.9 384.6 789.1 384.9 789.2 383.0 789.3 386.7 789.4 383.5 789.6 383.8 789.7 384.7 789.8 384.3 790.0 386.5 790.1 388.0 790.2 387.0 790.4 386.3 790.5 387.8 790.6 386.3 790.8 389.4 790.9 390.4 791.0 386.6 791.2 386.3 791.3 388.9 791.4 391.5 791.6 386.4 791.7 389.8 791.8 388.4 792.0 385.8 792.1 387.9 792.2 389.0 792.4 387.6 792.5 392.7 792.6 383.9 792.8 387.9 792.9 388.0 793.0 387.7 793.2 387.9 793.3 389.4 793.4 390.8 793.6 389.2 793.7 390.1 793.8 388.1 794.0 386.0 794.1 386.5 794.2 390.4 794.4 386.5 794.5 386.7 794.6 388.4 794.8 388.8 794.9 387.5 795.0 389.3 795.2 390.4 795.3 390.7 795.4 387.5 795.6 384.0 795.7 384.4 795.8 384.1 796.0 386.7 796.1 388.3 796.2 387.0 796.4 387.1 796.5 391.2 796.6 382.1 796.8 387.1 796.9 384.2 797.0 383.0 797.1 383.5 797.3 384.0 797.4 389.1 797.5 386.3 797.7 388.8 797.8 383.5 797.9 389.8 798.1 388.4 798.2 389.1 798.3 385.3 798.5 388.5 798.6 387.7 798.7 387.0 798.9 387.6 799.0 388.1 799.1 388.5 799.3 386.1 799.4 390.4 799.5 385.3 799.7 385.9 799.8 384.4 799.9 382.2 800.1 391.7 800.2 391.8 800.3 387.1 800.5 386.9 800.6 386.4 800.7 388.5 800.9 388.3 801.0 386.0 801.1 388.1 801.3 385.0 801.4 387.1 801.5 389.6 801.7 388.2 801.8 386.7 801.9 385.1 802.1 389.5 802.2 384.6 802.3 380.4 802.5 384.4 802.6 380.3 802.7 385.3 802.9 385.1 803.0 388.8 803.1 390.1 803.3 385.0 803.4 385.2 803.5 387.0 803.7 383.2 803.8 383.7 803.9 388.6 804.1 382.5 804.2 386.5 804.3 391.7 804.5 386.0 804.6 391.3 804.7 384.6 804.8 385.7 805.0 390.5 805.1 389.0 805.2 387.4 805.4 386.9 805.5 389.2 805.6 390.6 805.8 383.9 805.9 385.2 806.0 387.8 806.2 384.9 806.3 387.3 806.4 383.1 806.6 388.1 806.7 386.8 806.8 385.9 807.0 386.3 807.1 389.3 807.2 383.7 807.4 387.1 807.5 385.0 807.6 385.2 807.8 390.4 807.9 388.6 808.0 388.4 808.2 389.7 808.3 387.4 808.4 391.3 808.6 388.0 808.7 390.4 808.8 389.3 809.0 391.2 809.1 387.3 809.2 390.8 809.4 390.7 809.5 389.3 809.6 386.9 809.8 385.7 809.9 386.6 810.0 387.8 810.2 385.7 810.3 382.9 810.4 387.6 810.6 387.2 810.7 385.3 810.8 383.5 811.0 385.1 811.1 385.4 811.2 385.1 811.4 386.8 811.5 382.1 811.6 386.2 811.8 385.3 811.9 387.7 812.0 383.9 812.1 385.4 812.3 384.9 812.4 379.2 812.5 390.4 812.7 385.0 812.8 386.6 812.9 385.8 813.1 385.2 813.2 385.4 813.3 381.4 813.5 386.3 813.6 384.3 813.7 384.9 813.9 388.9 814.0 385.3 814.1 389.2 814.3 388.9 814.4 386.1 814.5 386.0 814.7 382.5 814.8 389.3 814.9 388.2 815.1 384.2 815.2 384.7 815.3 381.4 815.5 387.4 815.6 385.6 815.7 385.9 815.9 385.0 816.0 385.8 816.1 385.9 816.3 386.1 816.4 386.5 816.5 386.7 816.7 392.1 816.8 393.6 816.9 384.5 817.1 388.6 817.2 387.3 817.3 387.0 817.5 389.6 817.6 380.6 817.7 389.7 817.9 382.5 818.0 386.6 818.1 384.9 818.3 384.1 818.4 385.3 818.5 383.1 818.7 389.4 818.8 380.3 818.9 382.7 819.1 386.1 819.2 387.2 819.3 390.6 819.5 387.9 819.6 386.1 819.7 387.6 819.8 387.3 820.0 388.2 820.1 389.9 820.2 388.0 820.4 387.0 820.5 389.5 820.6 385.8 820.8 387.5 820.9 388.2 821.0 385.9 821.2 389.5 821.3 386.7 821.4 390.9 821.6 386.5 821.7 385.3 821.8 384.3 822.0 386.9 822.1 388.0 822.2 383.3 822.4 382.5 822.5 383.7 822.6 386.5 822.8 386.5 822.9 384.5 823.0 385.6 823.2 386.4 823.3 387.5 823.4 384.0 823.6 382.6 823.7 385.4 823.8 390.1 824.0 385.2 824.1 385.4 824.2 386.7 824.4 382.8 824.5 388.0 824.6 384.9 824.8 382.9 824.9 386.5 825.0 386.7 825.2 389.3 825.3 388.2 825.4 386.0 825.6 388.8 825.7 388.4 825.8 390.4 826.0 384.7 826.1 386.5 826.2 384.5 826.4 386.5 826.5 389.0 826.6 388.1 826.8 385.4 826.9 380.9 827.0 384.5 827.2 385.0 827.3 386.7 827.4 388.5 827.5 388.3 827.7 386.9 827.8 388.5 827.9 384.9 828.1 385.5 828.2 390.3 828.3 388.3 828.5 389.7 828.6 389.4 828.7 388.9 828.9 386.9 829.0 388.9 829.1 387.0 829.3 388.9 829.4 389.3 829.5 387.1 829.7 391.8 829.8 388.2 829.9 391.3 830.1 386.0 830.2 390.2 830.3 384.4 830.5 385.9 830.6 384.3 830.7 386.5 830.9 386.9 831.0 385.4 831.1 391.1 831.3 388.3 831.4 384.2 831.5 386.7 831.7 386.4 831.8 387.8 831.9 387.3 832.1 384.5 832.2 391.5 832.3 390.1 832.5 388.8 832.6 389.9 832.7 388.1 832.9 385.7 833.0 384.7 833.1 388.4 833.3 385.2 833.4 386.1 833.5 384.3 833.7 387.9 833.8 385.5 833.9 386.6 834.1 385.0 834.2 383.1 834.3 386.9 834.5 384.6 834.6 382.7 834.7 385.8 834.9 386.5 835.0 387.6 835.1 385.6 835.2 384.7 835.4 386.4 835.5 383.1 835.6 385.1 835.8 385.8 835.9 382.5 836.0 387.7 836.2 389.0 836.3 387.0 836.4 390.4 836.6 386.2 836.7 390.7 836.8 391.0 837.0 387.8 837.1 389.0 837.2 387.7 837.4 385.9 837.5 385.0 837.6 385.0 837.8 387.6 837.9 383.0 838.0 385.7 838.2 391.0 838.3 387.2 838.4 386.2 838.6 384.3 838.7 381.0 838.8 387.8 839.0 388.3 839.1 386.0 839.2 384.7 839.4 386.6 839.5 385.0 839.6 388.8 839.8 386.6 839.9 388.3 840.0 384.7 840.2 383.3 840.3 381.1 840.4 386.7 840.6 382.9 840.7 388.4 840.8 385.8 841.0 385.8 841.1 381.9 841.2 387.5 841.4 387.4 841.5 390.6 841.6 385.5 841.8 386.9 841.9 387.2 842.0 387.9 842.2 388.4 842.3 387.1 842.4 387.7 842.5 388.4 842.7 390.0 842.8 389.1 842.9 387.9 843.1 386.9 843.2 386.4 843.3 389.0 843.5 385.4 843.6 385.2 843.7 387.3 843.9 386.4 844.0 387.1 844.1 389.1 844.3 388.0 844.4 389.2 844.5 389.6 844.7 389.1 844.8 387.7 844.9 390.8 845.1 389.6 845.2 388.1 845.3 386.9 845.5 388.4 845.6 391.8 845.7 387.5 845.9 388.6 846.0 385.7 846.1 384.8 846.3 388.9 846.4 387.4 846.5 384.6 846.7 389.5 846.8 386.9 846.9 389.5 847.1 389.7 847.2 387.0 847.3 385.4 847.5 389.9 847.6 391.8 847.7 388.0 847.9 384.4 848.0 386.9 848.1 389.2 848.3 384.4 848.4 386.8 848.5 386.6 848.7 387.5 848.8 392.9 848.9 388.9 849.1 391.9 849.2 388.8 849.3 388.2 849.5 387.6 849.6 387.7 849.7 390.3 849.9 389.2 850.0 388.3 850.1 388.4 850.2 383.4 850.4 384.0 850.5 382.0 850.6 383.2 850.8 386.7 850.9 382.4 851.0 382.5 851.2 383.5 851.3 382.4 851.4 385.8 851.6 387.4 851.7 389.2 851.8 387.2 852.0 388.2 852.1 390.5 852.2 385.8 852.4 385.6 852.5 387.4 852.6 386.7 852.8 386.0 852.9 386.3 853.0 385.2 853.2 384.3 853.3 387.1 853.4 385.8 853.6 385.4 853.7 388.9 853.8 388.0 854.0 390.3 854.1 386.9 854.2 390.8 854.4 392.7 854.5 387.9 854.6 387.8 854.8 387.4 854.9 387.7 855.0 389.0 855.2 390.2 855.3 388.6 855.4 390.7 855.6 387.5 855.7 388.9 855.8 391.3 856.0 391.7 856.1 392.4 856.2 391.8 856.4 390.8 856.5 384.7 856.6 386.4 856.8 386.3 856.9 386.9 857.0 387.4 857.2 389.1 857.3 384.7 857.4 380.0 857.6 382.6 857.7 386.1 857.8 386.7 857.9 383.3 858.1 387.6 858.2 386.4 858.3 389.1 858.5 381.1 858.6 386.9 858.7 386.6 858.9 387.2 859.0 386.3 859.1 385.5 859.3 386.2 859.4 384.0 859.5 381.5 859.7 387.3 859.8 384.4 859.9 383.2 860.1 387.6 860.2 384.2 860.3 384.2 860.5 385.8 860.6 383.8 860.7 385.1 860.9 383.2 861.0 387.4 861.1 385.6 861.3 389.3 861.4 387.4 861.5 388.8 861.7 385.4 861.8 385.2 861.9 388.1 862.1 388.0 862.2 385.5 862.3 387.2 862.5 385.3 862.6 386.7 862.7 384.0 862.9 387.9 863.0 384.5 863.1 386.4 863.3 384.7 863.4 385.6 863.5 385.9 863.7 386.4 863.8 388.9 863.9 390.3 864.1 388.0 864.2 384.7 864.3 387.3 864.5 384.3 864.6 390.4 864.7 387.8 864.9 387.4 865.0 388.8 865.1 387.2 865.2 389.6 865.4 389.0 865.5 385.8 865.6 389.9 865.8 387.3 865.9 389.9 866.0 383.6 866.2 391.1 866.3 385.9 866.4 386.0 866.6 388.6 866.7 384.2 866.8 387.3 867.0 381.7 867.1 387.8 867.2 387.9 867.4 386.1 867.5 381.4 867.6 385.3 867.8 384.9 867.9 383.4 868.0 382.6 868.2 383.7 868.3 383.4 868.4 385.0 868.6 387.1 868.7 385.1 868.8 386.8 869.0 386.0 869.1 385.1 869.2 386.9 869.4 386.5 869.5 388.2 869.6 391.2 869.8 384.1 869.9 388.9 870.0 382.2 870.2 387.5 870.3 384.9 870.4 388.6 870.6 392.8 870.7 385.9 870.8 387.7 871.0 385.0 871.1 387.2 871.2 389.5 871.4 384.5 871.5 385.2 871.6 383.1 871.8 386.5 871.9 387.2 872.0 384.6 872.2 386.7 872.3 382.0 872.4 386.2 872.6 385.3 872.7 382.9 872.8 383.1 872.9 384.8 873.1 388.4 873.2 390.6 873.3 388.5 873.5 390.5 873.6 388.3 873.7 386.8 873.9 391.2 874.0 389.6 874.1 386.3 874.3 387.9 874.4 390.5 874.5 390.7 874.7 389.3 874.8 386.5 874.9 388.6 875.1 391.7 875.2 389.6 875.3 391.8 875.5 385.8 875.6 386.8 875.7 388.2 875.9 388.2 876.0 386.8 876.1 383.5 876.3 387.5 876.4 387.2 876.5 385.4 876.7 388.5 876.8 391.6 876.9 386.8 877.1 386.3 877.2 388.5 877.3 391.0 877.5 387.0 877.6 386.6 877.7 386.4 877.9 391.6 878.0 389.3 878.1 389.4 878.3 387.7 878.4 386.6 878.5 386.3 878.7 389.6 878.8 390.6 878.9 385.1 879.1 388.8 879.2 382.5 879.3 381.2 879.5 385.1 879.6 386.5 879.7 387.6 879.9 385.1 880.0 384.6 880.1 389.0 880.3 381.1 880.4 388.1 880.5 387.4 880.6 384.4 880.8 385.6 880.9 390.1 881.0 380.8 881.2 385.7 881.3 383.8 881.4 386.7 881.6 387.4 881.7 387.3 881.8 388.2 882.0 388.7 882.1 388.0 882.2 384.4 882.4 385.4 882.5 389.0 882.6 386.0 882.8 388.3 882.9 388.7 883.0 377.2 883.2 390.1 883.3 387.2 883.4 386.9 883.6 387.5 883.7 387.1 883.8 387.6 884.0 384.1 884.1 385.4 884.2 384.2 884.4 385.0 884.5 385.9 884.6 385.6 884.8 384.7 884.9 384.0 885.0 383.6 885.2 385.0 885.3 383.7 885.4 384.1 885.6 387.1 885.7 387.4 885.8 384.4 886.0 383.5 886.1 380.3 886.2 383.5 886.4 384.0 886.5 382.6 886.6 382.2 886.8 384.7 886.9 384.0 887.0 381.5 887.2 386.1 887.3 385.2 887.4 387.2 887.6 382.8 887.7 381.6 887.8 382.5 888.0 382.6 888.1 381.0 888.2 384.8 888.3 381.6 888.5 378.7 888.6 384.6 888.7 383.2 888.9 384.4 889.0 381.9 889.1 379.2 889.3 387.0 889.4 385.4 889.5 383.1 889.7 383.9 889.8 386.2 889.9 384.2 890.1 383.1 890.2 383.5 890.3 380.8 890.5 384.2 890.6 383.3 890.7 384.7 890.9 381.6 891.0 382.2 891.1 379.7 891.3 382.7 891.4 382.9 891.5 382.5 891.7 385.8 891.8 385.1 891.9 383.5 892.1 381.3 892.2 383.6 892.3 390.8 892.5 382.4 892.6 382.5 892.7 384.3 892.9 380.7 893.0 383.4 893.1 379.4 893.3 382.1 893.4 382.4 893.5 382.5 893.7 384.1 893.8 382.2 893.9 382.0 894.1 384.1 894.2 382.1 894.3 383.7 894.5 381.0 894.6 382.1 894.7 380.7 894.9 381.1 895.0 379.7 895.1 380.0 895.3 374.5 895.4 381.9 895.5 377.1 895.6 379.5 895.8 377.2 895.9 383.3 896.0 381.3 896.2 383.0 896.3 378.3 896.4 379.5 896.6 381.2 896.7 378.3 896.8 383.4 897.0 380.5 897.1 380.0 897.2 378.4 897.4 381.2 897.5 378.5 897.6 375.6 897.8 378.3 897.9 376.0 898.0 378.0 898.2 378.7 898.3 377.1 898.4 376.8 898.6 373.7 898.7 375.4 898.8 379.8 899.0 374.3 899.1 372.4 899.2 375.9 899.4 379.1 899.5 378.2 899.6 376.6 899.8 376.8 899.9 376.0 900.0 377.5 900.2 377.2 900.3 376.5 900.4 373.1 900.6 375.6 900.7 375.1 900.8 374.4 901.0 376.8 901.1 376.9 901.2 375.0 901.4 378.3 901.5 375.9 901.6 375.1 901.8 377.6 901.9 377.3 902.0 380.5 902.2 377.7 902.3 376.6 902.4 376.0 902.6 374.4 902.7 372.4 902.8 374.9 903.0 374.5 903.1 375.9 903.2 377.3 903.3 375.6 903.5 377.2 903.6 380.8 903.7 375.9 903.9 375.5 904.0 378.9 904.1 378.6 904.3 379.5 904.4 374.5 904.5 372.8 904.7 378.7 904.8 378.0 904.9 375.4 905.1 370.3 905.2 378.9 905.3 378.0 905.5 377.2 905.6 369.7 905.7 375.2 905.9 373.2 906.0 374.9 906.1 377.4 906.3 374.1 906.4 372.2 906.5 371.7 906.7 374.8 906.8 372.0 906.9 373.0 907.1 372.4 907.2 371.8 907.3 371.9 907.5 370.7 907.6 376.2 907.7 374.2 907.9 372.6 908.0 377.3 908.1 373.4 908.3 374.8 908.4 373.2 908.5 371.5 908.7 370.5 908.8 370.9 908.9 374.1 909.1 369.6 909.2 370.8 909.3 369.4 909.5 370.7 909.6 370.1 909.7 368.0 909.9 370.0 910.0 367.9 910.1 370.4 910.3 369.7 910.4 369.1 910.5 369.8 910.7 370.6 910.8 372.0 910.9 372.3 911.0 372.5 911.2 371.7 911.3 370.6 911.4 371.8 911.6 370.2 911.7 370.0 911.8 371.6 912.0 371.9 912.1 369.2 912.2 372.3 912.4 371.2 912.5 370.6 912.6 370.5 912.8 370.7 912.9 373.1 913.0 367.4 913.2 372.1 913.3 367.2 913.4 371.1 913.6 369.2 913.7 367.5 913.8 372.8 914.0 367.7 914.1 369.7 914.2 369.3 914.4 371.1 914.5 369.0 914.6 372.3 914.8 373.7 914.9 374.0 915.0 373.4 915.2 369.5 915.3 370.0 915.4 371.1 915.6 370.4 915.7 369.6 915.8 366.0 916.0 369.7 916.1 372.0 916.2 371.3 916.4 376.4 916.5 365.4 916.6 369.1 916.8 369.8 916.9 374.4 917.0 375.5 917.2 370.7 917.3 372.9 917.4 374.0 917.6 373.5 917.7 373.5 917.8 371.8 918.0 371.5 918.1 370.9 918.2 371.5 918.3 375.7 918.5 374.1 918.6 373.9 918.7 372.5 918.9 374.7 919.0 376.5 919.1 371.9 919.3 377.1 919.4 375.2 919.5 368.9 919.7 374.9 919.8 375.4 919.9 377.9 920.1 375.1 920.2 370.7 920.3 372.2 920.5 372.5 920.6 376.3 920.7 372.9 920.9 372.0 921.0 374.9 921.1 375.5 921.3 370.5 921.4 373.5 921.5 375.6 921.7 374.6 921.8 376.0 921.9 375.7 922.1 374.5 922.2 371.5 922.3 376.8 922.5 374.6 922.6 372.3 922.7 371.5 922.9 373.6 923.0 371.5 923.1 372.5 923.3 375.2 923.4 373.9 923.5 370.6 923.7 373.6 923.8 372.5 923.9 371.9 924.1 371.9 924.2 372.6 924.3 375.3 924.5 378.1 924.6 375.6 924.7 379.3 924.9 374.9 925.0 376.4 925.1 380.1 925.3 377.4 925.4 377.7 925.5 377.8 925.7 376.1 925.8 382.0 925.9 377.3 926.0 379.2 926.2 378.4 926.3 379.4 926.4 380.4 926.6 372.4 926.7 374.2 926.8 372.8 927.0 375.5 927.1 377.0 927.2 378.1 927.4 376.6 927.5 379.1 927.6 379.6 927.8 378.5 927.9 376.1 928.0 377.3 928.2 378.2 928.3 380.1 928.4 378.2 928.6 379.1 928.7 374.8 928.8 372.3 929.0 378.5 929.1 378.5 929.2 376.3 929.4 377.5 929.5 379.7 929.6 379.9 929.8 381.4 929.9 380.4 930.0 378.3 930.2 380.0 930.3 385.4 930.4 382.3 930.6 376.9 930.7 379.3 930.8 381.5 931.0 378.8 931.1 379.5 931.2 380.9 931.4 378.9 931.5 379.4 931.6 378.0 931.8 377.0 931.9 378.5 932.0 381.4 932.2 379.7 932.3 381.1 932.4 385.4 932.6 378.8 932.7 383.4 932.8 380.4 933.0 382.9 933.1 383.5 933.2 386.0 933.4 380.4 933.5 381.0 933.6 382.5 933.7 382.1 933.9 376.4 934.0 383.5 934.1 379.6 934.3 382.1 934.4 379.3 934.5 382.6 934.7 382.0 934.8 387.7 934.9 383.6 935.1 381.3 935.2 383.7 935.3 378.5 935.5 383.8 935.6 384.0 935.7 380.5 935.9 380.7 936.0 377.3 936.1 381.7 936.3 382.4 936.4 377.7 936.5 381.6 936.7 377.7 936.8 383.0 936.9 375.1 937.1 379.1 937.2 381.8 937.3 377.4 937.5 378.7 937.6 380.7 937.7 380.6 937.9 379.7 938.0 380.0 938.1 380.9 938.3 381.2 938.4 381.0 938.5 383.9 938.7 382.6 938.8 382.9 938.9 383.1 939.1 379.1 939.2 379.4 939.3 385.9 939.5 377.3 939.6 380.3 939.7 383.2 939.9 381.3 940.0 381.2 940.1 385.4 940.3 379.5 940.4 384.1 940.5 378.4 940.7 378.0 940.8 380.7 940.9 381.7 941.1 386.0 941.2 381.6 941.3 381.0 941.4 381.7 941.6 380.0 941.7 378.4 941.8 378.8 942.0 381.2 942.1 379.1 942.2 377.0 942.4 379.0 942.5 377.0 942.6 383.9 942.8 377.5 942.9 382.7 943.0 380.9 943.2 384.3 943.3 385.4 943.4 380.6 943.6 382.6 943.7 381.4 943.8 377.3 944.0 383.6 944.1 381.9 944.2 381.4 944.4 381.7 944.5 381.1 944.6 378.5 944.8 380.8 944.9 377.8 945.0 385.2 945.2 376.9 945.3 383.3 945.4 379.9 945.6 381.7 945.7 382.7 945.8 379.5 946.0 381.8 946.1 375.5 946.2 381.8 946.4 384.3 946.5 381.1 946.6 380.1 946.8 379.3 946.9 376.6 947.0 379.2 947.2 383.1 947.3 386.2 947.4 383.9 947.6 382.2 947.7 382.0 947.8 382.9 948.0 385.4 948.1 380.9 948.2 381.2 948.4 381.7 948.5 382.5 948.6 381.1 948.7 376.1 948.9 377.0 949.0 380.9 949.1 383.2 949.3 388.1 949.4 383.2 949.5 380.3 949.7 382.3 949.8 380.0 949.9 383.2 950.1 387.3 950.2 384.0 950.3 388.3 950.5 383.1 950.6 383.6 950.7 383.8 950.9 383.5 951.0 382.4 951.1 382.1 951.3 382.6 951.4 378.9 951.5 379.5 951.7 379.9 951.8 377.9 951.9 376.1 952.1 379.3 952.2 378.7 952.3 376.3 952.5 375.7 952.6 373.1 952.7 375.0 952.9 378.3 953.0 373.2 953.1 377.7 953.3 378.9 953.4 378.0 953.5 378.1 953.7 382.2 953.8 381.7 953.9 378.9 954.1 383.7 954.2 385.5 954.3 380.1 954.5 379.8 954.6 380.7 954.7 382.5 954.9 381.3 955.0 380.5 955.1 378.5 955.3 382.1 955.4 380.2 955.5 380.1 955.7 379.6 955.8 380.1 955.9 375.9 956.1 378.0 956.2 379.2 956.3 379.9 956.4 380.4 956.6 381.6 956.7 379.7 956.8 382.5 957.0 382.3 957.1 381.4 957.2 380.0 957.4 379.7 957.5 380.3 957.6 381.8 957.8 378.4 957.9 378.2 958.0 381.2 958.2 380.1 958.3 381.7 958.4 382.2 958.6 380.7 958.7 376.6 958.8 382.1 959.0 380.9 959.1 381.6 959.2 381.0 959.4 379.8 959.5 380.4 959.6 376.7 959.8 376.6 959.9 378.6 960.0 383.0 960.2 378.8 960.3 380.7 960.4 377.9 960.6 378.2 960.7 379.8 960.8 379.5 961.0 377.7 961.1 376.4 961.2 379.7 961.4 377.1 961.5 375.1 961.6 375.0 961.8 373.0 961.9 374.6 962.0 375.5 962.2 368.9 962.3 372.2 962.4 370.0 962.6 371.3 962.7 370.8 962.8 369.2 963.0 371.5 963.1 368.5 963.2 369.1 963.4 368.1 963.5 369.3 963.6 372.2 963.8 369.8 963.9 374.0 964.0 369.5 964.1 368.2 964.3 371.2 964.4 369.1 964.5 369.4 964.7 368.2 964.8 369.6 964.9 368.2 965.1 368.5 965.2 364.2 965.3 366.8 965.5 367.0 965.6 365.2 965.7 367.2 965.9 365.0 966.0 364.2 966.1 365.2 966.3 361.7 966.4 360.8 966.5 362.7 966.7 358.4 966.8 363.9 966.9 360.4 967.1 363.7 967.2 360.7 967.3 358.7 967.5 358.6 967.6 360.4 967.7 360.9 967.9 358.7 968.0 356.7 968.1 359.4 968.3 360.2 968.4 360.6 968.5 357.2 968.7 358.7 968.8 361.1 968.9 365.2 969.1 360.3 969.2 358.3 969.3 361.6 969.5 355.0 969.6 361.0 969.7 359.9 969.9 364.0 970.0 360.1 970.1 358.8 970.3 365.8 970.4 361.9 970.5 361.4 970.7 360.3 970.8 359.0 970.9 358.4 971.1 362.8 971.2 360.3 971.3 363.4 971.4 363.0 971.6 364.1 971.7 362.1 971.8 363.4 972.0 362.5 972.1 363.7 972.2 363.2 972.4 361.2 972.5 366.8 972.6 364.8 972.8 372.4 972.9 368.7 973.0 366.3 973.2 369.7 973.3 372.5 973.4 372.2 973.6 370.3 973.7 373.1 973.8 372.9 974.0 371.9 974.1 372.2 974.2 373.3 974.4 372.7 974.5 373.6 974.6 374.4 974.8 375.1 974.9 370.4 975.0 371.9 975.2 373.5 975.3 373.6 975.4 371.9 975.6 373.2 975.7 373.6 975.8 374.5 976.0 375.8 976.1 374.2 976.2 372.2 976.4 375.8 976.5 376.7 976.6 377.4 976.8 380.3 976.9 376.8 977.0 380.3 977.2 382.9 977.3 377.2 977.4 379.3 977.6 379.6 977.7 381.1 977.8 380.9 978.0 378.2 978.1 385.4 978.2 379.4 978.4 380.3 978.5 380.9 978.6 380.2 978.8 379.5 978.9 378.2 979.0 378.4 979.1 378.6 979.3 381.6 979.4 375.9 979.5 377.9 979.7 378.1 979.8 377.4 979.9 381.1 980.1 379.1 980.2 378.7 980.3 378.9 980.5 382.1 980.6 381.3 980.7 379.2 980.9 380.8 981.0 380.2 981.1 382.7 981.3 377.5 981.4 375.8 981.5 378.9 981.7 378.4 981.8 378.1 981.9 379.6 982.1 380.3 982.2 379.9 982.3 379.5 982.5 377.3 982.6 383.9 982.7 377.8 982.9 376.6 983.0 379.0 983.1 380.4 983.3 376.2 983.4 381.6 983.5 381.2 983.7 380.9 983.8 380.4 983.9 383.9 984.1 384.1 984.2 377.3 984.3 378.5 984.5 377.6 984.6 378.3 984.7 376.3 984.9 375.7 985.0 377.3 985.1 377.0 985.3 380.2 985.4 380.5 985.5 380.4 985.7 380.6 985.8 383.5 985.9 379.2 986.1 380.8 986.2 383.3 986.3 380.4 986.5 383.8 986.6 380.8 986.7 381.7 986.8 380.9 987.0 383.5 987.1 380.3 987.2 381.8 987.4 382.8 987.5 382.4 987.6 381.3 987.8 379.0 987.9 382.7 988.0 380.0 988.2 383.8 988.3 382.1 988.4 385.2 988.6 383.4 988.7 383.9 988.8 381.8 989.0 384.2 989.1 386.2 989.2 384.0 989.4 384.3 989.5 381.5 989.6 387.8 989.8 380.7 989.9 386.1 990.0 382.0 990.2 377.8 990.3 382.9 990.4 382.0 990.6 379.2 990.7 379.0 990.8 382.1 991.0 381.2 991.1 380.6 991.2 383.6 991.4 380.8 991.5 380.0 991.6 377.8 991.8 380.4 991.9 382.5 992.0 382.7 992.2 382.9 992.3 381.4 992.4 383.0 992.6 378.0 992.7 381.5 992.8 387.0 993.0 383.6 993.1 382.6 993.2 383.5 993.4 385.6 993.5 381.8 993.6 383.0 993.8 383.2 993.9 381.3 994.0 382.8 994.2 379.7 994.3 386.3 994.4 381.1 994.5 382.4 994.7 385.8 994.8 387.3 994.9 385.8 995.1 383.8 995.2 384.9 995.3 378.0 995.5 382.8 995.6 385.6 995.7 382.4 995.9 386.2 996.0 385.7 996.1 382.7 996.3 384.0 996.4 384.7 996.5 387.5 996.7 383.0 996.8 380.1 996.9 384.0 997.1 389.5 997.2 382.0 997.3 384.2 997.5 382.8 997.6 384.1 997.7 387.6 997.9 385.8 998.0 379.7 998.1 382.6 998.3 383.0 998.4 382.9 998.5 382.3 998.7 380.8 998.8 380.1 998.9 382.4 999.1 383.6 999.2 381.9 999.3 381.9 999.5 385.9 999.6 381.6 999.7 383.4 999.9 383.6 1000.0 381.1 1000.1 386.0 1000.3 380.4 1000.4 382.1 1000.5 384.0 1000.7 386.2 1000.8 386.7 1000.9 381.7 1001.1 382.8 1001.2 379.9 1001.3 379.9 1001.5 385.3 1001.6 382.5 1001.7 382.4 1001.8 378.7 1002.0 380.6 1002.1 375.4 1002.2 380.0 1002.4 380.2 1002.5 383.0 1002.6 379.6 1002.8 380.2 1002.9 381.6"/>
<path d="M118.0 450.0 118.1 443.1 118.3 448.1 118.4 446.4 118.5 447.4 118.7 448.2 118.8 445.8 118.9 448.9 119.1 448.1 119.2 454.8 119.3 450.0 119.5 449.0 119.6 449.1 119.7 448.4 119.9 447.7 120.0 448.8 120.1 450.2 120.3 449.4 120.4 451.6 120.5 450.2 120.7 451.1 120.8 454.1 120.9 453.1 121.1 451.9 121.2 452.7 121.3 454.4 121.5 456.9 121.6 453.5 121.7 454.0 121.8 456.2 122.0 453.4 122.1 454.5 122.2 456.5 122.4 456.0 122.5 455.3 122.6 456.2 122.8 450.6 122.9 456.7 123.0 453.5 123.2 452.4 123.3 455.6 123.4 456.3 123.6 454.7 123.7 453.8 123.8 455.8 124.0 455.8 124.1 459.3 124.2 457.8 124.4 456.3 124.5 457.7 124.6 455.5 124.8 454.3 124.9 456.7 125.0 456.8 125.2 455.6 125.3 455.1 125.4 457.4 125.6 453.3 125.7 458.9 125.8 459.0 126.0 454.7 126.1 459.1 126.2 457.6 126.4 460.5 126.5 455.9 126.6 457.5 126.8 459.9 126.9 460.4 127.0 454.8 127.2 457.3 127.3 458.5 127.4 457.0 127.6 460.6 127.7 456.2 127.8 458.9 128.0 457.0 128.1 461.3 128.2 459.4 128.4 459.2 128.5 457.4 128.6 463.2 128.8 461.9 128.9 461.9 129.0 462.6 129.2 461.2 129.3 459.5 129.4 459.2 129.5 459.1 129.7 462.6 129.8 458.1 129.9 459.7 130.1 460.3 130.2 461.5 130.3 462.3 130.5 459.7 130.6 459.2 130.7 462.2 130.9 464.5 131.0 463.9 131.1 463.2 131.3 462.5 131.4 463.9 131.5 462.9 131.7 464.7 131.8 461.5 131.9 463.8 132.1 463.5 132.2 464.7 132.3 464.4 132.5 468.4 132.6 466.8 132.7 467.0 132.9 461.3 133.0 464.2 133.1 463.8 133.3 465.7 133.4 461.0 133.5 466.7 133.7 466.7 133.8 462.9 133.9 463.7 134.1 464.3 134.2 465.9 134.3 467.7 134.5 471.3 134.6 466.0 134.7 467.6 134.9 466.6 135.0 469.0 135.1 467.1 135.3 468.1 135.4 463.9 135.5 465.4 135.7 464.4 135.8 468.3 135.9 467.0 136.1 465.6 136.2 465.5 136.3 467.3 136.5 465.6 136.6 465.5 136.7 468.2 136.9 471.7 137.0 467.5 137.1 467.1 137.2 465.2 137.4 465.9 137.5 468.9 137.6 469.4 137.8 468.0 137.9 468.6 138.0 468.4 138.2 468.6 138.3 466.1 138.4 468.1 138.6 469.1 138.7 467.7 138.8 468.1 139.0 467.4 139.1 468.1 139.2 469.9 139.4 467.8 139.5 468.3 139.6 470.0 139.8 470.0 139.9 472.0 140.0 466.0 140.2 471.2 140.3 469.1 140.4 470.3 140.6 472.2 140.7 471.9 140.8 472.6 141.0 470.1 141.1 473.7 141.2 469.0 141.4 469.1 141.5 470.6 141.6 468.2 141.8 472.6 141.9 470.6 142.0 472.4 142.2 468.7 142.3 467.7 142.4 469.0 142.6 470.1 142.7 468.1 142.8 469.9 143.0 469.6 143.1 472.6 143.2 469.1 143.4 473.0 143.5 469.5 143.6 469.0 143.8 469.4 143.9 468.6 144.0 470.7 144.2 472.0 144.3 470.3 144.4 470.9 144.6 472.4 144.7 470.0 144.8 469.7 144.9 468.8 145.1 466.6 145.2 470.6 145.3 465.0 145.5 470.6 145.6 469.7 145.7 471.7 145.9 469.9 146.0 468.8 146.1 470.9 146.3 469.5 146.4 470.2 146.5 470.6 146.7 470.4 146.8 470.3 146.9 469.3 147.1 470.3 147.2 467.0 147.3 470.3 147.5 468.5 147.6 472.2 147.7 472.3 147.9 466.8 148.0 470.1 148.1 469.5 148.3 467.9 148.4 470.4 148.5 468.8 148.7 466.6 148.8 469.2 148.9 469.6 149.1 470.1 149.2 468.0 149.3 471.1 149.5 471.3 149.6 468.2 149.7 469.0 149.9 469.9 150.0 469.1 150.1 473.0 150.3 470.5 150.4 468.5 150.5 469.0 150.7 470.3 150.8 474.4 150.9 470.3 151.1 470.9 151.2 471.6 151.3 470.7 151.5 474.7 151.6 470.1 151.7 472.3 151.9 471.5 152.0 472.3 152.1 469.4 152.2 474.4 152.4 471.2 152.5 471.4 152.6 469.6 152.8 469.8 152.9 471.8 153.0 472.2 153.2 472.2 153.3 472.2 153.4 471.8 153.6 470.0 153.7 471.4 153.8 471.2 154.0 470.4 154.1 472.3 154.2 473.7 154.4 472.5 154.5 472.0 154.6 474.1 154.8 476.4 154.9 473.0 155.0 473.2 155.2 473.1 155.3 475.3 155.4 470.1 155.6 473.7 155.7 474.9 155.8 471.4 156.0 475.1 156.1 473.3 156.2 471.3 156.4 472.4 156.5 469.3 156.6 470.9 156.8 475.0 156.9 470.5 157.0 475.3 157.2 472.2 157.3 474.1 157.4 472.6 157.6 468.8 157.7 471.5 157.8 472.8 158.0 470.5 158.1 470.2 158.2 473.3 158.4 471.9 158.5 470.5 158.6 472.7 158.8 475.7 158.9 473.8 159.0 476.4 159.2 477.5 159.3 475.0 159.4 472.8 159.6 472.2 159.7 474.0 159.8 475.2 159.9 473.8 160.1 473.9 160.2 471.9 160.3 473.0 160.5 471.5 160.6 471.8 160.7 470.2 160.9 469.8 161.0 471.8 161.1 470.0 161.3 471.4 161.4 474.4 161.5 473.3 161.7 478.5 161.8 476.1 161.9 472.8 162.1 475.3 162.2 474.7 162.3 473.0 162.5 476.1 162.6 472.9 162.7 469.1 162.9 475.5 163.0 472.9 163.1 476.2 163.3 472.3 163.4 471.2 163.5 475.6 163.7 471.1 163.8 473.4 163.9 475.7 164.1 473.7 164.2 473.7 164.3 474.4 164.5 476.0 164.6 473.5 164.7 476.1 164.9 476.3 165.0 479.5 165.1 475.1 165.3 474.2 165.4 477.1 165.5 475.2 165.7 476.4 165.8 476.2 165.9 478.0 166.1 475.1 166.2 476.2 166.3 472.3 166.5 475.4 166.6 479.7 166.7 476.1 166.9 475.6 167.0 475.3 167.1 478.3 167.3 477.5 167.4 474.7 167.5 477.6 167.6 476.5 167.8 477.1 167.9 474.5 168.0 478.4 168.2 476.1 168.3 475.2 168.4 474.6 168.6 475.0 168.7 476.8 168.8 474.8 169.0 476.7 169.1 475.5 169.2 477.4 169.4 474.8 169.5 472.7 169.6 469.1 169.8 472.3 169.9 473.4 170.0 471.5 170.2 471.9 170.3 470.1 170.4 470.1 170.6 469.1 170.7 472.8 170.8 470.7 171.0 469.4 171.1 467.8 171.2 469.7 171.4 472.3 171.5 470.6 171.6 468.8 171.8 472.6 171.9 472.9 172.0 472.6 172.2 472.9 172.3 474.1 172.4 473.7 172.6 474.8 172.7 472.8 172.8 477.3 173.0 475.8 173.1 479.1 173.2 472.6 173.4 477.6 173.5 478.3 173.6 476.3 173.8 477.9 173.9 478.7 174.0 478.6 174.2 476.9 174.3 477.8 174.4 479.9 174.6 480.6 174.7 478.8 174.8 478.9 174.9 479.5 175.1 481.0 175.2 477.7 175.3 477.5 175.5 480.3 175.6 478.4 175.7 479.5 175.9 481.0 176.0 481.9 176.1 479.4 176.3 482.7 176.4 478.2 176.5 482.1 176.7 478.3 176.8 478.6 176.9 481.7 177.1 479.7 177.2 479.0 177.3 479.6 177.5 481.2 177.6 480.3 177.7 480.5 177.9 483.4 178.0 479.5 178.1 480.1 178.3 480.2 178.4 483.4 178.5 483.3 178.7 484.1 178.8 482.1 178.9 482.1 179.1 484.0 179.2 481.9 179.3 483.9 179.5 483.5 179.6 480.8 179.7 481.5 179.9 481.1 180.0 483.9 180.1 485.2 180.3 480.4 180.4 480.6 180.5 476.7 180.7 481.2 180.8 481.0 180.9 479.4 181.1 482.9 181.2 478.9 181.3 481.4 181.5 482.0 181.6 479.5 181.7 483.1 181.9 483.4 182.0 479.1 182.1 479.1 182.3 482.8 182.4 481.9 182.5 480.2 182.6 482.1 182.8 482.8 182.9 482.9 183.0 485.0 183.2 484.4 183.3 486.9 183.4 486.2 183.6 484.9 183.7 485.5 183.8 485.7 184.0 484.4 184.1 480.8 184.2 484.3 184.4 482.9 184.5 485.6 184.6 483.2 184.8 484.0 184.9 483.9 185.0 486.5 185.2 484.2 185.3 483.5 185.4 485.0 185.6 484.1 185.7 485.5 185.8 485.5 186.0 486.3 186.1 491.0 186.2 485.4 186.4 486.3 186.5 485.9 186.6 487.3 186.8 484.0 186.9 484.1 187.0 485.7 187.2 486.6 187.3 485.4 187.4 484.6 187.6 484.1 187.7 486.6 187.8 488.5 188.0 486.8 188.1 486.9 188.2 487.6 188.4 485.3 188.5 486.6 188.6 486.6 188.8 487.6 188.9 486.9 189.0 484.6 189.2 488.6 189.3 489.5 189.4 486.0 189.6 487.3 189.7 487.1 189.8 488.2 190.0 484.3 190.1 489.9 190.2 486.3 190.3 489.5 190.5 487.4 190.6 486.7 190.7 487.2 190.9 489.3 191.0 486.4 191.1 487.5 191.3 487.5 191.4 485.5 191.5 490.9 191.7 489.6 191.8 488.4 191.9 490.3 192.1 486.2 192.2 487.4 192.3 490.2 192.5 489.4 192.6 482.6 192.7 480.4 192.9 484.3 193.0 488.1 193.1 485.1 193.3 486.3 193.4 488.2 193.5 486.0 193.7 488.5 193.8 490.1 193.9 490.0 194.1 490.3 194.2 488.9 194.3 491.0 194.5 489.4 194.6 492.4 194.7 494.5 194.9 488.4 195.0 485.6 195.1 488.3 195.3 489.4 195.4 490.4 195.5 490.2 195.7 486.0 195.8 486.5 195.9 490.1 196.1 485.9 196.2 490.9 196.3 487.7 196.5 489.6 196.6 489.6 196.7 489.9 196.9 490.1 197.0 487.1 197.1 489.5 197.3 489.3 197.4 490.1 197.5 492.0 197.7 489.6 197.8 489.1 197.9 489.2 198.0 490.1 198.2 492.0 198.3 489.1 198.4 492.6 198.6 491.0 198.7 490.1 198.8 488.3 199.0 491.2 199.1 492.2 199.2 488.0 199.4 493.4 199.5 494.3 199.6 492.0 199.8 492.3 199.9 495.7 200.0 493.7 200.2 489.9 200.3 491.5 200.4 491.2 200.6 491.1 200.7 486.9 200.8 492.3 201.0 489.5 201.1 490.6 201.2 489.7 201.4 491.2 201.5 488.8 201.6 486.9 201.8 490.3 201.9 491.3 202.0 488.2 202.2 491.3 202.3 489.6 202.4 488.7 202.6 493.0 202.7 489.5 202.8 493.6 203.0 491.7 203.1 494.1 203.2 491.6 203.4 492.7 203.5 496.3 203.6 494.7 203.8 494.3 203.9 493.1 204.0 494.4 204.2 490.9 204.3 491.2 204.4 492.9 204.6 491.8 204.7 492.2 204.8 493.6 205.0 493.7 205.1 493.6 205.2 497.0 205.3 495.6 205.5 495.7 205.6 493.1 205.7 492.0 205.9 490.0 206.0 491.8 206.1 488.7 206.3 491.5 206.4 494.2 206.5 496.0 206.7 495.1 206.8 492.1 206.9 494.7 207.1 492.5 207.2 495.5 207.3 493.8 207.5 495.7 207.6 498.8 207.7 495.8 207.9 498.3 208.0 494.3 208.1 493.3 208.3 496.1 208.4 496.7 208.5 491.9 208.7 493.5 208.8 489.5 208.9 493.1 209.1 495.2 209.2 493.7 209.3 493.0 209.5 490.5 209.6 495.1 209.7 496.0 209.9 495.6 210.0 495.0 210.1 492.2 210.3 497.7 210.4 494.5 210.5 494.4 210.7 496.7 210.8 490.9 210.9 494.7 211.1 494.7 211.2 495.7 211.3 497.6 211.5 496.1 211.6 492.0 211.7 494.5 211.9 495.9 212.0 495.8 212.1 493.2 212.3 492.5 212.4 496.5 212.5 496.0 212.7 495.3 212.8 492.2 212.9 498.4 213.0 489.8 213.2 494.3 213.3 498.6 213.4 494.4 213.6 495.1 213.7 492.5 213.8 497.2 214.0 492.5 214.1 495.6 214.2 495.6 214.4 493.8 214.5 497.6 214.6 493.8 214.8 495.5 214.9 497.0 215.0 496.7 215.2 498.5 215.3 499.5 215.4 497.5 215.6 497.2 215.7 497.3 215.8 497.7 216.0 500.0 216.1 498.3 216.2 499.7 216.4 499.0 216.5 497.9 216.6 501.1 216.8 497.7 216.9 499.5 217.0 502.0 217.2 496.9 217.3 498.4 217.4 495.2 217.6 496.7 217.7 494.6 217.8 496.4 218.0 496.0 218.1 497.2 218.2 499.9 218.4 497.7 218.5 498.5 218.6 497.3 218.8 496.9 218.9 496.1 219.0 494.5 219.2 498.0 219.3 500.9 219.4 499.0 219.6 497.3 219.7 501.5 219.8 497.9 220.0 497.7 220.1 496.8 220.2 497.4 220.4 498.8 220.5 502.9 220.6 498.8 220.7 496.3 220.9 497.9 221.0 498.4 221.1 495.5 221.3 498.7 221.4 499.6 221.5 498.8 221.7 499.3 221.8 496.0 221.9 495.4 222.1 501.2 222.2 501.2 222.3 496.6 222.5 500.1 222.6 500.0 222.7 501.1 222.9 500.6 223.0 499.4 223.1 500.8 223.3 500.8 223.4 500.5 223.5 495.5 223.7 495.2 223.8 498.6 223.9 497.9 224.1 501.4 224.2 502.4 224.3 501.6 224.5 500.5 224.6 501.4 224.7 503.4 224.9 500.0 225.0 503.9 225.1 502.6 225.3 501.7 225.4 503.9 225.5 499.8 225.7 502.8 225.8 499.3 225.9 499.7 226.1 499.2 226.2 502.2 226.3 499.8 226.5 501.8 226.6 499.8 226.7 504.0 226.9 505.6 227.0 502.7 227.1 505.4 227.3 503.4 227.4 506.5 227.5 502.7 227.7 499.7 227.8 505.6 227.9 502.8 228.0 501.3 228.2 502.3 228.3 500.8 228.4 503.9 228.6 502.5 228.7 507.6 228.8 506.3 229.0 502.2 229.1 502.7 229.2 504.6 229.4 502.1 229.5 505.6 229.6 505.6 229.8 504.3 229.9 504.6 230.0 506.5 230.2 508.1 230.3 508.1 230.4 505.3 230.6 506.8 230.7 503.9 230.8 506.1 231.0 502.7 231.1 507.0 231.2 503.4 231.4 504.2 231.5 506.2 231.6 507.5 231.8 503.9 231.9 505.8 232.0 507.2 232.2 507.4 232.3 505.4 232.4 507.2 232.6 506.2 232.7 509.5 232.8 507.9 233.0 504.4 233.1 502.9 233.2 507.3 233.4 509.6 233.5 507.9 233.6 509.5 233.8 507.1 233.9 505.6 234.0 510.4 234.2 508.5 234.3 509.5 234.4 505.5 234.6 508.2 234.7 506.5 234.8 509.0 235.0 505.6 235.1 505.4 235.2 505.9 235.4 509.4 235.5 507.0 235.6 505.6 235.7 504.1 235.9 505.0 236.0 509.7 236.1 503.5 236.3 504.5 236.4 508.2 236.5 509.3 236.7 506.9 236.8 508.9 236.9 509.1 237.1 509.8 237.2 508.4 237.3 511.6 237.5 509.1 237.6 511.8 237.7 506.9 237.9 510.7 238.0 506.4 238.1 505.7 238.3 509.3 238.4 506.6 238.5 508.9 238.7 506.0 238.8 511.2 238.9 508.5 239.1 506.6 239.2 509.3 239.3 510.8 239.5 507.8 239.6 510.8 239.7 515.0 239.9 510.7 240.0 508.9 240.1 507.3 240.3 510.5 240.4 505.9 240.5 503.0 240.7 507.5 240.8 506.7 240.9 513.8 241.1 509.0 241.2 506.9 241.3 506.6 241.5 509.7 241.6 507.2 241.7 507.8 241.9 508.7 242.0 509.1 242.1 509.2 242.3 509.3 242.4 511.6 242.5 512.4 242.7 506.2 242.8 514.4 242.9 509.9 243.1 512.2 243.2 508.7 243.3 510.9 243.4 510.8 243.6 510.8 243.7 512.4 243.8 512.1 244.0 509.1 244.1 510.8 244.2 512.4 244.4 512.2 244.5 510.0 244.6 509.9 244.8 509.8 244.9 507.7 245.0 507.1 245.2 512.2 245.3 508.2 245.4 508.8 245.6 507.0 245.7 511.9 245.8 511.3 246.0 507.4 246.1 508.8 246.2 506.6 246.4 511.6 246.5 510.4 246.6 507.5 246.8 511.9 246.9 510.7 247.0 511.2 247.2 511.5 247.3 509.8 247.4 510.2 247.6 512.5 247.7 511.1 247.8 509.3 248.0 514.7 248.1 510.3 248.2 509.5 248.4 509.2 248.5 512.0 248.6 512.7 248.8 511.5 248.9 512.9 249.0 508.6 249.2 510.9 249.3 510.7 249.4 511.5 249.6 512.2 249.7 507.1 249.8 516.6 250.0 508.8 250.1 510.9 250.2 511.7 250.4 511.8 250.5 511.0 250.6 504.8 250.8 508.4 250.9 512.0 251.0 508.8 251.1 508.6 251.3 506.1 251.4 512.8 251.5 511.4 251.7 508.7 251.8 510.1 251.9 510.2 252.1 508.3 252.2 509.9 252.3 511.0 252.5 511.6 252.6 513.0 252.7 510.7 252.9 509.8 253.0 511.4 253.1 509.4 253.3 508.2 253.4 512.7 253.5 509.7 253.7 510.5 253.8 511.4 253.9 507.9 254.1 511.1 254.2 510.6 254.3 509.5 254.5 510.4 254.6 508.3 254.7 505.6 254.9 509.4 255.0 508.2 255.1 511.6 255.3 510.4 255.4 508.8 255.5 509.9 255.7 512.3 255.8 511.9 255.9 510.5 256.1 510.7 256.2 509.5 256.3 509.8 256.5 511.3 256.6 510.1 256.7 511.0 256.9 508.4 257.0 507.5 257.1 507.6 257.3 510.2 257.4 513.7 257.5 513.6 257.7 509.6 257.8 508.6 257.9 513.0 258.1 512.3 258.2 508.7 258.3 513.1 258.4 511.2 258.6 513.3 258.7 511.3 258.8 512.3 259.0 511.2 259.1 508.9 259.2 510.3 259.4 509.5 259.5 512.5 259.6 509.0 259.8 508.0 259.9 512.2 260.0 513.0 260.2 513.4 260.3 512.6 260.4 507.5 260.6 509.0 260.7 509.2 260.8 510.3 261.0 506.4 261.1 510.8 261.2 511.7 261.4 509.8 261.5 512.2 261.6 515.7 261.8 512.6 261.9 514.6 262.0 514.6 262.2 513.5 262.3 513.5 262.4 512.1 262.6 515.2 262.7 511.9 262.8 511.4 263.0 513.7 263.1 510.6 263.2 512.2 263.4 512.7 263.5 510.1 263.6 509.5 263.8 510.4 263.9 509.6 264.0 504.8 264.2 505.0 264.3 509.8 264.4 507.9 264.6 503.1 264.7 504.5 264.8 507.2 265.0 505.4 265.1 508.3 265.2 507.7 265.4 508.5 265.5 505.4 265.6 508.8 265.8 511.1 265.9 505.7 266.0 509.4 266.1 508.4 266.3 507.4 266.4 505.7 266.5 503.2 266.7 503.4 266.8 506.2 266.9 506.4 267.1 506.7 267.2 506.0 267.3 505.8 267.5 503.3 267.6 501.7 267.7 504.3 267.9 505.2 268.0 503.7 268.1 500.4 268.3 501.9 268.4 499.7 268.5 502.1 268.7 499.3 268.8 500.2 268.9 500.4 269.1 499.4 269.2 500.9 269.3 495.7 269.5 491.2 269.6 498.3 269.7 498.5 269.9 499.3 270.0 495.3 270.1 495.2 270.3 494.0 270.4 491.0 270.5 491.8 270.7 493.3 270.8 491.0 270.9 494.9 271.1 488.2 271.2 489.6 271.3 492.7 271.5 488.1 271.6 485.6 271.7 485.7 271.9 486.4 272.0 490.1 272.1 487.9 272.3 488.5 272.4 486.1 272.5 488.6 272.7 487.5 272.8 486.0 272.9 487.4 273.1 489.3 273.2 491.8 273.3 490.6 273.5 492.6 273.6 496.4 273.7 492.3 273.8 492.3 274.0 497.0 274.1 496.5 274.2 495.9 274.4 496.8 274.5 495.9 274.6 497.6 274.8 496.1 274.9 498.4 275.0 495.0 275.2 495.9 275.3 498.1 275.4 497.5 275.6 500.2 275.7 499.5 275.8 499.1 276.0 501.1 276.1 499.8 276.2 498.9 276.4 500.1 276.5 501.0 276.6 501.9 276.8 503.2 276.9 505.0 277.0 504.6 277.2 507.2 277.3 506.6 277.4 504.2 277.6 508.0 277.7 507.5 277.8 504.7 278.0 506.5 278.1 508.3 278.2 507.1 278.4 509.0 278.5 508.3 278.6 509.3 278.8 507.8 278.9 509.5 279.0 508.5 279.2 510.7 279.3 506.4 279.4 510.4 279.6 512.2 279.7 511.0 279.8 509.9 280.0 511.1 280.1 508.6 280.2 508.8 280.4 509.9 280.5 510.5 280.6 512.9 280.8 509.6 280.9 513.3 281.0 508.5 281.1 509.9 281.3 511.1 281.4 513.0 281.5 509.3 281.7 506.0 281.8 510.4 281.9 509.2 282.1 506.9 282.2 506.7 282.3 507.2 282.5 508.5 282.6 509.5 282.7 504.1 282.9 512.5 283.0 508.2 283.1 507.6 283.3 509.7 283.4 508.8 283.5 513.2 283.7 512.1 283.8 508.4 283.9 508.3 284.1 508.6 284.2 509.1 284.3 511.2 284.5 508.8 284.6 513.1 284.7 509.9 284.9 509.6 285.0 511.5 285.1 503.9 285.3 507.5 285.4 510.3 285.5 509.2 285.7 509.2 285.8 510.1 285.9 508.0 286.1 509.6 286.2 506.4 286.3 506.8 286.5 512.8 286.6 508.6 286.7 508.8 286.9 513.9 287.0 511.6 287.1 508.2 287.3 507.9 287.4 508.5 287.5 506.8 287.7 510.1 287.8 508.9 287.9 509.0 288.1 510.4 288.2 510.6 288.3 512.9 288.5 512.5 288.6 506.5 288.7 511.4 288.8 507.6 289.0 506.9 289.1 510.9 289.2 508.2 289.4 508.9 289.5 511.5 289.6 507.7 289.8 507.9 289.9 510.6 290.0 512.0 290.2 510.8 290.3 507.0 290.4 508.8 290.6 509.8 290.7 513.7 290.8 511.7 291.0 511.5 291.1 512.1 291.2 509.1 291.4 510.4 291.5 510.3 291.6 507.4 291.8 509.1 291.9 510.1 292.0 506.8 292.2 510.1 292.3 509.7 292.4 509.9 292.6 506.2 292.7 507.8 292.8 510.1 293.0 508.8 293.1 505.9 293.2 508.0 293.4 510.5 293.5 507.9 293.6 509.1 293.8 513.4 293.9 508.8 294.0 508.8 294.2 507.4 294.3 508.3 294.4 512.6 294.6 509.7 294.7 507.9 294.8 508.5 295.0 510.3 295.1 511.6 295.2 508.6 295.4 511.1 295.5 508.5 295.6 509.7 295.8 510.1 295.9 509.4 296.0 507.1 296.2 507.2 296.3 508.2 296.4 504.5 296.5 507.0 296.7 507.3 296.8 507.9 296.9 505.5 297.1 504.9 297.2 505.1 297.3 503.2 297.5 503.9 297.6 504.8 297.7 504.4 297.9 501.7 298.0 502.9 298.1 499.3 298.3 504.4 298.4 501.6 298.5 502.7 298.7 499.9 298.8 501.5 298.9 502.4 299.1 503.3 299.2 498.9 299.3 503.1 299.5 501.3 299.6 500.3 299.7 502.8 299.9 501.6 300.0 501.7 300.1 501.1 300.3 503.0 300.4 502.7 300.5 502.4 300.7 501.0 300.8 501.8 300.9 503.5 301.1 505.0 301.2 502.6 301.3 505.3 301.5 502.8 301.6 501.0 301.7 504.5 301.9 501.9 302.0 504.8 302.1 506.4 302.3 503.8 302.4 504.8 302.5 509.9 302.7 506.0 302.8 506.3 302.9 508.3 303.1 506.3 303.2 506.7 303.3 508.0 303.5 503.1 303.6 510.5 303.7 506.0 303.9 506.0 304.0 508.9 304.1 507.7 304.2 505.0 304.4 507.4 304.5 504.5 304.6 504.4 304.8 501.9 304.9 504.5 305.0 507.1 305.2 506.3 305.3 506.7 305.4 507.9 305.6 506.1 305.7 505.0 305.8 505.7 306.0 509.3 306.1 506.2 306.2 506.6 306.4 505.8 306.5 506.4 306.6 506.7 306.8 505.9 306.9 505.6 307.0 504.5 307.2 504.5 307.3 506.9 307.4 507.6 307.6 508.0 307.7 506.4 307.8 504.8 308.0 507.5 308.1 507.5 308.2 503.6 308.4 508.1 308.5 507.9 308.6 511.8 308.8 505.3 308.9 505.3 309.0 509.4 309.2 504.8 309.3 506.9 309.4 506.4 309.6 506.6 309.7 505.0 309.8 508.2 310.0 510.6 310.1 509.6 310.2 509.7 310.4 508.1 310.5 511.4 310.6 509.6 310.8 510.4 310.9 505.3 311.0 508.6 311.2 505.5 311.3 508.0 311.4 507.4 311.5 504.7 311.7 506.9 311.8 508.5 311.9 507.2 312.1 507.3 312.2 504.6 312.3 505.0 312.5 504.4 312.6 506.8 312.7 508.9 312.9 507.6 313.0 506.9 313.1 504.7 313.3 507.5 313.4 505.9 313.5 502.3 313.7 502.1 313.8 504.2 313.9 502.6 314.1 506.9 314.2 503.5 314.3 501.4 314.5 502.4 314.6 506.4 314.7 501.8 314.9 505.3 315.0 504.9 315.1 507.1 315.3 505.6 315.4 504.0 315.5 505.9 315.7 505.1 315.8 506.8 315.9 504.8 316.1 510.3 316.2 504.4 316.3 505.2 316.5 502.9 316.6 504.2 316.7 503.9 316.9 504.1 317.0 505.5 317.1 502.9 317.3 502.5 317.4 506.2 317.5 503.7 317.7 502.5 317.8 506.5 317.9 505.8 318.1 499.4 318.2 503.5 318.3 505.6 318.5 505.6 318.6 503.1 318.7 506.9 318.9 502.6 319.0 503.7 319.1 504.6 319.2 504.5 319.4 506.2 319.5 506.8 319.6 504.8 319.8 507.4 319.9 503.4 320.0 503.7 320.2 507.1 320.3 503.7 320.4 505.0 320.6 501.9 320.7 501.9 320.8 501.9 321.0 502.2 321.1 501.2 321.2 501.8 321.4 502.9 321.5 503.9 321.6 501.9 321.8 503.0 321.9 503.5 322.0 499.8 322.2 498.9 322.3 504.7 322.4 504.1 322.6 501.7 322.7 502.2 322.8 499.8 323.0 499.1 323.1 502.2 323.2 498.9 323.4 503.3 323.5 500.3 323.6 501.9 323.8 504.7 323.9 504.3 324.0 499.9 324.2 502.4 324.3 498.4 324.4 499.3 324.6 501.1 324.7 503.2 324.8 499.9 325.0 502.3 325.1 501.8 325.2 499.6 325.4 501.9 325.5 505.1 325.6 502.2 325.8 503.3 325.9 503.8 326.0 500.8 326.2 504.2 326.3 504.5 326.4 504.5 326.6 503.9 326.7 500.6 326.8 500.5 326.9 500.2 327.1 500.2 327.2 500.6 327.3 504.1 327.5 505.1 327.6 501.2 327.7 503.8 327.9 499.7 328.0 501.2 328.1 499.7 328.3 498.3 328.4 501.4 328.5 501.5 328.7 500.7 328.8 500.4 328.9 500.3 329.1 502.3 329.2 501.8 329.3 503.8 329.5 501.4 329.6 504.4 329.7 505.2 329.9 507.9 330.0 506.5 330.1 504.9 330.3 503.3 330.4 501.1 330.5 504.3 330.7 506.8 330.8 507.2 330.9 499.3 331.1 502.6 331.2 503.3 331.3 502.1 331.5 504.5 331.6 504.4 331.7 503.6 331.9 504.8 332.0 502.1 332.1 503.4 332.3 503.7 332.4 507.1 332.5 502.4 332.7 504.9 332.8 506.7 332.9 505.0 333.1 506.5 333.2 503.8 333.3 505.8 333.5 506.8 333.6 509.4 333.7 506.8 333.9 508.4 334.0 506.0 334.1 506.4 334.2 509.3 334.4 507.7 334.5 509.3 334.6 508.1 334.8 510.8 334.9 511.2 335.0 505.1 335.2 510.0 335.3 507.1 335.4 507.0 335.6 505.8 335.7 507.2 335.8 503.7 336.0 504.4 336.1 504.2 336.2 506.1 336.4 507.2 336.5 506.7 336.6 505.9 336.8 503.9 336.9 501.6 337.0 505.7 337.2 505.2 337.3 505.7 337.4 507.9 337.6 505.1 337.7 505.3 337.8 501.6 338.0 507.8 338.1 506.3 338.2 505.2 338.4 507.5 338.5 504.8 338.6 505.8 338.8 510.5 338.9 508.2 339.0 508.5 339.2 508.2 339.3 508.0 339.4 507.3 339.6 511.5 339.7 507.2 339.8 509.0 340.0 507.4 340.1 507.4 340.2 503.6 340.4 504.7 340.5 512.8 340.6 511.1 340.8 507.5 340.9 508.2 341.0 509.4 341.2 506.4 341.3 511.8 341.4 506.7 341.6 506.9 341.7 501.5 341.8 512.5 341.9 510.1 342.1 513.4 342.2 508.6 342.3 511.3 342.5 510.8 342.6 510.9 342.7 514.4 342.9 516.8 343.0 512.9 343.1 509.6 343.3 512.1 343.4 513.2 343.5 511.9 343.7 512.0 343.8 512.0 343.9 509.3 344.1 511.4 344.2 515.3 344.3 508.5 344.5 510.3 344.6 511.5 344.7 507.2 344.9 509.4 345.0 506.3 345.1 508.3 345.3 506.8 345.4 507.7 345.5 508.5 345.7 508.9 345.8 509.1 345.9 505.0 346.1 514.3 346.2 509.4 346.3 508.1 346.5 509.3 346.6 511.4 346.7 509.2 346.9 510.6 347.0 510.8 347.1 513.4 347.3 510.5 347.4 512.7 347.5 512.4 347.7 511.2 347.8 513.6 347.9 511.0 348.1 508.4 348.2 511.0 348.3 510.6 348.5 510.2 348.6 510.7 348.7 514.7 348.9 510.8 349.0 511.3 349.1 510.0 349.3 514.4 349.4 510.7 349.5 509.4 349.6 507.6 349.8 512.2 349.9 513.4 350.0 508.3 350.2 510.0 350.3 513.3 350.4 513.5 350.6 509.2 350.7 511.2 350.8 513.8 351.0 511.5 351.1 511.9 351.2 512.0 351.4 510.7 351.5 513.4 351.6 514.0 351.8 510.8 351.9 513.8 352.0 515.8 352.2 514.1 352.3 515.5 352.4 512.6 352.6 516.1 352.7 511.7 352.8 516.6 353.0 511.9 353.1 510.4 353.2 510.6 353.4 511.5 353.5 511.3 353.6 511.0 353.8 511.8 353.9 513.8 354.0 514.3 354.2 512.0 354.3 515.1 354.4 510.9 354.6 510.9 354.7 510.9 354.8 514.4 355.0 510.5 355.1 511.1 355.2 516.5 355.4 517.5 355.5 517.0 355.6 511.7 355.8 514.7 355.9 516.3 356.0 515.0 356.2 510.3 356.3 514.5 356.4 512.1 356.6 513.2 356.7 519.9 356.8 517.2 357.0 513.1 357.1 513.0 357.2 516.7 357.3 514.5 357.5 516.6 357.6 514.1 357.7 514.8 357.9 515.5 358.0 512.9 358.1 511.2 358.3 512.6 358.4 513.5 358.5 514.5 358.7 514.9 358.8 514.9 358.9 516.2 359.1 513.6 359.2 518.1 359.3 519.3 359.5 516.3 359.6 516.1 359.7 518.3 359.9 517.3 360.0 516.6 360.1 516.1 360.3 515.1 360.4 514.3 360.5 517.9 360.7 518.8 360.8 514.3 360.9 516.1 361.1 516.6 361.2 514.9 361.3 514.7 361.5 515.4 361.6 512.3 361.7 516.0 361.9 515.5 362.0 520.0 362.1 518.5 362.3 515.1 362.4 515.7 362.5 519.1 362.7 520.5 362.8 516.4 362.9 515.7 363.1 512.0 363.2 515.8 363.3 516.2 363.5 515.2 363.6 520.1 363.7 513.2 363.9 516.7 364.0 517.8 364.1 517.9 364.3 520.4 364.4 514.5 364.5 515.8 364.6 517.6 364.8 517.8 364.9 517.0 365.0 516.5 365.2 520.4 365.3 516.5 365.4 517.7 365.6 523.1 365.7 522.4 365.8 520.8 366.0 517.4 366.1 517.3 366.2 516.2 366.4 516.5 366.5 517.7 366.6 520.9 366.8 518.7 366.9 516.7 367.0 516.5 367.2 515.7 367.3 520.3 367.4 514.1 367.6 518.6 367.7 515.2 367.8 516.0 368.0 513.7 368.1 520.0 368.2 518.0 368.4 526.2 368.5 516.3 368.6 516.3 368.8 519.8 368.9 519.9 369.0 518.4 369.2 515.1 369.3 522.0 369.4 520.8 369.6 520.0 369.7 518.0 369.8 520.4 370.0 517.9 370.1 519.0 370.2 518.4 370.4 521.1 370.5 517.7 370.6 518.0 370.8 521.0 370.9 519.7 371.0 519.7 371.2 519.7 371.3 522.5 371.4 519.1 371.6 522.3 371.7 525.5 371.8 522.4 372.0 520.0 372.1 519.1 372.2 521.7 372.3 517.7 372.5 518.2 372.6 519.9 372.7 519.2 372.9 523.9 373.0 518.4 373.1 524.3 373.3 519.6 373.4 521.2 373.5 522.2 373.7 521.3 373.8 522.3 373.9 519.2 374.1 516.9 374.2 521.2 374.3 518.6 374.5 521.0 374.6 524.2 374.7 522.0 374.9 521.2 375.0 520.1 375.1 521.6 375.3 521.7 375.4 518.7 375.5 522.3 375.7 519.4 375.8 522.0 375.9 520.7 376.1 523.8 376.2 523.8 376.3 522.5 376.5 522.7 376.6 524.2 376.7 526.5 376.9 526.3 377.0 524.9 377.1 525.7 377.3 528.2 377.4 521.9 377.5 526.2 377.7 523.3 377.8 527.6 377.9 523.7 378.1 524.3 378.2 522.2 378.3 524.3 378.5 525.9 378.6 527.7 378.7 522.0 378.9 523.8 379.0 532.5 379.1 526.7 379.3 524.9 379.4 526.1 379.5 519.8 379.7 528.4 379.8 525.5 379.9 522.3 380.0 527.4 380.2 523.6 380.3 522.6 380.4 525.4 380.6 525.0 380.7 523.2 380.8 523.9 381.0 521.5 381.1 520.0 381.2 526.4 381.4 527.5 381.5 526.0 381.6 526.1 381.8 524.8 381.9 525.4 382.0 523.8 382.2 529.2 382.3 524.4 382.4 526.3 382.6 525.4 382.7 522.5 382.8 529.1 383.0 524.5 383.1 523.7 383.2 525.6 383.4 523.6 383.5 525.6 383.6 523.8 383.8 527.1 383.9 526.3 384.0 523.7 384.2 528.8 384.3 527.3 384.4 525.0 384.6 528.2 384.7 528.5 384.8 531.6 385.0 526.3 385.1 530.0 385.2 528.3 385.4 529.9 385.5 528.3 385.6 528.7 385.8 529.8 385.9 526.3 386.0 524.2 386.2 528.2 386.3 527.0 386.4 527.7 386.6 528.5 386.7 526.5 386.8 529.2 387.0 526.6 387.1 527.0 387.2 528.6 387.3 529.0 387.5 527.4 387.6 528.3 387.7 527.0 387.9 527.7 388.0 529.6 388.1 531.3 388.3 529.1 388.4 531.8 388.5 534.2 388.7 534.6 388.8 530.3 388.9 532.4 389.1 531.5 389.2 531.9 389.3 532.1 389.5 531.7 389.6 533.4 389.7 531.5 389.9 530.9 390.0 532.2 390.1 533.0 390.3 534.7 390.4 533.3 390.5 534.2 390.7 535.8 390.8 531.2 390.9 532.4 391.1 534.2 391.2 533.1 391.3 530.7 391.5 534.4 391.6 531.9 391.7 529.6 391.9 535.2 392.0 528.5 392.1 531.0 392.3 529.5 392.4 531.2 392.5 531.9 392.7 529.0 392.8 530.4 392.9 530.1 393.1 527.4 393.2 532.7 393.3 530.7 393.5 529.8 393.6 529.0 393.7 529.8 393.9 530.8 394.0 529.6 394.1 533.1 394.3 525.5 394.4 526.4 394.5 530.4 394.7 527.4 394.8 531.3 394.9 530.4 395.0 533.2 395.2 533.2 395.3 535.3 395.4 534.7 395.6 535.6 395.7 534.8 395.8 535.4 396.0 534.3 396.1 532.1 396.2 530.7 396.4 530.8 396.5 534.7 396.6 528.3 396.8 533.5 396.9 531.5 397.0 534.5 397.2 533.3 397.3 531.4 397.4 533.0 397.6 528.5 397.7 533.9 397.8 534.7 398.0 530.3 398.1 536.2 398.2 534.5 398.4 535.5 398.5 532.1 398.6 536.4 398.8 536.3 398.9 535.1 399.0 533.1 399.2 536.7 399.3 537.8 399.4 536.2 399.6 538.6 399.7 534.4 399.8 536.0 400.0 536.5 400.1 536.0 400.2 541.4 400.4 536.4 400.5 534.1 400.6 537.7 400.8 532.6 400.9 535.4 401.0 536.1 401.2 533.5 401.3 533.9 401.4 532.7 401.6 534.9 401.7 533.4 401.8 538.3 402.0 536.1 402.1 534.3 402.2 531.8 402.4 539.0 402.5 537.6 402.6 536.2 402.7 536.0 402.9 536.7 403.0 535.6 403.1 540.8 403.3 537.7 403.4 534.5 403.5 536.1 403.7 531.9 403.8 538.1 403.9 537.9 404.1 539.4 404.2 539.6 404.3 533.3 404.5 535.6 404.6 536.5 404.7 536.0 404.9 533.4 405.0 536.2 405.1 535.7 405.3 537.6 405.4 534.9 405.5 534.7 405.7 534.4 405.8 534.9 405.9 534.4 406.1 535.6 406.2 537.5 406.3 537.6 406.5 540.9 406.6 540.2 406.7 537.9 406.9 534.0 407.0 538.1 407.1 538.4 407.3 533.2 407.4 533.4 407.5 533.7 407.7 533.5 407.8 535.1 407.9 533.9 408.1 536.7 408.2 533.5 408.3 535.8 408.5 535.3 408.6 534.5 408.7 538.9 408.9 537.0 409.0 538.3 409.1 536.5 409.3 538.7 409.4 539.0 409.5 536.5 409.7 532.9 409.8 537.9 409.9 537.2 410.1 535.8 410.2 535.5 410.3 534.8 410.4 534.5 410.6 531.6 410.7 533.0 410.8 533.2 411.0 530.8 411.1 529.6 411.2 534.9 411.4 531.9 411.5 529.7 411.6 528.6 411.8 524.4 411.9 526.6 412.0 528.8 412.2 531.7 412.3 524.7 412.4 527.3 412.6 532.6 412.7 530.1 412.8 529.6 413.0 531.3 413.1 528.9 413.2 529.0 413.4 531.0 413.5 531.5 413.6 527.8 413.8 533.3 413.9 526.8 414.0 529.1 414.2 536.8 414.3 529.6 414.4 532.1 414.6 527.9 414.7 530.3 414.8 529.0 415.0 530.4 415.1 532.8 415.2 535.3 415.4 533.9 415.5 535.7 415.6 531.4 415.8 536.4 415.9 535.0 416.0 537.0 416.2 533.4 416.3 534.6 416.4 538.4 416.6 537.4 416.7 536.9 416.8 535.8 417.0 537.5 417.1 539.2 417.2 540.0 417.4 537.7 417.5 538.3 417.6 540.0 417.7 536.9 417.9 541.2 418.0 539.4 418.1 539.2 418.3 534.5 418.4 536.3 418.5 537.5 418.7 538.4 418.8 537.3 418.9 540.4 419.1 539.8 419.2 538.9 419.3 535.2 419.5 542.3 419.6 538.7 419.7 541.0 419.9 537.6 420.0 538.8 420.1 540.9 420.3 539.1 420.4 540.5 420.5 538.0 420.7 542.6 420.8 532.5 420.9 537.4 421.1 540.7 421.2 538.3 421.3 538.1 421.5 535.5 421.6 541.8 421.7 535.4 421.9 540.4 422.0 539.7 422.1 541.1 422.3 542.3 422.4 537.0 422.5 537.6 422.7 538.8 422.8 536.1 422.9 542.6 423.1 539.2 423.2 541.2 423.3 538.9 423.5 541.6 423.6 540.6 423.7 542.0 423.9 540.2 424.0 544.8 424.1 541.5 424.3 537.7 424.4 544.5 424.5 542.6 424.7 541.4 424.8 548.5 424.9 543.0 425.1 540.1 425.2 541.5 425.3 543.4 425.4 542.1 425.6 545.3 425.7 545.0 425.8 541.3 426.0 543.1 426.1 544.5 426.2 542.4 426.4 542.3 426.5 545.1 426.6 544.2 426.8 540.4 426.9 542.3 427.0 542.6 427.2 543.3 427.3 542.1 427.4 546.5 427.6 541.6 427.7 540.2 427.8 544.0 428.0 538.7 428.1 541.2 428.2 544.6 428.4 540.5 428.5 541.4 428.6 545.5 428.8 544.3 428.9 543.5 429.0 544.1 429.2 542.4 429.3 544.7 429.4 543.9 429.6 549.8 429.7 545.9 429.8 544.2 430.0 544.9 430.1 545.1 430.2 542.0 430.4 543.0 430.5 547.8 430.6 539.8 430.8 542.8 430.9 546.0 431.0 546.8 431.2 541.4 431.3 546.7 431.4 542.9 431.6 549.1 431.7 545.2 431.8 543.7 432.0 546.1 432.1 546.0 432.2 543.4 432.4 549.7 432.5 544.5 432.6 547.6 432.8 544.1 432.9 541.1 433.0 542.3 433.1 544.2 433.3 545.7 433.4 547.8 433.5 544.1 433.7 543.3 433.8 541.3 433.9 544.0 434.1 544.9 434.2 537.3 434.3 547.3 434.5 547.1 434.6 549.5 434.7 542.7 434.9 544.6 435.0 544.5 435.1 541.5 435.3 542.4 435.4 542.2 435.5 545.4 435.7 545.3 435.8 547.4 435.9 543.8 436.1 541.7 436.2 545.6 436.3 545.3 436.5 546.5 436.6 546.9 436.7 542.9 436.9 545.8 437.0 541.9 437.1 544.5 437.3 545.7 437.4 544.2 437.5 545.1 437.7 541.9 437.8 543.7 437.9 545.6 438.1 542.9 438.2 543.8 438.3 550.9 438.5 546.3 438.6 544.1 438.7 543.8 438.9 549.1 439.0 540.3 439.1 545.6 439.3 547.7 439.4 545.2 439.5 547.4 439.7 544.0 439.8 546.1 439.9 546.1 440.1 546.1 440.2 546.4 440.3 546.2 440.4 548.8 440.6 546.1 440.7 544.9 440.8 546.5 441.0 546.6 441.1 544.2 441.2 543.5 441.4 544.8 441.5 548.4 441.6 546.5 441.8 547.1 441.9 554.3 442.0 550.7 442.2 547.9 442.3 547.0 442.4 551.3 442.6 546.6 442.7 550.7 442.8 549.2 443.0 550.7 443.1 545.9 443.2 549.2 443.4 543.2 443.5 546.5 443.6 549.0 443.8 547.9 443.9 542.3 444.0 547.6 444.2 547.1 444.3 546.0 444.4 544.8 444.6 545.9 444.7 545.5 444.8 548.9 445.0 548.0 445.1 549.4 445.2 548.6 445.4 544.4 445.5 547.4 445.6 551.6 445.8 544.7 445.9 547.6 446.0 545.3 446.2 545.1 446.3 547.5 446.4 549.2 446.6 549.0 446.7 548.6 446.8 549.9 447.0 544.7 447.1 550.3 447.2 550.0 447.4 548.8 447.5 549.4 447.6 547.7 447.8 552.1 447.9 547.9 448.0 546.1 448.1 549.0 448.3 547.5 448.4 548.2 448.5 551.2 448.7 547.4 448.8 547.7 448.9 552.2 449.1 544.3 449.2 548.2 449.3 550.2 449.5 551.3 449.6 553.3 449.7 547.5 449.9 550.7 450.0 549.6 450.1 549.2 450.3 548.9 450.4 547.5 450.5 551.4 450.7 552.2 450.8 548.0 450.9 551.7 451.1 548.6 451.2 547.3 451.3 543.5 451.5 551.3 451.6 550.2 451.7 547.8 451.9 547.5 452.0 545.3 452.1 549.1 452.3 547.8 452.4 549.0 452.5 548.2 452.7 543.2 452.8 544.7 452.9 549.2 453.1 544.9 453.2 549.5 453.3 551.3 453.5 546.9 453.6 551.3 453.7 550.1 453.9 551.2 454.0 548.7 454.1 549.9 454.3 550.6 454.4 553.4 454.5 550.7 454.7 549.9 454.8 545.7 454.9 548.9 455.1 546.4 455.2 547.6 455.3 548.2 455.5 549.7 455.6 548.9 455.7 548.2 455.8 547.8 456.0 551.0 456.1 546.2 456.2 548.3 456.4 551.2 456.5 547.7 456.6 550.6 456.8 549.7 456.9 551.9 457.0 549.8 457.2 543.6 457.3 546.9 457.4 547.3 457.6 548.3 457.7 547.2 457.8 552.3 458.0 548.5 458.1 543.6 458.2 544.8 458.4 539.5 458.5 550.2 458.6 546.4 458.8 546.8 458.9 544.1 459.0 547.0 459.2 549.3 459.3 547.9 459.4 548.3 459.6 548.1 459.7 555.9 459.8 548.6 460.0 544.9 460.1 548.7 460.2 549.1 460.4 549.7 460.5 549.3 460.6 547.4 460.8 549.4 460.9 550.6 461.0 546.7 461.2 553.9 461.3 553.1 461.4 545.2 461.6 548.2 461.7 550.9 461.8 551.5 462.0 552.5 462.1 544.7 462.2 546.6 462.4 548.3 462.5 551.2 462.6 548.4 462.8 552.3 462.9 552.9 463.0 553.9 463.2 549.6 463.3 552.7 463.4 552.1 463.5 550.5 463.7 553.7 463.8 549.5 463.9 552.7 464.1 547.7 464.2 552.3 464.3 552.0 464.5 545.4 464.6 548.9 464.7 549.0 464.9 546.0 465.0 549.7 465.1 549.2 465.3 544.8 465.4 547.8 465.5 549.2 465.7 546.7 465.8 545.2 465.9 550.0 466.1 544.1 466.2 547.1 466.3 548.4 466.5 547.7 466.6 542.0 466.7 545.5 466.9 546.1 467.0 546.2 467.1 548.4 467.3 548.5 467.4 547.9 467.5 548.5 467.7 550.4 467.8 551.1 467.9 544.4 468.1 553.4 468.2 547.5 468.3 550.3 468.5 545.0 468.6 547.3 468.7 545.6 468.9 550.6 469.0 550.0 469.1 548.0 469.3 547.6 469.4 548.7 469.5 545.8 469.7 546.5 469.8 546.3 469.9 549.8 470.1 548.2 470.2 545.6 470.3 549.3 470.5 549.8 470.6 551.8 470.7 547.1 470.8 549.9 471.0 553.7 471.1 548.5 471.2 548.6 471.4 550.6 471.5 548.7 471.6 550.0 471.8 549.1 471.9 548.7 472.0 552.5 472.2 549.9 472.3 548.5 472.4 550.1 472.6 550.3 472.7 551.1 472.8 553.3 473.0 553.9 473.1 547.1 473.2 548.6 473.4 545.1 473.5 549.1 473.6 549.3 473.8 546.4 473.9 545.5 474.0 545.1 474.2 543.7 474.3 548.2 474.4 550.8 474.6 544.1 474.7 550.1 474.8 546.5 475.0 543.9 475.1 548.4 475.2 549.1 475.4 548.6 475.5 547.3 475.6 551.5 475.8 547.1 475.9 548.8 476.0 548.3 476.2 544.5 476.3 539.8 476.4 541.7 476.6 544.2 476.7 545.6 476.8 539.0 477.0 543.3 477.1 548.4 477.2 541.4 477.4 546.5 477.5 546.5 477.6 547.6 477.8 542.8 477.9 546.8 478.0 543.1 478.2 549.0 478.3 544.2 478.4 546.8 478.5 544.3 478.7 546.3 478.8 542.8 478.9 546.8 479.1 547.6 479.2 546.3 479.3 550.0 479.5 547.4 479.6 548.3 479.7 548.0 479.9 550.4 480.0 544.8 480.1 545.4 480.3 545.4 480.4 547.0 480.5 546.1 480.7 547.1 480.8 545.7 480.9 543.7 481.1 544.4 481.2 545.2 481.3 539.1 481.5 546.8 481.6 542.5 481.7 543.0 481.9 544.5 482.0 543.7 482.1 541.4 482.3 544.0 482.4 548.0 482.5 547.5 482.7 548.0 482.8 544.1 482.9 544.8 483.1 547.4 483.2 548.2 483.3 545.0 483.5 541.6 483.6 540.5 483.7 547.7 483.9 541.3 484.0 545.4 484.1 547.2 484.3 551.2 484.4 544.4 484.5 543.6 484.7 544.5 484.8 544.3 484.9 545.8 485.1 544.7 485.2 540.5 485.3 537.3 485.5 542.2 485.6 539.8 485.7 544.0 485.9 537.8 486.0 541.0 486.1 538.6 486.2 538.1 486.4 543.4 486.5 540.3 486.6 539.3 486.8 541.1 486.9 537.6 487.0 538.1 487.2 537.0 487.3 542.0 487.4 537.8 487.6 538.3 487.7 537.8 487.8 534.2 488.0 533.3 488.1 529.3 488.2 532.7 488.4 531.3 488.5 528.9 488.6 531.2 488.8 524.0 488.9 527.6 489.0 522.9 489.2 522.3 489.3 523.1 489.4 525.0 489.6 518.6 489.7 517.6 489.8 515.7 490.0 520.6 490.1 516.0 490.2 514.1 490.4 515.6 490.5 510.5 M512.5 511.8 512.7 513.7 512.8 511.3 512.9 512.7 513.1 513.5 513.2 512.0 513.3 514.5 513.5 518.3 513.6 516.6 513.7 519.1 513.9 518.5 514.0 519.4 514.1 517.7 514.3 519.5 514.4 522.4 514.5 521.7 514.7 519.8 514.8 518.1 514.9 517.2 515.1 521.0 515.2 522.0 515.3 518.0 515.5 522.8 515.6 523.6 515.7 524.0 515.9 522.8 516.0 529.1 516.1 526.5 516.3 522.4 516.4 524.2 516.5 527.9 516.6 527.9 516.8 527.7 516.9 527.9 517.0 528.1 517.2 528.1 517.3 527.2 517.4 530.8 517.6 523.9 517.7 528.2 517.8 532.3 518.0 528.0 518.1 527.1 518.2 533.6 518.4 531.9 518.5 529.6 518.6 529.0 518.8 530.1 518.9 530.3 519.0 530.9 519.2 530.2 519.3 533.2 519.4 531.2 519.6 528.7 519.7 529.8 519.8 532.5 520.0 530.3 520.1 524.4 520.2 535.2 520.4 532.8 520.5 530.6 520.6 530.2 520.8 532.2 520.9 533.8 521.0 529.4 521.2 531.4 521.3 529.1 521.4 530.9 521.6 527.6 521.7 525.9 521.8 529.7 522.0 529.0 522.1 530.4 522.2 527.2 522.4 531.2 522.5 528.3 522.6 531.1 522.8 527.0 522.9 530.7 523.0 527.3 523.2 527.6 523.3 529.1 523.4 523.3 523.6 524.6 523.7 530.4 523.8 523.3 523.9 525.3 524.1 527.3 524.2 529.0 524.3 524.7 524.5 525.7 524.6 522.8 524.7 523.9 524.9 526.5 525.0 524.6 525.1 523.4 525.3 524.1 525.4 523.2 525.5 522.9 525.7 521.4 525.8 519.7 525.9 522.7 526.1 518.5 526.2 522.6 526.3 524.5 526.5 523.1 526.6 524.6 526.7 517.7 526.9 520.4 527.0 518.3 527.1 518.6 527.3 516.7 527.4 517.8 527.5 522.0 527.7 521.6 527.8 523.6 527.9 522.0 528.1 520.9 528.2 517.2 528.3 518.1 528.5 519.4 528.6 520.0 528.7 516.4 528.9 515.9 529.0 515.7 529.1 519.6 529.3 517.3 529.4 515.3 529.5 514.2 529.7 516.5 529.8 512.1 529.9 514.9 530.1 514.2 530.2 514.1 530.3 515.6 530.5 515.9 530.6 521.0 530.7 514.9 530.9 515.9 531.0 512.6 531.1 510.6 531.3 515.8 531.4 517.1 531.5 510.9 531.6 512.3 531.8 514.3 531.9 512.0 532.0 506.8 532.2 513.2 532.3 510.8 532.4 512.3 532.6 508.9 532.7 512.6 532.8 512.9 533.0 509.5 533.1 512.0 533.2 509.8 533.4 510.1 533.5 509.3 533.6 510.1 533.8 509.3 533.9 512.6 534.0 509.5 534.2 507.2 M570.4 511.9 570.5 505.9 570.7 512.6 570.8 513.9 570.9 512.1 571.1 513.2 571.2 512.7 571.3 514.8 571.5 516.7 571.6 518.9 571.7 519.2 571.9 516.0 572.0 515.1 572.1 518.9 572.3 511.8 572.4 514.7 572.5 518.9 572.7 522.2 572.8 516.5 572.9 518.5 573.1 516.5 573.2 519.0 573.3 519.6 573.5 519.0 573.6 522.1 573.7 521.9 573.9 524.1 574.0 523.3 574.1 522.2 574.3 525.4 574.4 527.2 574.5 524.2 574.7 528.6 574.8 526.9 574.9 525.3 575.1 526.1 575.2 525.2 575.3 524.2 575.5 527.9 575.6 528.1 575.7 525.6 575.9 526.5 576.0 526.9 576.1 529.3 576.3 531.5 576.4 527.9 576.5 530.5 576.7 530.5 576.8 532.3 576.9 534.6 577.0 530.4 577.2 526.4 577.3 532.7 577.4 530.2 577.6 537.1 577.7 532.5 577.8 533.6 578.0 534.8 578.1 534.8 578.2 533.5 578.4 534.4 578.5 536.3 578.6 533.8 578.8 538.2 578.9 535.3 579.0 529.9 579.2 536.8 579.3 531.7 579.4 536.4 579.6 540.6 579.7 538.5 579.8 534.2 580.0 535.0 580.1 536.8 580.2 539.8 580.4 535.4 580.5 539.1 580.6 537.4 580.8 536.5 580.9 536.2 581.0 539.8 581.2 533.0 581.3 533.4 581.4 537.4 581.6 537.4 581.7 532.5 581.8 533.3 582.0 532.9 582.1 536.6 582.2 534.4 582.4 539.1 582.5 538.2 582.6 537.6 582.8 537.9 582.9 539.1 583.0 540.2 583.2 538.8 583.3 539.6 583.4 541.8 583.6 539.4 583.7 541.8 583.8 539.6 584.0 538.5 584.1 540.8 584.2 544.2 584.4 544.3 584.5 538.2 584.6 542.9 584.7 541.2 584.9 541.9 585.0 542.1 585.1 542.5 585.3 541.4 585.4 542.4 585.5 543.3 585.7 540.1 585.8 539.8 585.9 539.8 586.1 539.6 586.2 543.2 586.3 539.7 586.5 542.1 586.6 542.7 586.7 544.4 586.9 543.2 587.0 546.7 587.1 543.2 587.3 543.8 587.4 544.7 587.5 539.7 587.7 543.8 587.8 545.5 587.9 542.3 588.1 541.5 588.2 546.1 588.3 542.6 588.5 545.2 588.6 537.8 588.7 543.4 588.9 541.8 589.0 544.4 589.1 546.1 589.3 543.2 589.4 542.9 589.5 537.2 589.7 544.7 589.8 545.9 589.9 543.5 590.1 542.4 590.2 544.5 590.3 546.4 590.5 546.0 590.6 549.5 590.7 544.4 590.9 543.1 591.0 547.4 591.1 549.3 591.3 545.8 591.4 546.8 591.5 545.4 591.7 543.9 591.8 544.6 591.9 541.4 592.1 545.8 592.2 545.7 592.3 546.2 592.4 542.2 592.6 542.3 592.7 540.0 592.8 540.4 593.0 545.4 593.1 549.6 593.2 541.5 593.4 543.0 593.5 546.0 593.6 542.6 593.8 545.6 593.9 543.9 594.0 544.2 594.2 547.1 594.3 545.0 594.4 543.2 594.6 548.0 594.7 546.7 594.8 545.7 595.0 545.4 595.1 548.5 595.2 545.7 595.4 547.5 595.5 549.2 595.6 546.6 595.8 548.9 595.9 543.4 596.0 547.4 596.2 547.1 596.3 551.8 596.4 545.8 596.6 547.6 596.7 545.4 596.8 543.4 597.0 543.8 597.1 543.5 597.2 547.4 597.4 544.2 597.5 546.1 597.6 548.2 597.8 549.2 597.9 548.9 598.0 550.3 598.2 544.8 598.3 546.2 598.4 548.2 598.6 550.7 598.7 548.0 598.8 545.2 599.0 546.4 599.1 543.3 599.2 548.5 599.4 542.9 599.5 547.1 599.6 548.9 599.7 548.4 599.9 541.2 600.0 546.8 600.1 545.8 600.3 546.1 600.4 550.5 600.5 547.9 600.7 544.6 600.8 544.4 600.9 549.5 601.1 548.6 601.2 544.6 601.3 544.8 601.5 547.3 601.6 547.7 601.7 550.5 601.9 547.5 602.0 550.2 602.1 551.2 602.3 545.0 602.4 546.2 602.5 551.1 602.7 546.5 602.8 547.2 602.9 549.2 603.1 545.4 603.2 546.2 603.3 543.6 603.5 548.4 603.6 546.1 603.7 546.4 603.9 541.6 604.0 549.1 604.1 548.4 604.3 544.3 604.4 549.4 604.5 538.6 604.7 546.1 604.8 542.3 604.9 551.3 605.1 539.5 605.2 542.0 605.3 542.7 605.5 545.9 605.6 545.9 605.7 545.1 605.9 544.0 606.0 549.5 606.1 543.7 606.3 546.3 606.4 549.8 606.5 543.8 606.7 545.0 606.8 549.4 606.9 548.3 607.1 544.8 607.2 548.0 607.3 552.4 607.4 548.0 607.6 550.6 607.7 549.4 607.8 547.9 608.0 552.9 608.1 551.6 608.2 552.1 608.4 549.0 608.5 549.4 608.6 549.5 608.8 549.8 608.9 548.0 609.0 547.5 609.2 551.4 609.3 546.2 609.4 547.7 609.6 547.9 609.7 547.6 609.8 546.2 610.0 547.1 610.1 550.5 610.2 547.9 610.4 547.1 610.5 552.3 610.6 545.9 610.8 551.1 610.9 549.8 611.0 546.4 611.2 548.7 611.3 548.9 611.4 552.7 611.6 552.0 611.7 549.4 611.8 547.3 612.0 546.1 612.1 549.1 612.2 546.3 612.4 548.7 612.5 548.4 612.6 549.5 612.8 550.7 612.9 548.6 613.0 549.7 613.2 547.8 613.3 550.4 613.4 549.9 613.6 551.6 613.7 551.1 613.8 546.6 614.0 545.0 614.1 549.5 614.2 550.5 614.4 546.5 614.5 551.2 614.6 548.1 614.8 547.7 614.9 548.7 615.0 545.0 615.1 544.6 615.3 547.5 615.4 544.4 615.5 548.4 615.7 548.5 615.8 540.2 615.9 547.0 616.1 550.0 616.2 544.1 616.3 548.7 616.5 546.9 616.6 545.9 616.7 552.9 616.9 553.2 617.0 550.2 617.1 549.5 617.3 554.4 617.4 554.1 617.5 551.5 617.7 553.6 617.8 552.2 617.9 551.5 618.1 553.8 618.2 551.9 618.3 554.4 618.5 552.8 618.6 552.4 618.7 552.1 618.9 554.0 619.0 554.6 619.1 552.9 619.3 549.4 619.4 551.9 619.5 548.0 619.7 547.1 619.8 548.8 619.9 551.0 620.1 550.8 620.2 550.7 620.3 552.6 620.5 551.7 620.6 549.2 620.7 551.8 620.9 549.6 621.0 551.2 621.1 551.9 621.3 550.7 621.4 548.0 621.5 551.2 621.7 551.1 621.8 551.6 621.9 550.9 622.1 549.2 622.2 547.8 622.3 552.2 622.5 551.9 622.6 550.5 622.7 549.2 622.8 553.1 623.0 550.0 623.1 548.4 623.2 550.0 623.4 548.1 623.5 549.9 623.6 549.3 623.8 550.2 623.9 549.7 624.0 549.1 624.2 551.6 624.3 553.3 624.4 549.3 624.6 550.3 624.7 549.1 624.8 553.4 625.0 551.0 625.1 553.2 625.2 549.5 625.4 552.9 625.5 549.7 625.6 549.7 625.8 551.7 625.9 549.4 626.0 548.8 626.2 551.8 626.3 549.6 626.4 552.3 626.6 555.0 626.7 548.4 626.8 549.0 627.0 546.6 627.1 547.4 627.2 552.0 627.4 550.8 627.5 550.9 627.6 551.3 627.8 548.6 627.9 546.8 628.0 552.8 628.2 551.1 628.3 553.1 628.4 550.7 628.6 552.5 628.7 549.8 628.8 550.9 629.0 550.5 629.1 551.6 629.2 553.6 629.4 551.9 629.5 544.2 629.6 550.0 629.8 550.4 629.9 552.1 630.0 550.8 630.1 549.2 630.3 549.1 630.4 550.1 630.5 549.3 630.7 553.8 630.8 551.9 630.9 550.5 631.1 552.2 631.2 554.6 631.3 549.6 631.5 550.0 631.6 549.7 631.7 548.1 631.9 549.9 632.0 549.8 632.1 553.3 632.3 553.8 632.4 555.1 632.5 551.9 632.7 555.9 632.8 551.8 632.9 553.5 633.1 556.7 633.2 556.4 633.3 555.9 633.5 557.9 633.6 555.3 633.7 552.1 633.9 551.7 634.0 550.0 634.1 551.7 634.3 549.1 634.4 548.2 634.5 547.8 634.7 544.3 634.8 554.9 634.9 551.5 635.1 545.2 635.2 550.6 635.3 548.4 635.5 545.0 635.6 549.0 635.7 549.8 635.9 550.5 636.0 551.7 636.1 547.6 636.3 549.5 636.4 551.2 636.5 551.2 636.7 551.0 636.8 550.5 636.9 552.9 637.1 547.5 637.2 546.9 637.3 553.7 637.5 550.8 637.6 552.4 637.7 550.6 637.8 549.6 638.0 549.6 638.1 551.2 638.2 550.2 638.4 551.3 638.5 551.4 638.6 554.3 638.8 553.4 638.9 555.1 639.0 550.0 639.2 551.2 639.3 553.1 639.4 551.5 639.6 545.3 639.7 551.0 639.8 550.0 640.0 548.7 640.1 548.7 640.2 547.9 640.4 551.9 640.5 551.0 640.6 550.5 640.8 552.4 640.9 552.3 641.0 548.9 641.2 548.7 641.3 549.0 641.4 552.8 641.6 551.2 641.7 553.6 641.8 551.9 642.0 549.9 642.1 547.5 642.2 549.2 642.4 554.2 642.5 547.8 642.6 547.4 642.8 548.6 642.9 552.0 643.0 549.1 643.2 546.9 643.3 548.0 643.4 549.1 643.6 549.5 643.7 551.4 643.8 554.4 644.0 551.8 644.1 550.1 644.2 548.6 644.4 546.9 644.5 549.8 644.6 551.3 644.8 550.4 644.9 548.5 645.0 550.3 645.2 548.6 645.3 548.8 645.4 548.7 645.5 549.4 645.7 549.0 645.8 551.2 645.9 549.0 646.1 548.7 646.2 550.9 646.3 550.1 646.5 550.9 646.6 546.9 646.7 551.3 646.9 548.5 647.0 546.4 647.1 548.3 647.3 546.1 647.4 545.7 647.5 547.9 647.7 550.8 647.8 546.1 647.9 549.6 648.1 548.7 648.2 552.8 648.3 550.4 648.5 551.7 648.6 553.9 648.7 549.2 648.9 551.2 649.0 549.2 649.1 550.8 649.3 553.4 649.4 552.4 649.5 553.5 649.7 551.6 649.8 550.8 649.9 551.6 650.1 549.7 650.2 547.8 650.3 547.6 650.5 550.3 650.6 551.3 650.7 547.6 650.9 549.1 651.0 545.3 651.1 547.8 651.3 550.6 651.4 548.0 651.5 551.9 651.7 550.4 651.8 552.1 651.9 550.3 652.1 548.4 652.2 551.3 652.3 552.6 652.5 549.8 652.6 551.4 652.7 548.7 652.8 549.1 653.0 552.0 653.1 549.0 653.2 546.7 653.4 549.6 653.5 548.3 653.6 547.1 653.8 549.7 653.9 542.4 654.0 550.1 654.2 553.3 654.3 550.4 654.4 546.4 654.6 553.8 654.7 556.8 654.8 553.2 655.0 550.3 655.1 551.7 655.2 553.5 655.4 554.8 655.5 557.4 655.6 556.7 655.8 551.2 655.9 555.6 656.0 556.0 656.2 560.0 656.3 554.6 656.4 552.4 656.6 554.2 656.7 554.9 656.8 550.0 657.0 555.8 657.1 553.1 657.2 555.1 657.4 554.9 657.5 554.8 657.6 557.0 657.8 557.8 657.9 553.8 658.0 554.7 658.2 557.3 658.3 555.5 658.4 554.0 658.6 555.5 658.7 553.4 658.8 554.0 659.0 547.7 659.1 555.0 659.2 558.4 659.4 555.7 659.5 555.4 659.6 554.0 659.8 551.7 659.9 554.0 660.0 552.8 660.2 552.1 660.3 552.6 660.4 550.7 660.5 551.9 660.7 552.9 660.8 553.6 660.9 551.8 661.1 553.4 661.2 552.4 661.3 547.6 661.5 548.8 661.6 553.1 661.7 551.7 661.9 555.8 662.0 552.3 662.1 554.6 662.3 554.5 662.4 554.2 662.5 554.5 662.7 555.5 662.8 555.5 662.9 553.8 663.1 554.9 663.2 555.3 663.3 553.5 663.5 552.3 663.6 552.2 663.7 552.6 663.9 552.5 664.0 553.8 664.1 559.3 664.3 555.9 664.4 553.5 664.5 554.6 664.7 554.4 664.8 555.7 664.9 556.0 665.1 550.9 665.2 557.8 665.3 550.4 665.5 553.5 665.6 551.8 665.7 550.2 665.9 550.3 666.0 558.7 666.1 558.0 666.3 553.1 666.4 553.2 666.5 559.2 666.7 554.2 666.8 557.5 666.9 561.0 667.1 558.3 667.2 559.8 667.3 557.0 667.5 552.7 667.6 554.4 667.7 552.2 667.9 556.5 668.0 552.8 668.1 555.8 668.2 554.4 668.4 554.0 668.5 556.5 668.6 554.4 668.8 553.5 668.9 558.5 669.0 555.1 669.2 552.0 669.3 557.6 669.4 552.0 669.6 555.5 669.7 556.0 669.8 554.3 670.0 553.0 670.1 554.0 670.2 553.9 670.4 552.3 670.5 556.6 670.6 553.5 670.8 553.4 670.9 558.0 671.0 553.7 671.2 552.2 671.3 555.5 671.4 555.9 671.6 556.0 671.7 560.4 671.8 554.6 672.0 558.4 672.1 557.1 672.2 558.0 672.4 554.3 672.5 553.5 672.6 553.5 672.8 554.5 672.9 555.8 673.0 557.3 673.2 550.0 673.3 557.4 673.4 554.9 673.6 554.5 673.7 552.4 673.8 555.8 674.0 551.5 674.1 558.5 674.2 554.2 674.4 556.4 674.5 556.8 674.6 558.8 674.8 555.0 674.9 559.9 675.0 559.6 675.2 561.6 675.3 558.8 675.4 557.8 675.6 553.8 675.7 556.9 675.8 561.1 675.9 556.4 676.1 556.2 676.2 556.8 676.3 558.9 676.5 553.2 676.6 560.9 676.7 558.4 676.9 558.7 677.0 557.2 677.1 561.5 677.3 556.3 677.4 559.1 677.5 557.6 677.7 554.6 677.8 557.0 677.9 558.8 678.1 556.5 678.2 555.9 678.3 556.4 678.5 554.1 678.6 553.1 678.7 555.2 678.9 552.5 679.0 555.4 679.1 555.4 679.3 556.5 679.4 555.8 679.5 553.3 679.7 555.1 679.8 552.2 679.9 556.2 680.1 554.7 680.2 559.2 680.3 554.3 680.5 556.9 680.6 554.7 680.7 557.4 680.9 556.9 681.0 552.9 681.1 558.9 681.3 555.4 681.4 551.1 681.5 552.3 681.7 550.5 681.8 550.4 681.9 554.8 682.1 551.0 682.2 556.7 682.3 552.7 682.5 555.7 682.6 560.6 682.7 556.3 682.9 557.2 683.0 560.1 683.1 556.8 683.2 558.6 683.4 555.6 683.5 556.4 683.6 557.2 683.8 556.7 683.9 554.6 684.0 556.4 684.2 556.8 684.3 556.6 684.4 555.0 684.6 552.6 684.7 556.1 684.8 556.5 685.0 552.7 685.1 550.1 685.2 555.0 685.4 557.9 685.5 557.8 685.6 553.5 685.8 559.0 685.9 554.1 686.0 557.8 686.2 554.6 686.3 557.4 686.4 556.1 686.6 554.3 686.7 556.2 686.8 553.3 687.0 554.1 687.1 554.5 687.2 552.9 687.4 558.3 687.5 558.9 687.6 557.5 687.8 556.0 687.9 559.5 688.0 559.4 688.2 560.3 688.3 558.8 688.4 558.1 688.6 561.2 688.7 555.8 688.8 556.9 689.0 553.0 689.1 555.6 689.2 555.0 689.4 554.9 689.5 556.7 689.6 554.0 689.8 556.1 689.9 553.9 690.0 554.3 690.2 551.4 690.3 556.6 690.4 557.4 690.6 554.4 690.7 555.6 690.8 553.4 690.9 556.5 691.1 555.7 691.2 559.1 691.3 558.0 691.5 559.5 691.6 556.1 691.7 553.9 691.9 557.1 692.0 555.7 692.1 560.7 692.3 557.0 692.4 559.5 692.5 557.5 692.7 555.8 692.8 553.2 692.9 556.1 693.1 558.1 693.2 557.0 693.3 557.6 693.5 557.5 693.6 553.7 693.7 557.1 693.9 553.4 694.0 555.7 694.1 558.5 694.3 551.1 694.4 554.7 694.5 556.2 694.7 558.0 694.8 556.2 694.9 554.7 695.1 558.6 695.2 558.5 695.3 553.6 695.5 557.6 695.6 553.7 695.7 551.5 695.9 554.8 696.0 554.7 696.1 551.9 696.3 560.5 696.4 553.7 696.5 557.5 696.7 558.6 696.8 562.1 696.9 557.0 697.1 561.6 697.2 555.9 697.3 558.5 697.5 557.8 697.6 555.5 697.7 559.5 697.9 563.0 698.0 563.5 698.1 560.5 698.3 556.6 698.4 557.5 698.5 560.7 698.6 560.7 698.8 560.7 698.9 558.8 699.0 557.3 699.2 560.0 699.3 558.7 699.4 561.5 699.6 556.6 699.7 559.6 699.8 560.4 700.0 561.5 700.1 561.2 700.2 554.4 700.4 553.9 700.5 556.7 700.6 554.4 700.8 551.1 700.9 559.5 701.0 557.9 701.2 558.6 701.3 556.7 701.4 560.2 701.6 556.8 701.7 556.3 701.8 560.0 702.0 552.9 702.1 557.0 702.2 551.4 702.4 557.9 702.5 553.8 702.6 551.5 702.8 550.1 702.9 553.4 703.0 558.6 703.2 555.6 703.3 551.4 703.4 550.7 703.6 561.9 703.7 554.2 703.8 553.4 704.0 557.4 704.1 558.8 704.2 561.5 704.4 557.9 704.5 557.0 704.6 560.3 704.8 557.1 704.9 559.7 705.0 559.2 705.2 560.9 705.3 557.1 705.4 557.1 705.6 559.1 705.7 559.5 705.8 555.2 705.9 555.8 706.1 558.9 706.2 557.7 706.3 563.7 706.5 560.3 706.6 561.5 706.7 558.7 706.9 559.1 707.0 559.3 707.1 561.5 707.3 558.4 707.4 562.6 707.5 557.4 707.7 561.2 707.8 559.4 707.9 557.9 708.1 562.2 708.2 560.9 708.3 558.4 708.5 557.3 708.6 561.0 708.7 557.5 708.9 560.6 709.0 557.3 709.1 559.4 709.3 557.0 709.4 558.1 709.5 561.9 709.7 561.8 709.8 556.7 709.9 557.0 710.1 553.9 710.2 558.3 710.3 560.2 710.5 555.9 710.6 556.0 710.7 558.9 710.9 557.1 711.0 558.9 711.1 562.1 711.3 559.8 711.4 560.3 711.5 562.9 711.7 559.1 711.8 559.9 711.9 558.3 712.1 556.2 712.2 563.0 712.3 554.4 712.5 557.6 712.6 554.8 712.7 555.5 712.9 554.5 713.0 556.7 713.1 558.6 713.3 559.7 713.4 552.4 713.5 556.7 713.6 554.9 713.8 554.0 713.9 554.6 714.0 555.1 714.2 553.8 714.3 553.7 714.4 560.6 714.6 553.4 714.7 553.7 714.8 550.4 715.0 555.5 715.1 552.3 715.2 553.7 715.4 552.9 715.5 555.1 715.6 553.9 715.8 553.8 715.9 554.0 716.0 556.6 716.2 557.6 716.3 559.1 716.4 561.0 716.6 561.2 716.7 555.4 716.8 555.0 717.0 558.1 717.1 554.4 717.2 558.8 717.4 558.7 717.5 554.4 717.6 558.2 717.8 559.8 717.9 557.7 718.0 556.1 718.2 556.3 718.3 557.7 718.4 554.9 718.6 557.3 718.7 556.0 718.8 555.0 719.0 554.7 719.1 558.4 719.2 555.6 719.4 558.6 719.5 554.5 719.6 558.5 719.8 559.7 719.9 560.5 720.0 561.9 720.2 560.8 720.3 560.6 720.4 558.3 720.6 556.0 720.7 555.2 720.8 555.4 721.0 557.2 721.1 558.5 721.2 556.9 721.3 556.5 721.5 557.7 721.6 555.3 721.7 556.5 721.9 555.8 722.0 556.6 722.1 555.6 722.3 553.2 722.4 554.7 722.5 554.1 722.7 559.7 722.8 560.8 722.9 554.9 723.1 553.8 723.2 556.9 723.3 553.9 723.5 560.2 723.6 557.6 723.7 556.8 723.9 560.2 724.0 560.7 724.1 558.1 724.3 559.8 724.4 553.7 724.5 555.4 724.7 555.0 724.8 553.1 724.9 558.4 725.1 561.8 725.2 553.6 725.3 555.4 725.5 559.0 725.6 556.0 725.7 556.6 725.9 554.8 726.0 557.6 726.1 554.4 726.3 558.2 726.4 557.8 726.5 557.6 726.7 555.2 726.8 556.5 726.9 557.9 727.1 553.9 727.2 554.5 727.3 551.5 727.5 555.1 727.6 555.7 727.7 557.9 727.9 552.9 728.0 552.1 728.1 557.7 728.3 557.3 728.4 551.0 728.5 553.6 728.7 550.8 728.8 554.8 728.9 558.1 729.0 557.4 729.2 553.8 729.3 557.2 729.4 555.5 729.6 558.1 729.7 555.9 729.8 559.2 730.0 560.6 730.1 558.6 730.2 558.6 730.4 558.5 730.5 559.5 730.6 556.6 730.8 557.2 730.9 557.3 731.0 560.5 731.2 558.0 731.3 559.5 731.4 556.7 731.6 553.0 731.7 556.7 731.8 558.3 732.0 556.6 732.1 556.2 732.2 556.8 732.4 559.0 732.5 559.1 732.6 558.4 732.8 556.6 732.9 557.2 733.0 570.6 733.2 558.4 733.3 560.0 733.4 559.3 733.6 555.5 733.7 561.3 733.8 558.5 734.0 555.2 734.1 559.5 734.2 555.7 734.4 557.9 734.5 554.0 734.6 556.3 734.8 558.7 734.9 555.4 735.0 553.4 735.2 554.7 735.3 558.1 735.4 553.2 735.6 553.8 735.7 558.6 735.8 557.3 736.0 557.1 736.1 556.3 736.2 558.3 736.3 559.4 736.5 558.7 736.6 554.0 736.7 559.3 736.9 554.3 737.0 561.7 737.1 557.0 737.3 559.4 737.4 558.8 737.5 556.8 737.7 560.9 737.8 558.9 737.9 563.1 738.1 559.9 738.2 559.2 738.3 564.1 738.5 561.7 738.6 558.8 738.7 557.2 738.9 563.3 739.0 561.8 739.1 561.7 739.3 558.2 739.4 557.3 739.5 556.3 739.7 560.3 739.8 557.1 739.9 558.6 740.1 552.3 740.2 559.4 740.3 555.8 740.5 551.7 740.6 555.2 740.7 559.3 740.9 562.1 741.0 552.9 741.1 556.0 741.3 559.2 741.4 555.3 741.5 557.6 741.7 556.0 741.8 558.3 741.9 554.7 742.1 557.1 742.2 556.1 742.3 558.4 742.5 558.2 742.6 560.8 742.7 559.4 742.9 562.9 743.0 555.6 743.1 558.5 743.3 560.6 743.4 558.8 743.5 552.4 743.7 558.6 743.8 556.5 743.9 562.8 744.0 557.0 744.2 558.6 744.3 554.9 744.4 558.5 744.6 550.8 744.7 554.7 744.8 556.2 745.0 553.7 745.1 559.6 745.2 557.7 745.4 561.7 745.5 555.2 745.6 556.9 745.8 560.6 745.9 558.4 746.0 561.8 746.2 561.7 746.3 558.1 746.4 561.0 746.6 562.0 746.7 561.5 746.8 560.5 747.0 560.0 747.1 560.7 747.2 563.6 747.4 566.2 747.5 557.1 747.6 559.7 747.8 561.7 747.9 565.3 748.0 560.0 748.2 566.8 748.3 566.4 748.4 555.6 748.6 562.0 748.7 561.4 748.8 558.2 749.0 555.1 749.1 559.4 749.2 557.5 749.4 560.7 749.5 558.9 749.6 555.2 749.8 561.4 749.9 560.9 750.0 560.0 750.2 556.9 750.3 559.0 750.4 557.5 750.6 556.5 750.7 554.1 750.8 559.5 751.0 555.1 751.1 561.8 751.2 557.8 751.4 561.9 751.5 560.9 751.6 559.6 751.7 560.0 751.9 561.0 752.0 565.5 752.1 562.7 752.3 560.6 752.4 562.9 752.5 557.9 752.7 556.6 752.8 557.5 752.9 561.3 753.1 557.9 753.2 558.4 753.3 558.0 753.5 556.5 753.6 560.1 753.7 558.7 753.9 555.1 754.0 554.8 754.1 557.1 754.3 555.3 754.4 557.5 754.5 559.4 754.7 558.1 754.8 558.7 754.9 557.5 755.1 557.1 755.2 557.0 755.3 562.7 755.5 558.4 755.6 560.8 755.7 561.2 755.9 562.2 756.0 560.6 756.1 557.8 756.3 566.1 756.4 558.8 756.5 562.3 756.7 558.2 756.8 561.9 756.9 557.6 757.1 563.6 757.2 560.6 757.3 555.9 757.5 563.2 757.6 555.2 757.7 558.8 757.9 562.3 758.0 559.1 758.1 563.1 758.3 560.5 758.4 559.2 758.5 563.5 758.7 560.9 758.8 559.8 758.9 563.0 759.0 560.3 759.2 557.7 759.3 559.1 759.4 566.2 759.6 565.7 759.7 556.8 759.8 562.1 760.0 563.2 760.1 559.8 760.2 562.1 760.4 558.4 760.5 560.1 760.6 563.2 760.8 560.7 760.9 560.3 761.0 559.9 761.2 555.7 761.3 557.8 761.4 558.7 761.6 559.4 761.7 557.5 761.8 563.6 762.0 555.1 762.1 556.6 762.2 557.5 762.4 560.1 762.5 555.7 762.6 559.6 762.8 557.2 762.9 557.4 763.0 560.2 763.2 561.2 763.3 561.7 763.4 556.6 763.6 561.7 763.7 561.8 763.8 560.3 764.0 560.7 764.1 560.0 764.2 559.9 764.4 562.5 764.5 564.8 764.6 560.8 764.8 562.6 764.9 564.2 765.0 559.0 765.2 566.0 765.3 563.0 765.4 565.3 765.6 561.0 765.7 559.3 765.8 560.7 766.0 561.4 766.1 558.3 766.2 562.3 766.4 560.7 766.5 556.4 766.6 561.1 766.7 559.7 766.9 560.3 767.0 559.5 767.1 559.0 767.3 558.1 767.4 561.5 767.5 561.6 767.7 562.9 767.8 560.3 767.9 563.1 768.1 564.1 768.2 558.2 768.3 562.5 768.5 566.9 768.6 560.5 768.7 560.7 768.9 561.0 769.0 559.6 769.1 562.5 769.3 560.1 769.4 560.0 769.5 558.4 769.7 561.5 769.8 560.1 769.9 559.5 770.1 559.7 770.2 563.9 770.3 560.1 770.5 560.4 770.6 562.5 770.7 558.7 770.9 560.6 771.0 555.8 771.1 560.0 771.3 552.8 771.4 558.0 771.5 556.8 771.7 556.5 771.8 562.2 771.9 560.6 772.1 561.3 772.2 563.2 772.3 561.3 772.5 561.7 772.6 560.5 772.7 565.0 772.9 562.7 773.0 558.8 773.1 558.5 773.3 558.7 773.4 558.7 773.5 563.3 773.7 561.1 773.8 562.8 773.9 558.7 774.1 558.7 774.2 563.2 774.3 555.9 774.4 557.8 774.6 555.6 774.7 558.8 774.8 566.0 775.0 558.3 775.1 562.2 775.2 563.3 775.4 557.9 775.5 557.7 775.6 560.0 775.8 560.7 775.9 555.7 776.0 557.5 776.2 563.3 776.3 557.9 776.4 560.8 776.6 562.4 776.7 559.5 776.8 559.9 777.0 559.0 777.1 558.7 777.2 558.7 777.4 556.3 777.5 558.8 777.6 559.4 777.8 561.6 777.9 559.1 778.0 558.7 778.2 564.5 778.3 560.1 778.4 559.5 778.6 558.7 778.7 559.6 778.8 557.4 779.0 557.9 779.1 556.9 779.2 555.9 779.4 557.4 779.5 555.2 779.6 562.0 779.8 555.4 779.9 561.8 780.0 558.4 780.2 559.5 780.3 560.7 780.4 553.7 780.6 561.1 780.7 558.7 780.8 556.7 781.0 556.4 781.1 559.6 781.2 555.0 781.4 562.8 781.5 558.5 781.6 560.7 781.8 559.2 781.9 557.6 782.0 557.4 782.1 556.1 782.3 560.6 782.4 557.7 782.5 559.0 782.7 559.1 782.8 560.0 782.9 559.9 783.1 562.2 783.2 558.4 783.3 557.9 783.5 560.1 783.6 559.8 783.7 560.8 783.9 563.4 784.0 563.0 784.1 562.2 784.3 559.3 784.4 562.4 784.5 561.7 784.7 563.2 784.8 561.6 784.9 560.8 785.1 562.3 785.2 560.2 785.3 559.9 785.5 562.5 785.6 562.2 785.7 564.4 785.9 562.5 786.0 559.5 786.1 565.1 786.3 565.5 786.4 559.1 786.5 560.0 786.7 563.2 786.8 561.5 786.9 557.4 787.1 563.2 787.2 560.8 787.3 561.4 787.5 563.3 787.6 559.3 787.7 559.1 787.9 562.2 788.0 562.8 788.1 561.0 788.3 563.4 788.4 561.9 788.5 563.5 788.7 559.4 788.8 560.5 788.9 563.3 789.1 558.8 789.2 558.5 789.3 560.1 789.4 558.7 789.6 556.9 789.7 555.1 789.8 561.6 790.0 558.8 790.1 563.6 790.2 557.1 790.4 559.6 790.5 559.4 790.6 560.4 790.8 557.1 790.9 563.8 791.0 560.9 791.2 562.4 791.3 560.1 791.4 566.0 791.6 559.5 791.7 567.2 791.8 562.2 792.0 562.4 792.1 561.6 792.2 566.2 792.4 561.0 792.5 560.8 792.6 560.3 792.8 563.1 792.9 562.9 793.0 558.9 793.2 562.2 793.3 564.3 793.4 563.1 793.6 561.7 793.7 558.6 793.8 564.3 794.0 562.4 794.1 557.7 794.2 559.0 794.4 551.3 794.5 561.4 794.6 557.3 794.8 559.3 794.9 562.8 795.0 556.6 795.2 561.6 795.3 559.2 795.4 556.5 795.6 563.4 795.7 561.9 795.8 560.0 796.0 563.3 796.1 561.3 796.2 561.2 796.4 562.8 796.5 566.2 796.6 560.8 796.8 561.7 796.9 566.7 797.0 561.7 797.1 564.3 797.3 563.9 797.4 561.6 797.5 562.6 797.7 563.8 797.8 563.7 797.9 565.2 798.1 564.2 798.2 565.7 798.3 564.1 798.5 562.7 798.6 565.1 798.7 564.7 798.9 565.5 799.0 563.2 799.1 563.1 799.3 562.8 799.4 557.8 799.5 563.5 799.7 559.9 799.8 560.2 799.9 560.8 800.1 566.0 800.2 559.5 800.3 564.4 800.5 556.3 800.6 559.8 800.7 565.0 800.9 561.1 801.0 561.6 801.1 559.5 801.3 556.4 801.4 561.8 801.5 562.7 801.7 562.9 801.8 564.7 801.9 560.1 802.1 561.2 802.2 555.1 802.3 558.9 802.5 559.9 802.6 562.4 802.7 563.7 802.9 563.4 803.0 561.0 803.1 559.8 803.3 560.1 803.4 560.3 803.5 560.9 803.7 563.3 803.8 560.4 803.9 557.3 804.1 558.4 804.2 567.8 804.3 564.4 804.5 560.4 804.6 561.0 804.7 563.3 804.8 562.4 805.0 562.4 805.1 557.2 805.2 558.4 805.4 561.7 805.5 562.8 805.6 561.9 805.8 564.7 805.9 561.3 806.0 561.7 806.2 561.3 806.3 563.3 806.4 559.6 806.6 565.4 806.7 558.4 806.8 562.3 807.0 562.0 807.1 563.8 807.2 557.6 807.4 558.0 807.5 559.1 807.6 561.2 807.8 561.2 807.9 553.3 808.0 558.2 808.2 559.3 808.3 559.4 808.4 559.5 808.6 558.6 808.7 559.5 808.8 555.7 809.0 562.5 809.1 555.9 809.2 561.6 809.4 560.7 809.5 564.1 809.6 561.7 809.8 566.1 809.9 565.0 810.0 565.5 810.2 567.5 810.3 566.0 810.4 562.3 810.6 564.2 810.7 563.5 810.8 563.2 811.0 561.5 811.1 555.2 811.2 560.2 811.4 560.8 811.5 559.8 811.6 559.6 811.8 561.8 811.9 560.2 812.0 563.6 812.1 565.3 812.3 562.9 812.4 565.1 812.5 560.9 812.7 561.5 812.8 563.1 812.9 561.6 813.1 563.6 813.2 563.4 813.3 566.3 813.5 561.1 813.6 564.6 813.7 559.0 813.9 560.3 814.0 562.4 814.1 561.0 814.3 554.7 814.4 559.8 814.5 560.9 814.7 556.4 814.8 558.6 814.9 558.9 815.1 560.3 815.2 562.2 815.3 556.3 815.5 557.4 815.6 563.0 815.7 562.5 815.9 564.1 816.0 560.7 816.1 563.7 816.3 556.8 816.4 563.7 816.5 561.1 816.7 560.6 816.8 561.5 816.9 566.2 817.1 568.8 817.2 562.6 817.3 562.7 817.5 565.8 817.6 561.5 817.7 563.3 817.9 564.0 818.0 565.2 818.1 561.9 818.3 556.3 818.4 561.9 818.5 563.8 818.7 561.2 818.8 561.0 818.9 560.2 819.1 563.3 819.2 562.8 819.3 563.1 819.5 562.6 819.6 565.6 819.7 563.6 819.8 562.8 820.0 560.5 820.1 562.1 820.2 562.9 820.4 566.0 820.5 563.6 820.6 561.5 820.8 564.5 820.9 563.2 821.0 560.6 821.2 562.4 821.3 558.9 821.4 561.4 821.6 565.6 821.7 563.4 821.8 562.6 822.0 563.2 822.1 562.9 822.2 558.7 822.4 560.1 822.5 559.4 822.6 561.8 822.8 562.6 822.9 564.9 823.0 560.1 823.2 558.1 823.3 561.4 823.4 561.0 823.6 562.0 823.7 561.8 823.8 563.1 824.0 561.0 824.1 563.1 824.2 564.8 824.4 563.2 824.5 564.1 824.6 561.5 824.8 564.9 824.9 562.8 825.0 561.6 825.2 562.6 825.3 562.3 825.4 562.8 825.6 562.1 825.7 567.1 825.8 565.3 826.0 564.3 826.1 564.0 826.2 562.5 826.4 564.2 826.5 561.5 826.6 561.5 826.8 559.7 826.9 563.9 827.0 563.8 827.2 563.7 827.3 564.0 827.4 556.6 827.5 562.3 827.7 564.6 827.8 563.6 827.9 559.1 828.1 563.2 828.2 564.1 828.3 561.5 828.5 560.2 828.6 561.6 828.7 556.6 828.9 563.8 829.0 561.5 829.1 562.7 829.3 562.9 829.4 562.8 829.5 566.2 829.7 560.5 829.8 561.5 829.9 557.1 830.1 560.1 830.2 557.2 830.3 563.0 830.5 561.2 830.6 559.8 830.7 562.9 830.9 558.5 831.0 560.1 831.1 558.4 831.3 558.0 831.4 559.4 831.5 557.9 831.7 559.9 831.8 558.2 831.9 557.8 832.1 564.8 832.2 563.4 832.3 562.3 832.5 564.1 832.6 561.9 832.7 565.2 832.9 561.4 833.0 565.8 833.1 565.7 833.3 564.8 833.4 566.6 833.5 564.9 833.7 568.9 833.8 566.6 833.9 561.9 834.1 563.1 834.2 568.9 834.3 564.1 834.5 566.1 834.6 564.1 834.7 568.6 834.9 568.9 835.0 567.0 835.1 563.7 835.2 564.3 835.4 567.8 835.5 563.2 835.6 559.4 835.8 567.2 835.9 565.6 836.0 560.2 836.2 563.4 836.3 563.9 836.4 562.9 836.6 566.0 836.7 565.1 836.8 560.7 837.0 562.2 837.1 564.8 837.2 565.0 837.4 562.4 837.5 565.9 837.6 560.9 837.8 565.6 837.9 560.0 838.0 565.1 838.2 568.6 838.3 567.4 838.4 562.2 838.6 557.5 838.7 564.6 838.8 566.3 839.0 564.2 839.1 564.4 839.2 560.6 839.4 562.3 839.5 560.5 839.6 560.3 839.8 561.8 839.9 566.1 840.0 563.8 840.2 561.4 840.3 563.0 840.4 561.6 840.6 562.8 840.7 564.9 840.8 561.4 841.0 565.7 841.1 563.8 841.2 567.6 841.4 561.9 841.5 565.2 841.6 562.3 841.8 564.8 841.9 559.0 842.0 561.0 842.2 559.5 842.3 557.2 842.4 559.4 842.5 559.4 842.7 558.2 842.8 557.1 842.9 557.9 843.1 557.0 843.2 562.0 843.3 561.1 843.5 563.1 843.6 562.6 843.7 566.8 843.9 561.4 844.0 562.3 844.1 562.5 844.3 561.7 844.4 565.2 844.5 564.3 844.7 564.9 844.8 564.6 844.9 566.5 845.1 561.1 845.2 565.3 845.3 563.6 845.5 561.9 845.6 562.2 845.7 564.2 845.9 564.0 846.0 561.5 846.1 563.5 846.3 562.8 846.4 564.3 846.5 564.3 846.7 563.7 846.8 561.1 846.9 559.2 847.1 564.5 847.2 559.5 847.3 564.0 847.5 561.5 847.6 565.1 847.7 561.6 847.9 561.5 848.0 558.2 848.1 564.6 848.3 563.8 848.4 563.0 848.5 563.9 848.7 567.8 848.8 566.1 848.9 567.0 849.1 564.6 849.2 565.6 849.3 567.9 849.5 563.9 849.6 567.2 849.7 563.8 849.9 568.5 850.0 563.2 850.1 563.1 850.2 564.8 850.4 563.8 850.5 564.4 850.6 564.6 850.8 567.3 850.9 563.6 851.0 567.1 851.2 566.4 851.3 564.6 851.4 563.7 851.6 568.0 851.7 558.1 851.8 562.0 852.0 563.0 852.1 565.1 852.2 563.3 852.4 565.3 852.5 564.7 852.6 567.6 852.8 562.8 852.9 565.4 853.0 568.3 853.2 563.4 853.3 565.3 853.4 561.7 853.6 565.4 853.7 562.6 853.8 565.3 854.0 561.1 854.1 563.3 854.2 560.7 854.4 562.6 854.5 563.3 854.6 567.3 854.8 563.1 854.9 563.2 855.0 566.2 855.2 564.6 855.3 560.0 855.4 563.6 855.6 562.9 855.7 564.6 855.8 564.0 856.0 559.1 856.1 561.9 856.2 567.2 856.4 565.4 856.5 561.9 856.6 563.1 856.8 564.0 856.9 562.0 857.0 558.0 857.2 567.2 857.3 563.1 857.4 563.7 857.6 563.2 857.7 563.6 857.8 562.4 857.9 566.8 858.1 562.2 858.2 563.8 858.3 562.0 858.5 564.6 858.6 561.7 858.7 556.7 858.9 565.0 859.0 564.5 859.1 562.2 859.3 557.2 859.4 564.0 859.5 562.1 859.7 560.0 859.8 561.1 859.9 565.5 860.1 562.0 860.2 563.5 860.3 562.5 860.5 565.7 860.6 562.6 860.7 566.0 860.9 563.9 861.0 568.9 861.1 562.9 861.3 563.6 861.4 564.9 861.5 564.0 861.7 557.9 861.8 561.1 861.9 561.5 862.1 561.4 862.2 559.3 862.3 563.0 862.5 563.0 862.6 559.4 862.7 558.3 862.9 561.1 863.0 563.1 863.1 564.9 863.3 560.4 863.4 562.0 863.5 559.4 863.7 561.9 863.8 566.8 863.9 569.2 864.1 566.2 864.2 564.3 864.3 564.0 864.5 568.9 864.6 567.1 864.7 564.7 864.9 562.9 865.0 562.2 865.1 563.8 865.2 567.8 865.4 563.3 865.5 562.9 865.6 564.8 865.8 563.8 865.9 566.8 866.0 562.6 866.2 565.2 866.3 562.7 866.4 567.7 866.6 564.7 866.7 562.3 866.8 562.3 867.0 562.9 867.1 565.9 867.2 563.6 867.4 562.8 867.5 559.8 867.6 558.5 867.8 558.4 867.9 560.5 868.0 562.8 868.2 562.0 868.3 564.4 868.4 559.4 868.6 561.4 868.7 561.3 868.8 559.7 869.0 557.0 869.1 560.1 869.2 564.0 869.4 558.0 869.5 563.9 869.6 564.1 869.8 561.9 869.9 563.0 870.0 562.2 870.2 562.6 870.3 565.9 870.4 565.3 870.6 565.0 870.7 563.3 870.8 562.4 871.0 563.1 871.1 559.4 871.2 559.0 871.4 561.8 871.5 557.3 871.6 560.9 871.8 560.4 871.9 560.0 872.0 560.0 872.2 558.6 872.3 564.5 872.4 555.3 872.6 557.7 872.7 555.1 872.8 559.6 872.9 560.7 873.1 562.5 873.2 556.9 873.3 560.0 873.5 556.6 873.6 558.5 873.7 560.1 873.9 555.3 874.0 558.2 874.1 557.0 874.3 559.1 874.4 559.9 874.5 554.6 874.7 557.7 874.8 555.0 874.9 553.3 875.1 556.4 875.2 558.0 875.3 557.3 875.5 558.0 875.6 563.6 875.7 561.0 875.9 563.1 876.0 563.5 876.1 560.3 876.3 565.1 876.4 559.9 876.5 558.8 876.7 556.4 876.8 557.3 876.9 558.7 877.1 558.1 877.2 558.4 877.3 558.6 877.5 554.8 877.6 556.0 877.7 556.7 877.9 556.2 878.0 554.1 878.1 556.6 878.3 554.5 878.4 558.3 878.5 554.0 878.7 556.0 878.8 550.8 878.9 554.7 879.1 557.1 879.2 555.0 879.3 556.5 879.5 555.8 879.6 554.9 879.7 557.0 879.9 557.1 880.0 557.5 880.1 555.2 880.3 555.4 880.4 550.3 880.5 556.4 880.6 553.7 880.8 554.2 880.9 557.4 881.0 555.7 881.2 555.9 881.3 553.2 881.4 555.5 881.6 554.3 881.7 554.3 881.8 553.4 882.0 556.9 882.1 550.6 882.2 553.3 882.4 553.2 882.5 554.5 882.6 553.6 882.8 551.5 882.9 553.1 883.0 556.3 883.2 555.5 883.3 552.5 883.4 553.9 883.6 553.1 883.7 556.5 883.8 552.6 884.0 556.3 884.1 556.9 884.2 552.8 884.4 557.8 884.5 552.2 884.6 552.0 884.8 553.7 884.9 550.8 885.0 551.8 885.2 548.8 885.3 550.1 885.4 550.9 885.6 547.5 885.7 551.6 885.8 551.3 886.0 549.2 886.1 550.6 886.2 550.4 886.4 547.2 886.5 550.0 886.6 549.2 886.8 547.3 886.9 549.5 887.0 546.4 887.2 542.6 887.3 549.5 887.4 548.9 887.6 552.2 887.7 547.5 887.8 549.9 888.0 546.0 888.1 545.3 888.2 546.9 888.3 547.9 888.5 547.2 888.6 549.5 888.7 549.5 888.9 544.2 889.0 545.7 889.1 550.5 889.3 549.6 889.4 544.2 889.5 545.2 889.7 551.0 889.8 544.9 889.9 549.6 890.1 542.7 890.2 546.4 890.3 544.6 890.5 547.4 890.6 549.2 890.7 547.5 890.9 548.7 891.0 549.1 891.1 550.4 891.3 547.8 891.4 543.2 891.5 544.3 891.7 549.8 891.8 549.3 891.9 550.3 892.1 547.2 892.2 546.7 892.3 543.6 892.5 544.9 892.6 546.8 892.7 545.6 892.9 543.5 893.0 550.1 893.1 547.1 893.3 547.7 893.4 547.5 893.5 547.3 893.7 545.2 893.8 549.3 893.9 546.3 894.1 545.4 894.2 550.2 894.3 547.8 894.5 548.9 894.6 543.6 894.7 551.4 894.9 546.0 895.0 545.4 895.1 547.0 895.3 545.9 895.4 546.0 895.5 549.5 895.6 550.9 895.8 547.1 895.9 547.4 896.0 547.3 896.2 547.4 896.3 544.1 896.4 550.5 896.6 543.8 896.7 545.7 896.8 551.7 897.0 547.2 897.1 545.5 897.2 548.0 897.4 552.9 897.5 548.1 897.6 545.5 897.8 548.7 897.9 548.7 898.0 546.4 898.2 549.0 898.3 544.0 898.4 550.2 898.6 550.2 898.7 550.5 898.8 549.4 899.0 554.2 899.1 553.1 899.2 554.9 899.4 550.9 899.5 554.1 899.6 556.4 899.8 555.9 899.9 551.0 900.0 553.1 900.2 551.9 900.3 552.7 900.4 553.3 900.6 557.0 900.7 556.3 900.8 552.4 901.0 554.5 901.1 551.1 901.2 549.6 901.4 548.2 901.5 550.5 901.6 556.8 901.8 553.0 901.9 553.9 902.0 555.2 902.2 548.7 902.3 552.7 902.4 553.4 902.6 556.3 902.7 554.6 902.8 550.1 903.0 550.1 903.1 555.0 903.2 554.4 903.3 550.9 903.5 551.1 903.6 554.5 903.7 551.6 903.9 555.5 904.0 554.4 904.1 554.6 904.3 559.8 904.4 553.9 904.5 553.5 904.7 555.0 904.8 550.9 904.9 558.0 905.1 557.7 905.2 556.5 905.3 556.1 905.5 555.8 905.6 552.3 905.7 555.1 905.9 555.1 906.0 556.6 906.1 555.2 906.3 556.6 906.4 555.7 906.5 549.8 906.7 552.7 906.8 556.0 906.9 554.0 907.1 555.3 907.2 557.6 907.3 553.8 907.5 556.7 907.6 560.1 907.7 556.8 907.9 554.3 908.0 556.8 908.1 556.0 908.3 554.1 908.4 558.3 908.5 556.9 908.7 552.8 908.8 559.6 908.9 553.9 909.1 557.3 909.2 558.2 909.3 556.9 909.5 554.6 909.6 552.3 909.7 556.3 909.9 558.1 910.0 555.0 910.1 556.9 910.3 560.7 910.4 555.7 910.5 566.8 910.7 558.7 910.8 555.0 910.9 558.4 911.0 556.8 911.2 560.0 911.3 554.1 911.4 558.3 911.6 554.3 911.7 557.5 911.8 560.1 912.0 557.0 912.1 559.7 912.2 555.9 912.4 558.5 912.5 554.7 912.6 555.3 912.8 555.6 912.9 551.9 913.0 552.9 913.2 553.4 913.3 558.5 913.4 555.1 913.6 552.3 913.7 552.5 913.8 555.3 914.0 553.3 914.1 556.6 914.2 553.9 914.4 554.1 914.5 558.3 914.6 552.3 914.8 561.4 914.9 554.5 915.0 552.8 915.2 557.2 915.3 559.4 915.4 558.5 915.6 556.6 915.7 553.7 915.8 554.6 916.0 555.0 916.1 556.4 916.2 556.3 916.4 555.4 916.5 555.5 916.6 548.3 916.8 551.3 916.9 555.6 917.0 551.8 917.2 552.6 917.3 551.1 917.4 552.4 917.6 551.1 917.7 548.0 917.8 553.4 918.0 553.5 918.1 550.5 918.2 547.9 918.3 551.8 918.5 549.7 918.6 554.7 918.7 551.6 918.9 548.9 919.0 550.8 919.1 556.3 919.3 551.7 919.4 549.1 919.5 551.2 919.7 549.0 919.8 553.3 919.9 548.1 920.1 552.5 920.2 553.4 920.3 553.2 920.5 551.0 920.6 550.5 920.7 551.8 920.9 552.5 921.0 553.3 921.1 552.2 921.3 552.8 921.4 551.2 921.5 550.3 921.7 554.4 921.8 552.7 921.9 553.3 922.1 555.3 922.2 550.0 922.3 550.2 922.5 550.8 922.6 553.6 922.7 548.6 922.9 550.4 923.0 553.7 923.1 548.6 923.3 553.7 923.4 555.6 923.5 552.9 923.7 549.8 923.8 550.2 923.9 548.4 924.1 549.8 924.2 551.4 924.3 551.0 924.5 543.4 924.6 546.3 924.7 548.5 924.9 546.9 925.0 542.2 925.1 548.3 925.3 549.0 925.4 548.0 925.5 548.2 925.7 550.8 925.8 546.0 925.9 548.8 926.0 550.7 926.2 557.6 926.3 548.7 926.4 552.2 926.6 554.4 926.7 553.3 926.8 552.8 927.0 553.8 927.1 547.2 927.2 552.2 927.4 549.6 927.5 554.3 927.6 551.6 927.8 551.0 927.9 550.6 928.0 547.1 928.2 551.7 928.3 545.9 928.4 548.8 928.6 548.3 928.7 551.1 928.8 548.7 929.0 546.7 929.1 550.0 929.2 552.3 929.4 546.3 929.5 553.4 929.6 547.6 929.8 548.9 929.9 549.3 930.0 547.8 930.2 555.9 930.3 552.4 930.4 552.2 930.6 547.9 930.7 552.3 930.8 548.7 931.0 553.6 931.1 546.4 931.2 551.8 931.4 546.6 931.5 546.7 931.6 550.4 931.8 551.7 931.9 552.2 932.0 548.7 932.2 548.3 932.3 551.7 932.4 547.2 932.6 547.5 932.7 551.6 932.8 551.9 933.0 551.6 933.1 554.7 933.2 548.8 933.4 554.0 933.5 558.2 933.6 552.6 933.7 550.8 933.9 556.5 934.0 554.9 934.1 556.3 934.3 555.0 934.4 552.3 934.5 552.6 934.7 550.3 934.8 558.7 934.9 550.7 935.1 552.1 935.2 551.5 935.3 554.3 935.5 556.8 935.6 552.8 935.7 555.2 935.9 556.1 936.0 559.5 936.1 554.1 936.3 555.1 936.4 558.2 936.5 551.1 936.7 554.3 936.8 554.5 936.9 551.9 937.1 554.1 937.2 555.2 937.3 557.5 937.5 558.4 937.6 554.2 937.7 553.5 937.9 557.8 938.0 552.1 938.1 554.1 938.3 552.5 938.4 551.0 938.5 554.6 938.7 550.3 938.8 551.5 938.9 555.2 939.1 555.5 939.2 548.7 939.3 549.5 939.5 549.7 939.6 548.9 939.7 555.2 939.9 555.7 940.0 554.3 940.1 551.5 940.3 555.9 940.4 555.1 940.5 555.0 940.7 556.7 940.8 558.8 940.9 555.8 941.1 554.9 941.2 554.2 941.3 559.8 941.4 557.9 941.6 551.4 941.7 557.2 941.8 558.6 942.0 553.2 942.1 553.4 942.2 559.0 942.4 556.0 942.5 551.7 942.6 556.8 942.8 557.6 942.9 554.7 943.0 555.1 943.2 557.1 943.3 557.0 943.4 561.3 943.6 560.5 943.7 558.9 943.8 556.5 944.0 556.9 944.1 553.4 944.2 558.3 944.4 557.5 944.5 556.9 944.6 559.9 944.8 560.9 944.9 553.9 945.0 558.9 945.2 558.9 945.3 556.5 945.4 556.1 945.6 561.4 945.7 558.8 945.8 561.5 946.0 554.6 946.1 553.6 946.2 555.0 946.4 557.4 946.5 558.4 946.6 560.0 946.8 554.3 946.9 551.1 947.0 558.4 947.2 558.3 947.3 557.7 947.4 559.7 947.6 554.7 947.7 552.9 947.8 561.3 948.0 557.9 948.1 556.5 948.2 559.4 948.4 565.4 948.5 558.7 948.6 564.4 948.7 558.8 948.9 562.9 949.0 558.8 949.1 560.8 949.3 557.9 949.4 559.1 949.5 558.1 949.7 556.6 949.8 557.8 949.9 559.1 950.1 557.1 950.2 556.0 950.3 557.9 950.5 560.0 950.6 556.3 950.7 554.0 950.9 554.1 951.0 556.1 951.1 559.7 951.3 553.7 951.4 559.9 951.5 555.7 951.7 554.6 951.8 554.9 951.9 558.7 952.1 555.1 952.2 559.4 952.3 561.1 952.5 554.9 952.6 554.2 952.7 553.6 952.9 559.1 953.0 556.2 953.1 556.3 953.3 556.8 953.4 561.8 953.5 560.4 953.7 560.3 953.8 555.0 953.9 557.0 954.1 558.7 954.2 558.4 954.3 559.4 954.5 561.7 954.6 559.3 954.7 560.1 954.9 556.9 955.0 556.0 955.1 555.7 955.3 556.5 955.4 553.0 955.5 555.5 955.7 557.0 955.8 556.1 955.9 557.3 956.1 553.8 956.2 557.1 956.3 558.8 956.4 561.7 956.6 559.5 956.7 558.7 956.8 557.8 957.0 558.9 957.1 557.4 957.2 559.9 957.4 556.8 957.5 559.3 957.6 556.2 957.8 554.2 957.9 554.2 958.0 559.5 958.2 556.2 958.3 556.4 958.4 563.3 958.6 554.9 958.7 557.4 958.8 554.4 959.0 556.0 959.1 558.6 959.2 556.7 959.4 563.8 959.5 555.5 959.6 556.2 959.8 554.9 959.9 558.3 960.0 556.8 960.2 558.4 960.3 557.0 960.4 559.8 960.6 557.1 960.7 558.6 960.8 557.8 961.0 556.1 961.1 557.6 961.2 557.4 961.4 558.4 961.5 552.8 961.6 560.6 961.8 557.6 961.9 558.4 962.0 558.6 962.2 554.3 962.3 558.9 962.4 557.7 962.6 555.8 962.7 558.5 962.8 555.9 963.0 554.0 963.1 558.1 963.2 557.8 963.4 556.8 963.5 555.7 963.6 559.5 963.8 554.7 963.9 556.5 964.0 555.6 964.1 555.6 964.3 557.3 964.4 554.2 964.5 557.6 964.7 557.5 964.8 555.9 964.9 555.1 965.1 553.6 965.2 556.8 965.3 560.4 965.5 554.5 965.6 554.7 965.7 555.5 965.9 557.9 966.0 558.8 966.1 559.0 966.3 558.6 966.4 556.6 966.5 562.0 966.7 559.4 966.8 561.3 966.9 560.6 967.1 560.2 967.2 561.5 967.3 559.5 967.5 563.1 967.6 561.2 967.7 559.5 967.9 556.5 968.0 558.8 968.1 557.8 968.3 558.8 968.4 557.7 968.5 555.5 968.7 555.8 968.8 558.0 968.9 560.1 969.1 558.0 969.2 556.7 969.3 557.4 969.5 559.0 969.6 556.2 969.7 555.9 969.9 557.2 970.0 558.3 970.1 554.2 970.3 555.9 970.4 556.6 970.5 555.4 970.7 557.2 970.8 557.5 970.9 553.6 971.1 562.9 971.2 555.5 971.3 558.0 971.4 556.2 971.6 550.6 971.7 552.1 971.8 555.8 972.0 556.6 972.1 557.2 972.2 551.8 972.4 555.0 972.5 557.7 972.6 559.6 972.8 558.2 972.9 554.1 973.0 556.1 973.2 556.7 973.3 556.5 973.4 559.8 973.6 560.1 973.7 560.4 973.8 555.1 974.0 554.8 974.1 554.2 974.2 556.9 974.4 557.7 974.5 554.4 974.6 558.0 974.8 558.0 974.9 557.1 975.0 558.7 975.2 555.7 975.3 555.7 975.4 561.5 975.6 557.7 975.7 560.9 975.8 556.8 976.0 554.2 976.1 560.5 976.2 556.7 976.4 557.6 976.5 561.3 976.6 555.8 976.8 558.3 976.9 561.1 977.0 562.6 977.2 555.7 977.3 558.1 977.4 555.8 977.6 559.8 977.7 555.9 977.8 559.9 978.0 554.3 978.1 558.8 978.2 560.4 978.4 558.7 978.5 557.2 978.6 556.0 978.8 554.1 978.9 558.9 979.0 558.7 979.1 557.4 979.3 553.9 979.4 554.9 979.5 556.8 979.7 561.3 979.8 562.1 979.9 560.4 980.1 555.4 980.2 554.1 980.3 558.8 980.5 559.6 980.6 562.1 980.7 555.2 980.9 560.3 981.0 556.7 981.1 558.4 981.3 555.4 981.4 555.2 981.5 554.6 981.7 555.2 981.8 552.1 981.9 553.5 982.1 556.0 982.2 552.8 982.3 555.0 982.5 554.9 982.6 556.1 982.7 559.7 982.9 555.7 983.0 561.2 983.1 553.4 983.3 555.4 983.4 558.8 983.5 551.5 983.7 556.0 983.8 557.3 983.9 552.8 984.1 559.1 984.2 559.8 984.3 555.7 984.5 555.6 984.6 557.3 984.7 557.8 984.9 554.6 985.0 554.8 985.1 562.5 985.3 556.1 985.4 555.1 985.5 553.5 985.7 548.8 985.8 555.0 985.9 555.6 986.1 555.5 986.2 555.5 986.3 558.0 986.5 557.0 986.6 557.2 986.7 556.2 986.8 555.9 987.0 556.9 987.1 555.1 987.2 559.2 987.4 557.3 987.5 556.8 987.6 561.4 987.8 558.9 987.9 554.7 988.0 555.5 988.2 557.3 988.3 556.4 988.4 560.3 988.6 558.9 988.7 558.9 988.8 559.0 989.0 558.4 989.1 552.1 989.2 552.9 989.4 553.5 989.5 557.4 989.6 556.1 989.8 561.6 989.9 558.1 990.0 558.1 990.2 552.7 990.3 554.6 990.4 556.8 990.6 551.9 990.7 552.7 990.8 558.0 991.0 558.5 991.1 549.7 991.2 553.3 991.4 550.6 991.5 548.8 991.6 551.5 991.8 554.7 991.9 555.2 992.0 554.7 992.2 557.4 992.3 553.1 992.4 554.9 992.6 559.3 992.7 558.1 992.8 554.9 993.0 554.2 993.1 557.1 993.2 557.3 993.4 557.3 993.5 555.8 993.6 555.8 993.8 553.6 993.9 554.3 994.0 552.4 994.2 550.5 994.3 553.2 994.4 550.8 994.5 550.6 994.7 553.6 994.8 553.3 994.9 557.0 995.1 557.1 995.2 553.1 995.3 554.1 995.5 554.1 995.6 553.3 995.7 560.6 995.9 559.3 996.0 557.0 996.1 562.6 996.3 560.2 996.4 560.4 996.5 557.4 996.7 552.8 996.8 559.2 996.9 555.6 997.1 553.4 997.2 557.5 997.3 557.1 997.5 553.3 997.6 554.9 997.7 556.0 997.9 555.0 998.0 553.7 998.1 558.5 998.3 554.7 998.4 558.2 998.5 555.5 998.7 555.1 998.8 558.6 998.9 554.3 999.1 556.6 999.2 556.9 999.3 558.4 999.5 555.8 999.6 552.6 999.7 552.4 999.9 552.4 1000.0 553.9 1000.1 556.2 1000.3 555.7 1000.4 555.1 1000.5 555.8 1000.7 554.1 1000.8 555.4 1000.9 555.6 1001.1 560.0 1001.2 554.5 1001.3 554.5 1001.5 554.5 1001.6 553.5 1001.7 557.4 1001.8 552.9 1002.0 560.7 1002.1 552.9 1002.2 556.6 1002.4 559.2 1002.5 558.2 1002.6 558.7 1002.8 553.5 1002.9 558.8"/>
<g stroke="#111" stroke-width="1.05">
<path d="M297.3 102.4 297.5 99.4 297.6 97.0 297.7 89.8 297.9 88.9 298.0 83.3 298.1 78.0 298.3 75.8 298.4 70.7 298.5 68.1 298.7 66.0 298.8 61.5 298.9 57.7 299.1 55.9 299.2 55.4 299.3 54.4 299.5 53.3 299.6 54.0 299.7 56.5 299.9 59.9 300.0 57.4 300.1 63.5 300.3 65.8 300.4 70.3 300.5 74.2 300.7 77.4 300.8 80.4 300.9 84.1 301.1 87.8 301.2 95.6 301.3 98.0 301.5 101.4 301.6 105.3 M496.5 139.5 496.6 141.7 496.7 140.2 496.9 134.6 497.0 136.9 497.1 138.8 497.3 138.6 497.4 137.0 497.5 135.6 497.7 137.1 497.8 133.5 497.9 136.6 498.1 135.1 498.2 134.7 498.3 133.3 498.5 135.1 498.6 128.4 498.7 131.9 498.9 133.7 499.0 131.7 499.1 134.7 499.3 133.0 499.4 131.2 499.5 133.8 499.7 131.9 499.8 132.7 499.9 130.8 500.1 130.2 500.2 132.2 500.3 131.1 500.5 129.6 500.6 129.1 500.7 131.0 500.9 132.3 501.0 128.4 501.1 130.2 501.2 122.8 501.4 126.6 501.5 129.2 501.6 130.1 501.8 127.5 501.9 127.8 502.0 127.0 502.2 127.7 502.3 124.3 502.4 126.7 502.6 124.3 502.7 123.9 502.8 123.8 503.0 122.9 503.1 121.6 503.2 121.7 503.4 120.1 503.5 122.8 503.6 121.1 503.8 118.9 503.9 120.8 504.0 119.7 504.2 117.9 504.3 115.7 504.4 115.9 504.6 115.8 504.7 115.4 504.8 112.3 505.0 110.5 505.1 112.8 505.2 110.1 505.4 107.1 505.5 103.9 505.6 103.8 505.8 103.3 505.9 100.1 506.0 98.1 506.2 95.0 506.3 94.0 506.4 89.8 506.6 87.8 506.7 85.5 506.8 83.2 507.0 84.0 507.1 78.1 507.2 78.3 507.4 75.2 507.5 73.3 507.6 73.2 507.8 70.1 507.9 70.4 508.0 73.1 508.2 68.7 508.3 68.7 508.4 67.2 508.6 68.8 508.7 66.8 508.8 69.1 508.9 69.6 509.1 73.1 509.2 72.0 509.3 72.9 509.5 74.5 509.6 75.5 509.7 79.5 509.9 82.2 510.0 82.2 510.1 85.9 510.3 86.5 510.4 89.6 510.5 92.0 510.7 92.0 510.8 94.7 510.9 99.4 511.1 98.3 511.2 102.8 511.3 104.6 511.5 105.9 511.6 109.2 511.7 111.5 511.9 113.7 512.0 111.3 512.1 118.8 512.3 117.7 512.4 122.1 512.5 121.4 512.7 122.3 512.8 124.4 512.9 130.3 513.1 130.3 513.2 127.6 513.3 129.5 513.5 131.9 513.6 132.1 513.7 132.4 513.9 133.0 514.0 132.7 514.1 136.4 514.3 138.0 514.4 140.8 514.5 137.7 M528.1 138.0 528.2 138.7 528.3 135.6 528.5 134.3 528.6 136.5 528.7 134.1 528.9 133.0 529.0 132.6 529.1 129.3 529.3 128.7 529.4 125.5 529.5 128.8 529.7 126.9 529.8 126.7 529.9 124.8 530.1 127.0 530.2 126.9 530.3 126.3 530.5 123.9 530.6 125.2 530.7 126.8 530.9 126.2 531.0 128.5 531.1 130.1 531.3 128.2 531.4 129.7 531.5 129.6 531.6 132.7 531.8 133.1 531.9 136.2 532.0 132.8 532.2 131.8 532.3 134.2 532.4 133.4 532.6 134.5 532.7 136.3 532.8 134.2 533.0 135.8 533.1 131.6 533.2 136.4 533.4 135.1 533.5 134.5 533.6 134.1 533.8 136.9 533.9 133.9 534.0 136.3 534.2 133.4 534.3 134.0 534.4 134.0 534.6 136.1 534.7 133.1 534.8 132.7 535.0 131.8 535.1 131.0 535.2 130.2 535.4 133.3 535.5 132.5 535.6 129.0 535.8 130.1 535.9 127.8 536.0 130.5 536.2 129.9 536.3 128.7 536.4 126.5 536.6 128.8 536.7 128.1 536.8 126.5 537.0 127.2 537.1 123.7 537.2 124.2 537.4 123.2 537.5 124.3 537.6 126.0 537.8 123.4 537.9 124.6 538.0 122.6 538.2 121.9 538.3 123.6 538.4 122.7 538.6 123.6 538.7 122.6 538.8 119.8 539.0 117.0 539.1 120.1 539.2 117.7 539.3 116.6 539.5 115.8 539.6 116.1 539.7 115.9 539.9 115.5 540.0 117.5 540.1 112.6 540.3 113.7 540.4 111.6 540.5 111.5 540.7 112.4 540.8 112.4 540.9 109.7 541.1 113.0 541.2 109.0 541.3 110.8 541.5 108.9 541.6 109.5 541.7 108.4 541.9 106.7 542.0 107.0 542.1 103.1 542.3 103.2 542.4 103.7 542.5 105.0 542.7 101.2 542.8 101.1 542.9 102.9 543.1 99.9 543.2 99.0 543.3 96.8 543.5 97.2 543.6 97.0 543.7 95.3 543.9 95.3 544.0 93.8 544.1 93.5 544.3 92.6 544.4 89.8 544.5 89.8 544.7 89.7 544.8 86.8 544.9 83.3 545.1 84.6 545.2 83.2 545.3 85.4 545.5 82.5 545.6 79.6 545.7 79.7 545.9 80.6 546.0 76.8 546.1 76.6 546.3 76.2 546.4 75.1 546.5 73.7 546.6 73.5 546.8 70.8 546.9 70.6 547.0 69.5 547.2 68.6 547.3 67.5 547.4 66.6 547.6 64.8 547.7 63.7 547.8 63.3 548.0 61.6 548.1 59.4 548.2 55.0 548.4 54.0 548.5 52.2 548.6 48.9 548.8 47.3 548.9 44.4 549.0 42.6 549.2 38.7 549.3 38.2 549.4 35.1 549.6 32.6 549.7 30.7 549.8 29.4 550.0 27.0 550.1 24.0 550.2 21.9 550.4 18.2 550.5 14.4 550.6 9.8 550.8 5.1 550.9 -4.7 551.0 -18.7 551.2 -37.3 551.3 -59.1 551.4 -84.3 551.6 -108.4 551.7 -130.3 551.8 -151.1 552.0 -168.9 552.1 -183.7 552.2 -193.7 552.4 -200.5 552.5 -203.7 552.6 -203.3 552.8 -199.3 552.9 -191.4 553.0 -180.8 553.2 -165.7 553.3 -147.9 553.4 -127.1 553.6 -105.3 553.7 -82.6 553.8 -61.7 554.0 -41.3 554.1 -28.5 554.2 -19.0 554.3 -11.2 554.5 -6.1 554.6 -1.2 554.7 2.5 554.9 5.3 555.0 8.0 555.1 10.7 555.3 15.0 555.4 17.0 555.5 16.1 555.7 20.8 555.8 22.3 555.9 24.9 556.1 28.8 556.2 28.7 556.3 31.0 556.5 37.2 556.6 35.9 556.7 38.4 556.9 41.9 557.0 42.8 557.1 45.7 557.3 48.3 557.4 51.7 557.5 50.5 557.7 54.3 557.8 57.3 557.9 60.5 558.1 61.2 558.2 63.8 558.3 64.0 558.5 65.3 558.6 68.1 558.7 67.7 558.9 72.2 559.0 70.7 559.1 72.6 559.3 73.4 559.4 72.2 559.5 73.4 559.7 76.7 559.8 76.2 559.9 78.0 560.1 79.4 560.2 79.9 560.3 83.4 560.5 84.0 560.6 84.3 560.7 85.7 560.9 85.0 561.0 87.9 561.1 86.8 561.3 90.4 561.4 88.8 561.5 89.8 561.7 92.6 561.8 92.9 561.9 91.9 562.0 94.6 562.2 94.8 562.3 95.7 562.4 97.4 562.6 98.4 562.7 99.9 562.8 100.2 563.0 101.1 563.1 101.5 563.2 104.3 563.4 102.1 563.5 107.3 563.6 107.0 563.8 107.6 563.9 105.3 564.0 108.7 564.2 108.0 564.3 108.5 564.4 111.9 564.6 108.4 564.7 109.4 564.8 107.6 565.0 105.4 565.1 110.7 565.2 111.5 565.4 112.6 565.5 112.7 565.6 110.4 565.8 114.2 565.9 115.9 566.0 117.1 566.2 114.4 566.3 115.0 566.4 115.9 566.6 116.6 566.7 115.9 566.8 117.8 567.0 121.6 567.1 118.6 567.2 118.1 567.4 120.8 567.5 121.0 567.6 123.2 567.8 121.7 567.9 122.9 568.0 122.4 568.2 122.7 568.3 125.1 568.4 125.3 568.6 125.5 568.7 126.8 568.8 125.4 569.0 127.1 569.1 127.9 569.2 129.7 569.4 125.7 569.5 128.3 569.6 129.9 569.7 128.8 569.9 130.2 570.0 131.6 570.1 131.8 570.3 129.1 570.4 130.4 570.5 128.5 570.7 134.0 570.8 133.8 570.9 135.8 571.1 134.1 571.2 132.6 571.3 136.0 571.5 132.6 571.6 134.7 571.7 134.5 571.9 136.1 M591.0 134.3 591.1 132.3 591.3 128.5 591.4 126.2 591.5 127.1 591.7 126.2 591.8 123.8 591.9 121.8 592.1 118.9 592.2 119.3 592.3 118.2 592.4 117.2 592.6 117.8 592.7 117.3 592.8 117.2 593.0 116.0 593.1 115.0 593.2 115.7 593.4 115.5 593.5 113.8 593.6 115.8 593.8 114.5 593.9 114.7 594.0 117.2 594.2 118.5 594.3 121.8 594.4 121.9 594.6 124.9 594.7 128.0 594.8 128.0 595.0 130.4 595.1 130.7 595.2 134.8 595.4 135.6 595.5 137.4 M960.3 142.7 960.4 143.9 960.6 142.6 960.7 141.3 960.8 140.8 961.0 142.4 961.1 140.4 961.2 137.9 961.4 137.3 961.5 139.4 961.6 135.6 961.8 135.6 961.9 134.7 962.0 132.8 962.2 133.2 962.3 131.0 962.4 131.6 962.6 133.3 962.7 130.9 962.8 132.9 963.0 130.5 963.1 130.4 963.2 129.2 963.4 127.1 963.5 129.2 963.6 129.1 963.8 126.8 963.9 125.8 964.0 124.8 964.1 125.3 964.3 125.6 964.4 124.8 964.5 123.3 964.7 122.5 964.8 122.1 964.9 121.1 965.1 119.3 965.2 123.1 965.3 118.7 965.5 118.1 965.6 121.0 965.7 119.3 965.9 119.0 966.0 117.2 966.1 117.6 966.3 118.3 966.4 120.7 966.5 117.5 966.7 116.8 966.8 117.5 966.9 116.8 967.1 115.3 967.2 114.7 967.3 117.9 967.5 115.4 967.6 118.9 967.7 116.4 967.9 116.2 968.0 114.9 968.1 114.8 968.3 115.1 968.4 116.1 968.5 115.0 968.7 115.5 968.8 115.2 968.9 116.9 969.1 117.1 969.2 117.7 969.3 116.1 969.5 116.9 969.6 116.6 969.7 119.8 969.9 115.7 970.0 121.8 970.1 119.5 970.3 119.7 970.4 121.4 970.5 121.3 970.7 121.8 970.8 123.5 970.9 124.4 971.1 123.6 971.2 127.4 971.3 124.0 971.4 127.9 971.6 127.8 971.7 126.7 971.8 130.0 972.0 131.3 972.1 127.7 972.2 131.4 972.4 131.0 972.5 132.1 972.6 129.9 972.8 133.9 972.9 135.4 973.0 134.7 973.2 133.9 973.3 135.0 973.4 136.6 973.6 136.4 973.7 135.3 973.8 136.1 974.0 136.3 974.1 139.3 974.2 142.8 974.4 142.7 974.5 141.0 974.6 141.6 974.8 143.9"/>
<path d="M297.6 294.3 297.7 288.3 297.9 283.4 298.0 281.9 298.1 274.7 298.3 271.2 298.4 265.8 298.5 262.0 298.7 257.2 298.8 254.5 298.9 252.6 299.1 248.0 299.2 246.2 299.3 250.1 299.5 250.3 299.6 253.4 299.7 255.4 299.9 261.9 300.0 265.6 300.1 266.7 300.3 273.2 300.4 276.0 300.5 279.0 300.7 284.6 300.8 289.7 300.9 290.5 M490.4 329.4 490.5 331.3 490.6 328.2 490.8 327.1 490.9 323.2 491.0 321.9 491.2 322.1 491.3 320.4 491.4 315.9 491.6 315.8 491.7 310.8 491.8 313.0 492.0 310.5 492.1 310.1 492.2 306.8 492.4 301.7 492.5 300.7 492.6 297.7 492.8 296.3 492.9 295.0 493.0 291.8 493.2 289.8 493.3 285.9 493.4 286.1 493.5 283.2 493.7 281.7 493.8 280.0 493.9 276.6 494.1 275.2 494.2 271.5 494.3 271.1 494.5 267.9 494.6 265.2 494.7 263.5 494.9 260.3 495.0 259.2 495.1 257.4 495.3 256.3 495.4 254.5 495.5 252.3 495.7 251.1 495.8 247.5 495.9 248.1 496.1 247.0 496.2 245.7 496.3 244.5 496.5 241.8 496.6 240.4 496.7 238.7 496.9 237.3 497.0 236.5 497.1 236.2 497.3 232.2 497.4 232.1 497.5 231.6 497.7 229.4 497.8 229.6 497.9 227.1 498.1 227.1 498.2 225.1 498.3 225.9 498.5 224.2 498.6 224.7 498.7 223.3 498.9 222.1 499.0 222.0 499.1 221.9 499.3 221.2 499.4 220.5 499.5 219.9 499.7 219.8 499.8 220.4 499.9 218.6 500.1 219.3 500.2 217.1 500.3 219.6 500.5 219.3 500.6 218.9 500.7 219.2 500.9 218.4 501.0 220.2 501.1 220.2 501.2 219.6 501.4 220.7 501.5 222.0 501.6 222.1 501.8 222.8 501.9 222.5 502.0 224.3 502.2 224.3 502.3 225.7 502.4 227.6 502.6 224.7 502.7 226.8 502.8 228.1 503.0 228.2 503.1 230.7 503.2 230.1 503.4 233.0 503.5 233.0 503.6 233.6 503.8 234.1 503.9 235.7 504.0 236.3 504.2 238.0 504.3 237.9 504.4 239.3 504.6 239.6 504.7 240.4 504.8 239.5 505.0 241.9 505.1 243.2 505.2 242.6 505.4 243.3 505.5 245.2 505.6 246.6 505.8 245.5 505.9 248.3 506.0 249.7 506.2 249.2 506.3 250.2 506.4 251.2 506.6 250.3 506.7 251.9 506.8 252.0 507.0 250.5 507.1 252.5 507.2 253.1 507.4 251.5 507.5 253.7 507.6 252.9 507.8 252.1 507.9 252.7 508.0 253.2 508.2 254.9 508.3 254.1 508.4 254.5 508.6 253.8 508.7 255.4 508.8 254.4 508.9 255.2 509.1 256.9 509.2 257.7 509.3 256.6 509.5 257.7 509.6 258.9 509.7 259.1 509.9 261.7 510.0 262.1 510.1 261.4 510.3 261.1 510.4 263.1 510.5 265.7 510.7 266.4 510.8 267.5 510.9 268.5 511.1 267.8 511.2 269.8 511.3 271.9 511.5 272.2 511.6 274.1 511.7 273.1 511.9 274.1 512.0 279.1 512.1 279.0 512.3 280.3 512.4 282.8 512.5 285.3 512.7 287.8 512.8 283.1 512.9 288.1 513.1 290.6 513.2 288.7 513.3 290.5 513.5 294.3 513.6 298.9 513.7 300.2 513.9 303.2 514.0 302.7 514.1 305.8 514.3 308.4 514.4 308.9 514.5 310.0 514.7 312.0 514.8 308.2 514.9 315.6 515.1 314.1 515.2 317.4 515.3 321.4 515.5 322.7 515.6 319.4 515.7 327.0 515.9 328.7 M537.8 327.3 537.9 330.5 538.0 328.5 538.2 327.1 538.3 324.5 538.4 326.0 538.6 324.1 538.7 323.2 538.8 320.6 539.0 322.3 539.1 321.1 539.2 319.0 539.3 318.2 539.5 318.0 539.6 315.6 539.7 315.8 539.9 317.7 540.0 313.8 540.1 317.1 540.3 311.0 540.4 313.6 540.5 312.9 540.7 312.3 540.8 310.9 540.9 307.3 541.1 310.6 541.2 310.0 541.3 308.0 541.5 304.2 541.6 308.3 541.7 304.9 541.9 305.1 542.0 306.5 542.1 305.8 542.3 303.8 542.4 301.7 542.5 304.9 542.7 302.1 542.8 299.5 542.9 297.5 543.1 298.2 543.2 295.1 543.3 298.1 543.5 295.5 543.6 293.3 543.7 293.2 543.9 288.4 544.0 290.4 544.1 288.5 544.3 286.0 544.4 285.9 544.5 285.9 544.7 282.5 544.8 282.8 544.9 280.1 545.1 280.8 545.2 277.3 545.3 278.8 545.5 277.4 545.6 276.2 545.7 275.8 545.9 272.5 546.0 270.9 546.1 270.0 546.3 267.3 546.4 264.3 546.5 263.7 546.6 262.3 546.8 262.5 546.9 260.4 547.0 259.3 547.2 259.1 547.3 257.5 547.4 258.2 547.6 254.8 547.7 252.5 547.8 253.2 548.0 249.9 548.1 248.6 548.2 248.0 548.4 245.5 548.5 244.4 548.6 241.5 548.8 240.1 548.9 239.3 549.0 236.5 549.2 234.9 549.3 233.4 549.4 233.0 549.6 230.7 549.7 227.3 549.8 225.0 550.0 222.1 550.1 221.7 550.2 218.9 550.4 217.0 550.5 212.3 550.6 212.5 550.8 209.7 550.9 203.4 551.0 197.2 551.2 189.2 551.3 182.0 551.4 175.8 551.6 167.6 551.7 162.3 551.8 154.6 552.0 141.4 552.1 119.3 552.2 95.5 552.4 71.9 552.5 47.9 552.6 23.8 552.8 -0.3 552.9 -24.5 553.0 -32.1 553.2 -8.2 553.3 15.4 553.4 39.5 553.6 62.8 553.7 87.3 553.8 110.6 554.0 134.2 554.1 151.6 554.2 160.2 554.3 166.5 554.5 173.1 554.6 180.8 554.7 187.3 554.9 195.1 555.0 200.0 555.1 206.9 555.3 213.2 555.4 213.3 555.5 216.3 555.7 217.7 555.8 220.4 555.9 224.6 556.1 222.7 556.2 227.0 556.3 228.7 556.5 230.7 556.6 231.7 556.7 233.2 556.9 236.9 557.0 237.7 557.1 237.6 557.3 240.3 557.4 240.6 557.5 246.3 557.7 245.6 557.8 245.3 557.9 249.9 558.1 251.6 558.2 253.3 558.3 255.1 558.5 256.0 558.6 258.1 558.7 257.8 558.9 262.9 559.0 265.2 559.1 265.4 559.3 266.7 559.4 266.0 559.5 268.4 559.7 268.7 559.8 270.1 559.9 273.6 560.1 275.9 560.2 275.5 560.3 279.6 560.5 278.9 560.6 276.4 560.7 279.6 560.9 283.5 561.0 282.4 561.1 284.6 561.3 282.5 561.4 287.3 561.5 285.6 561.7 288.8 561.8 292.3 561.9 290.8 562.0 291.4 562.2 294.2 562.3 292.6 562.4 293.4 562.6 297.5 562.7 294.6 562.8 295.9 563.0 300.8 563.1 297.8 563.2 301.0 563.4 302.8 563.5 302.2 563.6 301.7 563.8 305.0 563.9 303.3 564.0 308.0 564.2 310.3 564.3 304.8 564.4 307.6 564.6 306.4 564.7 308.6 564.8 308.3 565.0 308.2 565.1 311.0 565.2 308.8 565.4 312.3 565.5 312.4 565.6 312.2 565.8 315.3 565.9 314.7 566.0 314.7 566.2 315.6 566.3 316.1 566.4 319.2 566.6 317.4 566.7 314.3 566.8 314.8 567.0 318.6 567.1 319.1 567.2 321.3 567.4 320.4 567.5 321.9 567.6 325.8 567.8 322.4 567.9 326.4 568.0 325.6 568.2 328.4 568.3 329.1 M592.2 333.6 592.3 330.8 592.4 329.7 592.6 328.2 592.7 326.0 592.8 327.1 593.0 327.1 593.1 325.8 593.2 323.7 593.4 324.9 593.5 325.8 593.6 325.0 593.8 327.4 593.9 324.5 594.0 327.2 594.2 331.4 594.3 332.4"/>
<path d="M490.4 515.6 490.5 510.5 490.6 503.8 490.8 505.1 490.9 500.7 491.0 506.2 491.2 496.3 491.3 499.1 491.4 495.6 491.6 494.0 491.7 493.1 491.8 491.0 492.0 488.2 492.1 485.4 492.2 484.7 492.4 482.1 492.5 480.4 492.6 480.2 492.8 477.7 492.9 476.8 493.0 473.5 493.2 475.4 493.3 468.8 493.4 466.4 493.5 468.1 493.7 463.4 493.8 463.1 493.9 462.9 494.1 459.5 494.2 457.6 494.3 458.3 494.5 455.7 494.6 452.8 494.7 450.2 494.9 450.0 495.0 446.4 495.1 446.2 495.3 444.3 495.4 445.1 495.5 444.4 495.7 440.7 495.8 439.6 495.9 437.1 496.1 435.2 496.2 435.2 496.3 435.2 496.5 434.0 496.6 432.4 496.7 429.8 496.9 424.9 497.0 429.4 497.1 429.1 497.3 427.6 497.4 426.9 497.5 426.6 497.7 428.4 497.8 424.3 497.9 425.6 498.1 423.9 498.2 423.2 498.3 421.5 498.5 420.8 498.6 419.4 498.7 421.7 498.9 420.3 499.0 419.1 499.1 420.0 499.3 419.6 499.4 424.1 499.5 421.7 499.7 422.6 499.8 420.9 499.9 420.6 500.1 424.7 500.2 423.1 500.3 424.0 500.5 426.6 500.6 427.3 500.7 425.7 500.9 425.9 501.0 426.2 501.1 426.1 501.2 430.4 501.4 426.3 501.5 428.8 501.6 426.9 501.8 428.7 501.9 432.2 502.0 433.3 502.2 434.2 502.3 434.3 502.4 434.9 502.6 436.4 502.7 437.9 502.8 441.4 503.0 443.2 503.1 442.8 503.2 442.4 503.4 442.9 503.5 446.1 503.6 446.3 503.8 445.3 503.9 451.9 504.0 451.1 504.2 452.1 504.3 452.8 504.4 454.3 504.6 458.9 504.7 457.4 504.8 460.7 505.0 463.1 505.1 466.7 505.2 466.1 505.4 466.4 505.5 467.1 505.6 470.7 505.8 472.3 505.9 471.1 506.0 474.2 506.2 474.2 506.3 472.9 506.4 475.3 506.6 479.8 506.7 482.2 506.8 482.0 507.0 481.6 507.1 481.8 507.2 485.2 507.4 485.8 507.5 483.2 507.6 488.2 507.8 486.5 507.9 489.8 508.0 490.3 508.2 491.3 508.3 492.5 508.4 492.4 508.6 489.6 508.7 490.2 508.8 494.7 508.9 494.2 509.1 491.0 509.2 490.9 509.3 497.0 509.5 500.2 509.6 498.2 509.7 496.8 509.9 498.4 510.0 493.2 510.1 497.0 510.3 501.4 510.4 501.6 510.5 496.3 510.7 503.1 510.8 502.4 510.9 503.6 511.1 502.0 511.2 502.9 511.3 501.5 511.5 504.9 511.6 506.8 511.7 504.0 511.9 507.4 512.0 506.5 512.1 510.4 512.3 511.1 512.4 505.4 512.5 511.8 512.7 513.7 M534.0 509.5 534.2 507.2 534.3 511.6 534.4 509.3 534.6 509.4 534.7 506.5 534.8 507.2 535.0 504.9 535.1 502.5 535.2 503.9 535.4 503.3 535.5 502.7 535.6 504.3 535.8 498.1 535.9 501.5 536.0 498.9 536.2 499.3 536.3 500.0 536.4 498.4 536.6 496.1 536.7 497.8 536.8 495.1 537.0 495.7 537.1 495.2 537.2 491.3 537.4 489.1 537.5 490.4 537.6 490.9 537.8 489.2 537.9 485.7 538.0 484.0 538.2 484.6 538.3 483.8 538.4 485.8 538.6 484.0 538.7 484.7 538.8 482.2 539.0 484.6 539.1 480.9 539.2 481.3 539.3 479.0 539.5 479.9 539.6 480.5 539.7 479.4 539.9 479.7 540.0 475.8 540.1 477.4 540.3 478.5 540.4 475.3 540.5 473.9 540.7 473.1 540.8 471.8 540.9 472.2 541.1 473.6 541.2 471.2 541.3 469.6 541.5 467.4 541.6 465.9 541.7 470.9 541.9 464.6 542.0 464.7 542.1 462.5 542.3 462.2 542.4 459.7 542.5 459.1 542.7 459.8 542.8 454.8 542.9 455.6 543.1 453.4 543.2 453.6 543.3 450.3 543.5 451.2 543.6 448.1 543.7 446.0 543.9 446.0 544.0 445.7 544.1 444.6 544.3 445.0 544.4 446.4 544.5 442.1 544.7 443.7 544.8 442.4 544.9 440.3 545.1 439.0 545.2 440.2 545.3 439.2 545.5 436.8 545.6 436.0 545.7 435.1 545.9 431.9 546.0 432.9 546.1 432.2 546.3 433.3 546.4 427.8 546.5 427.5 546.6 427.9 546.8 426.0 546.9 425.2 547.0 424.7 547.2 423.2 547.3 422.3 547.4 421.8 547.6 417.5 547.7 415.6 547.8 406.6 548.0 406.9 548.1 400.8 548.2 393.3 548.4 390.8 548.5 384.2 548.6 379.8 548.8 375.0 548.9 369.2 549.0 363.4 549.2 358.6 549.3 352.0 549.4 346.1 549.6 339.2 549.7 331.4 549.8 329.3 550.0 321.7 550.1 312.7 550.2 307.9 550.4 301.2 550.5 292.3 550.6 287.1 550.8 281.3 550.9 276.4 551.0 269.3 551.2 262.9 551.3 252.1 551.4 240.8 551.6 227.2 551.7 216.7 551.8 204.8 552.0 191.5 552.1 180.6 552.2 148.4 552.4 116.1 552.5 82.3 552.6 48.2 552.8 15.5 552.9 -17.8 553.0 -28.2 553.2 4.1 553.3 36.9 553.4 69.6 553.6 103.4 553.7 136.5 553.8 168.7 554.0 187.5 554.1 199.8 554.2 212.9 554.3 222.8 554.5 235.6 554.6 247.7 554.7 259.7 554.9 267.2 555.0 273.6 555.1 279.8 555.3 287.7 555.4 294.1 555.5 300.1 555.7 306.8 555.8 312.1 555.9 320.2 556.1 326.0 556.2 332.4 556.3 340.1 556.5 344.0 556.6 350.5 556.7 356.3 556.9 362.6 557.0 367.0 557.1 372.9 557.3 379.5 557.4 383.6 557.5 385.4 557.7 390.4 557.8 396.6 557.9 401.7 558.1 405.3 558.2 409.6 558.3 415.8 558.5 419.8 558.6 424.0 558.7 425.6 558.9 422.9 559.0 424.9 559.1 424.8 559.3 425.6 559.4 429.0 559.5 430.2 559.7 429.8 559.8 433.7 559.9 432.9 560.1 436.0 560.2 434.7 560.3 437.8 560.5 437.3 560.6 438.7 560.7 440.4 560.9 438.2 561.0 439.9 561.1 441.7 561.3 442.2 561.4 443.8 561.5 443.0 561.7 443.2 561.8 446.0 561.9 447.6 562.0 446.9 562.2 451.1 562.3 451.3 562.4 453.1 562.6 453.4 562.7 451.9 562.8 457.8 563.0 454.5 563.1 457.5 563.2 459.4 563.4 460.3 563.5 461.1 563.6 460.7 563.8 462.5 563.9 464.3 564.0 467.4 564.2 465.2 564.3 468.4 564.4 469.1 564.6 469.5 564.7 469.5 564.8 471.2 565.0 469.6 565.1 473.7 565.2 475.0 565.4 474.4 565.5 476.9 565.6 477.2 565.8 476.0 565.9 480.0 566.0 477.4 566.2 483.0 566.3 476.9 566.4 478.7 566.6 479.8 566.7 482.2 566.8 484.7 567.0 483.9 567.1 484.1 567.2 489.2 567.4 488.6 567.5 487.3 567.6 488.6 567.8 487.0 567.9 490.6 568.0 494.5 568.2 490.1 568.3 490.5 568.4 494.0 568.6 490.2 568.7 497.8 568.8 493.2 569.0 495.4 569.1 497.5 569.2 501.1 569.4 500.7 569.5 495.9 569.6 499.1 569.7 503.9 569.9 500.8 570.0 505.4 570.1 505.7 570.3 509.9 570.4 511.9 570.5 505.9"/>
</g>
<line x1="1003" y1="217" x2="1003" y2="557" stroke-width="1.6"/>
</g>
<g stroke="#333" stroke-width="1.6"><line x1="232.5" y1="84.4" x2="232.5" y2="136.6"/><line x1="973.8" y1="260.2" x2="973.8" y2="372.5"/><line x1="232.5" y1="166.0" x2="232.5" y2="507.2"/><line x1="973.8" y1="427.0" x2="973.8" y2="556.7"/></g>
<polygon points="225.50,97.60 230.10,102.20 225.50,106.80 220.90,102.20" fill="none" stroke="#000" stroke-width="2.1" stroke-linejoin="round"/><polygon points="259.00,107.80 263.60,112.40 259.00,117.00 254.40,112.40" fill="none" stroke="#000" stroke-width="2.1" stroke-linejoin="round"/><polygon points="271.30,66.89 273.55,72.94 279.38,73.47 274.94,77.73 276.30,84.11 271.30,80.69 266.30,84.11 267.66,77.73 263.22,73.47 269.05,72.94" fill="#000"/><polygon points="271.30,87.03 265.33,97.45 277.27,97.45" fill="#000" stroke="#000" stroke-width="1.6" stroke-linejoin="round"/><polygon points="322.80,86.79 325.05,92.84 330.88,93.37 326.44,97.63 327.80,104.01 322.80,100.59 317.80,104.01 319.16,97.63 314.72,93.37 320.55,92.84" fill="#000"/><polygon points="322.80,107.43 316.83,117.85 328.77,117.85" fill="#000" stroke="#000" stroke-width="1.6" stroke-linejoin="round"/><polygon points="377.20,126.40 381.80,131.00 377.20,135.60 372.60,131.00" fill="none" stroke="#000" stroke-width="2.1" stroke-linejoin="round"/><polygon points="487.50,104.39 489.75,110.44 495.58,110.97 491.14,115.23 492.50,121.61 487.50,118.19 482.50,121.61 483.86,115.23 479.42,110.97 485.25,110.44" fill="#000"/><polygon points="506.10,42.63 500.13,53.05 512.07,53.05" fill="#000" stroke="#000" stroke-width="1.6" stroke-linejoin="round"/><polygon points="908.00,153.13 902.03,163.55 913.97,163.55" fill="#000" stroke="#000" stroke-width="1.6" stroke-linejoin="round"/><polygon points="930.00,140.49 932.25,146.54 938.08,147.07 933.64,151.33 935.00,157.71 930.00,154.29 925.00,157.71 926.36,151.33 921.92,147.07 927.75,146.54" fill="#000"/><rect x="633.20" y="31.70" width="12.00" height="12.00" rx="2" fill="#000"/><circle cx="709.00" cy="38.60" r="4.30" fill="none" stroke="#000" stroke-width="2.5"/><polygon points="778.40,33.63 772.43,44.05 784.37,44.05" fill="#000" stroke="#000" stroke-width="1.6" stroke-linejoin="round"/><polygon points="874.90,29.99 877.15,36.04 882.98,36.57 878.54,40.83 879.90,47.21 874.90,43.79 869.90,47.21 871.26,40.83 866.82,36.57 872.65,36.04" fill="#000"/><polygon points="957.70,34.20 962.10,38.60 957.70,43.00 953.30,38.60" fill="none" stroke="#000" stroke-width="2.1" stroke-linejoin="round"/><polygon points="221.40,284.50 226.00,289.10 221.40,293.70 216.80,289.10" fill="none" stroke="#000" stroke-width="2.1" stroke-linejoin="round"/><polygon points="259.00,292.80 263.60,297.40 259.00,302.00 254.40,297.40" fill="none" stroke="#000" stroke-width="2.1" stroke-linejoin="round"/><polygon points="273.50,260.59 275.75,266.64 281.58,267.17 277.14,271.43 278.50,277.81 273.50,274.39 268.50,277.81 269.86,271.43 265.42,267.17 271.25,266.64" fill="#000"/><polygon points="273.50,281.63 267.53,292.05 279.47,292.05" fill="#000" stroke="#000" stroke-width="1.6" stroke-linejoin="round"/><rect x="293.40" y="226.20" width="12.00" height="12.00" rx="2" fill="#000"/><polygon points="376.30,311.60 380.90,316.20 376.30,320.80 371.70,316.20" fill="none" stroke="#000" stroke-width="2.1" stroke-linejoin="round"/><polygon points="500.30,196.59 502.55,202.64 508.38,203.17 503.94,207.43 505.30,213.81 500.30,210.39 495.30,213.81 496.66,207.43 492.22,203.17 498.05,202.64" fill="#000"/><polygon points="518.00,248.33 512.03,258.75 523.97,258.75" fill="#000" stroke="#000" stroke-width="1.6" stroke-linejoin="round"/><rect x="585.50" y="293.20" width="12.00" height="12.00" rx="2" fill="#000"/><rect x="711.50" y="347.70" width="12.00" height="12.00" rx="2" fill="#000"/><polygon points="891.20,334.39 893.45,340.44 899.28,340.97 894.84,345.23 896.20,351.61 891.20,348.19 886.20,351.61 887.56,345.23 883.12,340.97 888.95,340.44" fill="#000"/><polygon points="910.20,348.03 904.23,358.45 916.17,358.45" fill="#000" stroke="#000" stroke-width="1.6" stroke-linejoin="round"/><polygon points="931.90,334.39 934.15,340.44 939.98,340.97 935.54,345.23 936.90,351.61 931.90,348.19 926.90,351.61 928.26,345.23 923.82,340.97 929.65,340.44" fill="#000"/><rect x="960.50" y="328.60" width="12.00" height="12.00" rx="2" fill="#000"/><circle cx="171.00" cy="454.80" r="4.30" fill="none" stroke="#000" stroke-width="2.5"/><circle cx="265.00" cy="479.20" r="4.30" fill="none" stroke="#000" stroke-width="2.5"/><polygon points="272.90,436.69 275.15,442.74 280.98,443.27 276.54,447.53 277.90,453.91 272.90,450.49 267.90,453.91 269.26,447.53 264.82,443.27 270.65,442.74" fill="#000"/><polygon points="272.90,458.43 266.93,468.85 278.87,468.85" fill="#000" stroke="#000" stroke-width="1.6" stroke-linejoin="round"/><polygon points="322.50,450.39 324.75,456.44 330.58,456.97 326.14,461.23 327.50,467.61 322.50,464.19 317.50,467.61 318.86,461.23 314.42,456.97 320.25,456.44" fill="#000"/><polygon points="322.50,474.23 316.53,484.65 328.47,484.65" fill="#000" stroke="#000" stroke-width="1.6" stroke-linejoin="round"/><circle cx="413.80" cy="510.20" r="4.30" fill="none" stroke="#000" stroke-width="2.5"/><polygon points="500.10,400.39 502.35,406.44 508.18,406.97 503.74,411.23 505.10,417.61 500.10,414.19 495.10,417.61 496.46,411.23 492.02,406.97 497.85,406.44" fill="#000"/><polygon points="514.30,458.43 508.33,468.85 520.27,468.85" fill="#000" stroke="#000" stroke-width="1.6" stroke-linejoin="round"/><circle cx="527.60" cy="485.50" r="4.30" fill="none" stroke="#000" stroke-width="2.5"/><circle cx="637.30" cy="528.50" r="4.30" fill="none" stroke="#000" stroke-width="2.5"/><polygon points="891.50,518.19 893.75,524.24 899.58,524.77 895.14,529.03 896.50,535.41 891.50,531.99 886.50,535.41 887.86,529.03 883.42,524.77 889.25,524.24" fill="#000"/><polygon points="909.40,531.53 903.43,541.95 915.37,541.95" fill="#000" stroke="#000" stroke-width="1.6" stroke-linejoin="round"/><polygon points="926.90,518.39 929.15,524.44 934.98,524.97 930.54,529.23 931.90,535.61 926.90,532.19 921.90,535.61 923.26,529.23 918.82,524.97 924.65,524.44" fill="#000"/>
<g font-family='"Liberation Sans", sans-serif' font-size="22.5" fill="#000"><text transform="translate(98.5 18.4) scale(1 1.08)" text-anchor="end">10000</text><text transform="translate(98.5 163.2) scale(1 1.08)" text-anchor="end">1000</text><text transform="translate(98.5 307.9) scale(1 1.08)" text-anchor="end">100</text><text transform="translate(98.5 452.6) scale(1 1.08)" text-anchor="end">10</text><text transform="translate(98.5 597.4) scale(1 1.08)" text-anchor="end">1</text><text transform="translate(118.0 623.9) scale(1 1.08)" text-anchor="middle">20</text><text transform="translate(206.5 623.9) scale(1 1.08)" text-anchor="middle">30</text><text transform="translate(295.0 623.9) scale(1 1.08)" text-anchor="middle">40</text><text transform="translate(383.5 623.9) scale(1 1.08)" text-anchor="middle">50</text><text transform="translate(472.0 623.9) scale(1 1.08)" text-anchor="middle">60</text><text transform="translate(560.5 623.9) scale(1 1.08)" text-anchor="middle">70</text><text transform="translate(649.0 623.9) scale(1 1.08)" text-anchor="middle">80</text><text transform="translate(737.5 623.9) scale(1 1.08)" text-anchor="middle">90</text><text transform="translate(826.0 623.9) scale(1 1.08)" text-anchor="middle">100</text><text transform="translate(914.5 623.9) scale(1 1.08)" text-anchor="middle">110</text><text transform="translate(1003.0 623.9) scale(1 1.08)" text-anchor="middle">120</text>
<text transform="translate(141.1 77.5) scale(1 1.06)" font-size="22" text-anchor="middle">c</text>
<text transform="translate(141.1 255) scale(1 1.06)" font-size="22" text-anchor="middle">b</text>
<text transform="translate(140.7 439.7) scale(1 1.06)" font-size="22" text-anchor="middle">a</text>
<text x="560.3" y="658" font-size="25.5" font-weight="bold" text-anchor="middle">2 Theta</text>
<text transform="translate(24.7 300.5) rotate(-90)" font-size="25.9" font-weight="bold" text-anchor="middle">Intensity (arb. units)</text>
</g>
<g font-family='"Liberation Serif", serif' font-size="25.5" fill="#000">
<text x="640.7" y="76" text-anchor="middle">Mo</text>
<text x="702.4" y="76" text-anchor="middle">MoO<tspan font-size="14.5" dy="5.3">2</tspan></text>
<text x="786.8" y="76" text-anchor="middle">Mo<tspan font-size="14.5" dy="5.3">2</tspan><tspan dy="-5.3">Nβ</tspan></text>
<text x="876.4" y="76" text-anchor="middle">Mo<tspan font-size="14.5" dy="5.3">2</tspan><tspan dy="-5.3">Nγ</tspan></text>
<text x="960" y="76" text-anchor="middle">MoNδ</text>
<text x="882.2" y="535.8" font-size="17.4" text-anchor="end">(331)</text>
<text x="935.2" y="535.8" font-size="17.4">(420)</text>
</g>
</svg>
</body></html>
